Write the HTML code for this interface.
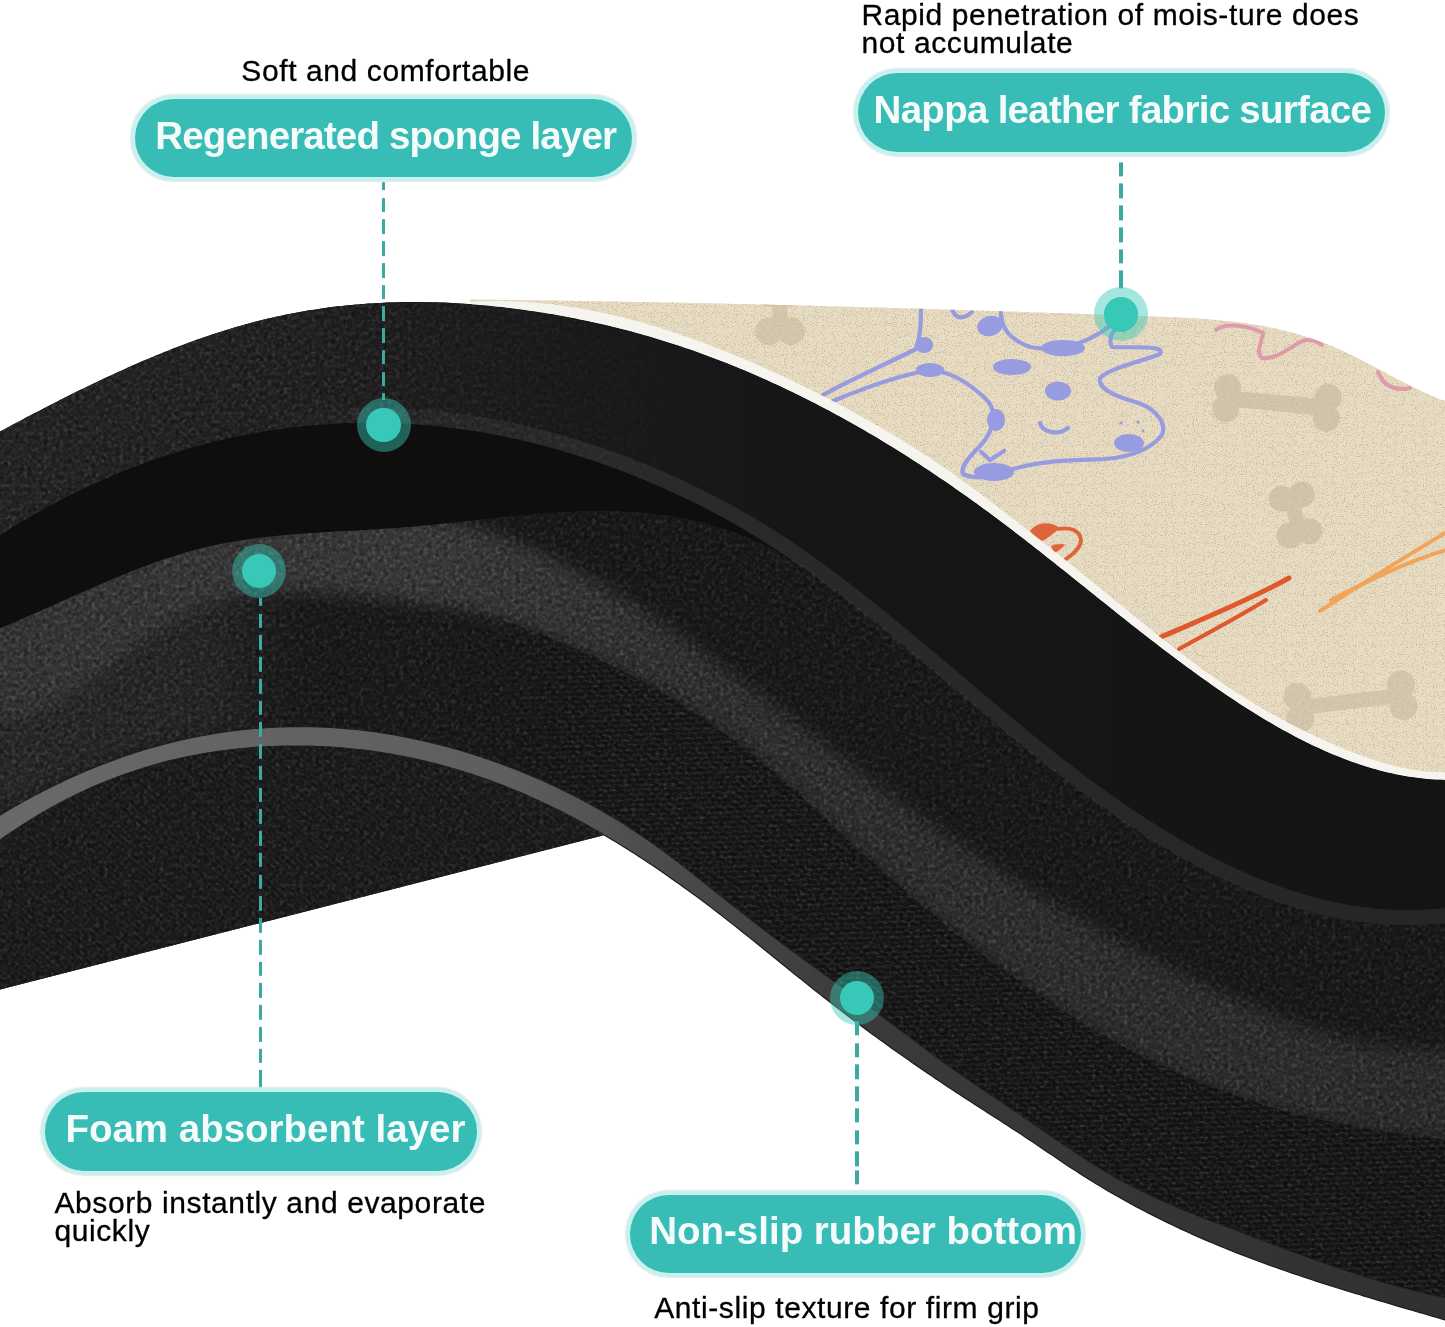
<!DOCTYPE html>
<html><head><meta charset="utf-8"><style>
html,body{margin:0;padding:0;}
body{width:1445px;height:1327px;position:relative;overflow:hidden;background:#fff;font-family:"Liberation Sans",sans-serif;}
.t{position:absolute;color:#000;-webkit-text-stroke:0.3px #000;font-size:30px;line-height:28px;white-space:nowrap;transform-origin:0 0;letter-spacing:0.6px}
.pt{position:absolute;color:#f4fbfa;font-weight:bold;line-height:1;white-space:nowrap;transform-origin:0 0}
</style></head><body>
<svg width="1445" height="1327" viewBox="0 0 1445 1327" style="position:absolute;left:0;top:0">

<path d="M-12.0,431.5 0.0,431.5 4.0,429.4 8.0,427.2 12.0,425.1 16.0,423.0 20.0,420.9 24.0,418.7 28.0,416.6 32.0,414.5 36.0,412.5 40.0,410.4 44.0,408.3 48.0,406.3 52.0,404.2 56.0,402.2 60.0,400.1 64.0,398.1 68.0,396.1 72.0,394.1 76.0,392.1 80.0,390.1 84.0,388.2 88.0,386.2 92.0,384.3 96.0,382.4 100.0,380.5 104.0,378.6 108.0,376.7 112.0,374.9 116.0,373.0 120.0,371.2 124.0,369.4 128.0,367.6 132.0,365.8 136.0,364.0 140.0,362.3 144.0,360.6 148.0,358.9 152.0,357.2 156.0,355.5 160.0,353.9 164.0,352.3 168.0,350.7 172.0,349.1 176.0,347.5 180.0,346.0 184.0,344.5 188.0,343.0 192.0,341.5 196.0,340.1 200.0,338.7 204.0,337.3 208.0,335.9 212.0,334.6 216.0,333.2 220.0,331.9 224.0,330.7 228.0,329.4 232.0,328.2 236.0,327.0 240.0,325.9 244.0,324.8 248.0,323.7 252.0,322.6 256.0,321.6 260.0,320.5 264.0,319.6 268.0,318.6 272.0,317.7 276.0,316.8 280.0,315.9 284.0,315.1 288.0,314.3 292.0,313.5 296.0,312.7 300.0,312.0 304.0,311.3 308.0,310.6 312.0,310.0 316.0,309.4 320.0,308.8 324.0,308.2 328.0,307.6 332.0,307.1 336.0,306.6 340.0,306.2 344.0,305.7 348.0,305.3 352.0,304.9 356.0,304.6 360.0,304.2 364.0,303.9 368.0,303.6 372.0,303.4 376.0,303.1 380.0,302.9 384.0,302.7 388.0,302.6 392.0,302.4 396.0,302.3 400.0,302.2 404.0,302.1 408.0,302.1 412.0,302.0 416.0,302.0 420.0,302.1 424.0,302.1 428.0,302.2 432.0,302.2 436.0,302.3 440.0,302.5 444.0,302.6 448.0,302.8 452.0,303.0 456.0,303.2 460.0,303.4 464.0,303.7 468.0,303.9 472.0,304.2 476.0,304.6 480.0,304.9 484.0,305.2 488.0,305.6 492.0,306.0 496.0,306.4 500.0,306.8 504.0,307.3 508.0,307.8 512.0,308.3 516.0,308.8 520.0,309.3 524.0,309.8 528.0,310.4 532.0,311.0 536.0,311.6 540.0,312.2 544.0,312.8 548.0,313.5 552.0,314.1 556.0,314.8 560.0,315.5 564.0,316.3 568.0,317.0 572.0,317.8 576.0,318.6 580.0,319.4 584.0,320.2 588.0,321.0 592.0,321.9 596.0,322.8 600.0,323.7 604.0,324.6 608.0,325.6 612.0,326.5 616.0,327.5 620.0,328.5 624.0,329.5 628.0,330.6 632.0,331.6 636.0,332.7 640.0,333.8 644.0,335.0 648.0,336.1 652.0,337.3 656.0,338.5 660.0,339.7 664.0,340.9 668.0,342.2 672.0,343.4 676.0,344.7 680.0,346.1 684.0,347.4 688.0,348.8 692.0,350.1 696.0,351.5 700.0,353.0 704.0,354.4 708.0,355.9 712.0,357.4 716.0,358.9 720.0,360.4 724.0,362.0 728.0,363.6 732.0,365.2 736.0,366.8 740.0,368.4 744.0,370.1 748.0,371.8 752.0,373.5 756.0,375.2 760.0,377.0 764.0,378.8 768.0,380.6 772.0,382.4 776.0,384.2 780.0,386.1 784.0,388.0 788.0,389.9 792.0,391.8 796.0,393.7 800.0,395.7 804.0,397.7 808.0,399.7 812.0,401.7 816.0,403.8 820.0,405.9 824.0,408.0 828.0,410.1 832.0,412.2 836.0,414.4 840.0,416.6 844.0,418.8 848.0,421.0 852.0,423.2 856.0,425.5 860.0,427.8 864.0,430.1 868.0,432.4 872.0,434.8 876.0,437.1 880.0,439.5 884.0,441.9 888.0,444.4 892.0,446.8 896.0,449.3 900.0,451.8 904.0,454.3 908.0,456.8 912.0,459.4 916.0,462.0 920.0,464.6 924.0,467.2 928.0,469.8 932.0,472.5 936.0,475.2 940.0,477.9 944.0,480.6 948.0,483.3 952.0,486.1 956.0,488.9 960.0,491.7 964.0,494.5 968.0,497.3 972.0,500.2 976.0,503.0 980.0,505.9 984.0,508.9 988.0,511.8 992.0,514.8 996.0,517.7 1000.0,520.7 1004.0,523.7 1008.0,526.8 1012.0,529.8 1016.0,532.9 1020.0,536.0 1024.0,539.1 1028.0,542.2 1032.0,545.3 1036.0,548.4 1040.0,551.6 1044.0,554.7 1048.0,557.9 1052.0,561.1 1056.0,564.2 1060.0,567.4 1064.0,570.6 1068.0,573.8 1072.0,577.0 1076.0,580.2 1080.0,583.4 1084.0,586.6 1088.0,589.8 1092.0,593.0 1096.0,596.2 1100.0,599.4 1104.0,602.6 1108.0,605.8 1112.0,609.0 1116.0,612.2 1120.0,615.4 1124.0,618.6 1128.0,621.7 1132.0,624.9 1136.0,628.0 1140.0,631.2 1144.0,634.3 1148.0,637.4 1152.0,640.5 1156.0,643.6 1160.0,646.7 1164.0,649.7 1168.0,652.8 1172.0,655.8 1176.0,658.8 1180.0,661.8 1184.0,664.8 1188.0,667.7 1192.0,670.6 1196.0,673.5 1200.0,676.4 1204.0,679.3 1208.0,682.1 1212.0,684.9 1216.0,687.7 1220.0,690.5 1224.0,693.2 1228.0,695.9 1232.0,698.6 1236.0,701.2 1240.0,703.9 1244.0,706.4 1248.0,709.0 1252.0,711.5 1256.0,714.0 1260.0,716.5 1264.0,718.9 1268.0,721.3 1272.0,723.6 1276.0,725.9 1280.0,728.2 1284.0,730.4 1288.0,732.6 1292.0,734.8 1296.0,736.9 1300.0,738.9 1304.0,741.0 1308.0,742.9 1312.0,744.9 1316.0,746.8 1320.0,748.6 1324.0,750.4 1328.0,752.2 1332.0,753.9 1336.0,755.5 1340.0,757.1 1344.0,758.7 1348.0,760.2 1352.0,761.7 1356.0,763.1 1360.0,764.4 1364.0,765.7 1368.0,767.0 1372.0,768.2 1376.0,769.3 1380.0,770.4 1384.0,771.4 1388.0,772.4 1392.0,773.3 1396.0,774.2 1400.0,775.0 1404.0,775.7 1408.0,776.4 1412.0,777.0 1416.0,777.6 1420.0,778.1 1424.0,778.5 1428.0,778.9 1432.0,779.2 1436.0,779.5 1440.0,779.6 1444.0,779.8 1445.0,779.8 1457.0,779.8 L1457,1340 L1445,1340 L1445.0,1320.0 1444.0,1319.7 1440.0,1318.5 1436.0,1317.3 1432.0,1316.1 1428.0,1315.0 1424.0,1313.8 1420.0,1312.6 1416.0,1311.5 1412.0,1310.3 1408.0,1309.1 1404.0,1307.9 1400.0,1306.8 1396.0,1305.6 1392.0,1304.4 1388.0,1303.2 1384.0,1302.0 1380.0,1300.9 1376.0,1299.7 1372.0,1298.5 1368.0,1297.3 1364.0,1296.1 1360.0,1294.8 1356.0,1293.6 1352.0,1292.4 1348.0,1291.2 1344.0,1289.9 1340.0,1288.7 1336.0,1287.5 1332.0,1286.2 1328.0,1284.9 1324.0,1283.7 1320.0,1282.4 1316.0,1281.1 1312.0,1279.8 1308.0,1278.5 1304.0,1277.1 1300.0,1275.8 1296.0,1274.4 1292.0,1273.1 1288.0,1271.7 1284.0,1270.3 1280.0,1268.9 1276.0,1267.5 1272.0,1266.1 1268.0,1264.7 1264.0,1263.2 1260.0,1261.7 1256.0,1260.2 1252.0,1258.7 1248.0,1257.2 1244.0,1255.7 1240.0,1254.1 1236.0,1252.6 1232.0,1251.0 1228.0,1249.4 1224.0,1247.8 1220.0,1246.1 1216.0,1244.5 1212.0,1242.8 1208.0,1241.1 1204.0,1239.4 1200.0,1237.6 1196.0,1235.9 1192.0,1234.1 1188.0,1232.3 1184.0,1230.4 1180.0,1228.6 1176.0,1226.7 1172.0,1224.8 1168.0,1222.9 1164.0,1220.9 1160.0,1219.0 1156.0,1217.0 1152.0,1214.9 1148.0,1212.9 1144.0,1210.8 1140.0,1208.7 1136.0,1206.6 1132.0,1204.4 1128.0,1202.2 1124.0,1200.0 1120.0,1197.8 1116.0,1195.5 1112.0,1193.2 1108.0,1190.9 1104.0,1188.5 1100.0,1186.1 1096.0,1183.7 1092.0,1181.3 1088.0,1178.8 1084.0,1176.2 1080.0,1173.7 1076.0,1171.1 1072.0,1168.5 1068.0,1165.9 1064.0,1163.2 1060.0,1160.5 1056.0,1157.8 1052.0,1155.1 1048.0,1152.4 1044.0,1149.7 1040.0,1147.0 1036.0,1144.3 1032.0,1141.6 1028.0,1139.0 1024.0,1136.3 1020.0,1133.6 1016.0,1131.0 1012.0,1128.4 1008.0,1125.8 1004.0,1123.2 1000.0,1120.6 996.0,1118.1 992.0,1115.5 988.0,1112.9 984.0,1110.3 980.0,1107.8 976.0,1105.2 972.0,1102.6 968.0,1100.0 964.0,1097.4 960.0,1094.8 956.0,1092.2 952.0,1089.5 948.0,1086.9 944.0,1084.2 940.0,1081.5 936.0,1078.9 932.0,1076.1 928.0,1073.4 924.0,1070.7 920.0,1068.0 916.0,1065.2 912.0,1062.4 908.0,1059.6 904.0,1056.8 900.0,1054.0 896.0,1051.2 892.0,1048.4 888.0,1045.5 884.0,1042.6 880.0,1039.7 876.0,1036.8 872.0,1033.9 868.0,1031.0 864.0,1028.0 860.0,1025.0 856.0,1022.0 852.0,1019.0 848.0,1016.0 844.0,1013.0 840.0,1009.9 836.0,1006.8 832.0,1003.7 828.0,1000.6 824.0,997.5 820.0,994.4 816.0,991.2 812.0,988.0 808.0,984.8 804.0,981.6 800.0,978.4 796.0,975.2 792.0,972.0 788.0,968.7 784.0,965.5 780.0,962.2 776.0,959.0 772.0,955.7 768.0,952.5 764.0,949.3 760.0,946.0 756.0,942.8 752.0,939.6 748.0,936.4 744.0,933.2 740.0,930.0 736.0,926.8 732.0,923.6 728.0,920.5 724.0,917.4 720.0,914.3 716.0,911.2 712.0,908.1 708.0,905.1 704.0,902.1 700.0,899.1 696.0,896.1 692.0,893.2 688.0,890.3 684.0,887.4 680.0,884.5 676.0,881.7 672.0,878.9 668.0,876.1 664.0,873.3 660.0,870.6 656.0,867.8 652.0,865.1 648.0,862.5 644.0,859.8 640.0,857.2 636.0,854.6 632.0,852.1 628.0,849.5 624.0,847.0 620.0,844.6 616.0,842.1 612.0,839.7 608.0,837.3 604.0,834.9 L0,989.5 L-12,992 Z" fill="#1a1a1a"/>
</svg>
<svg width="1545" height="1427" viewBox="-50 -50 1545 1427" style="position:absolute;left:-50px;top:-50px;filter:blur(8px)">
<defs><clipPath id="silclip"><path d="M-12.0,431.5 0.0,431.5 4.0,429.4 8.0,427.2 12.0,425.1 16.0,423.0 20.0,420.9 24.0,418.7 28.0,416.6 32.0,414.5 36.0,412.5 40.0,410.4 44.0,408.3 48.0,406.3 52.0,404.2 56.0,402.2 60.0,400.1 64.0,398.1 68.0,396.1 72.0,394.1 76.0,392.1 80.0,390.1 84.0,388.2 88.0,386.2 92.0,384.3 96.0,382.4 100.0,380.5 104.0,378.6 108.0,376.7 112.0,374.9 116.0,373.0 120.0,371.2 124.0,369.4 128.0,367.6 132.0,365.8 136.0,364.0 140.0,362.3 144.0,360.6 148.0,358.9 152.0,357.2 156.0,355.5 160.0,353.9 164.0,352.3 168.0,350.7 172.0,349.1 176.0,347.5 180.0,346.0 184.0,344.5 188.0,343.0 192.0,341.5 196.0,340.1 200.0,338.7 204.0,337.3 208.0,335.9 212.0,334.6 216.0,333.2 220.0,331.9 224.0,330.7 228.0,329.4 232.0,328.2 236.0,327.0 240.0,325.9 244.0,324.8 248.0,323.7 252.0,322.6 256.0,321.6 260.0,320.5 264.0,319.6 268.0,318.6 272.0,317.7 276.0,316.8 280.0,315.9 284.0,315.1 288.0,314.3 292.0,313.5 296.0,312.7 300.0,312.0 304.0,311.3 308.0,310.6 312.0,310.0 316.0,309.4 320.0,308.8 324.0,308.2 328.0,307.6 332.0,307.1 336.0,306.6 340.0,306.2 344.0,305.7 348.0,305.3 352.0,304.9 356.0,304.6 360.0,304.2 364.0,303.9 368.0,303.6 372.0,303.4 376.0,303.1 380.0,302.9 384.0,302.7 388.0,302.6 392.0,302.4 396.0,302.3 400.0,302.2 404.0,302.1 408.0,302.1 412.0,302.0 416.0,302.0 420.0,302.1 424.0,302.1 428.0,302.2 432.0,302.2 436.0,302.3 440.0,302.5 444.0,302.6 448.0,302.8 452.0,303.0 456.0,303.2 460.0,303.4 464.0,303.7 468.0,303.9 472.0,304.2 476.0,304.6 480.0,304.9 484.0,305.2 488.0,305.6 492.0,306.0 496.0,306.4 500.0,306.8 504.0,307.3 508.0,307.8 512.0,308.3 516.0,308.8 520.0,309.3 524.0,309.8 528.0,310.4 532.0,311.0 536.0,311.6 540.0,312.2 544.0,312.8 548.0,313.5 552.0,314.1 556.0,314.8 560.0,315.5 564.0,316.3 568.0,317.0 572.0,317.8 576.0,318.6 580.0,319.4 584.0,320.2 588.0,321.0 592.0,321.9 596.0,322.8 600.0,323.7 604.0,324.6 608.0,325.6 612.0,326.5 616.0,327.5 620.0,328.5 624.0,329.5 628.0,330.6 632.0,331.6 636.0,332.7 640.0,333.8 644.0,335.0 648.0,336.1 652.0,337.3 656.0,338.5 660.0,339.7 664.0,340.9 668.0,342.2 672.0,343.4 676.0,344.7 680.0,346.1 684.0,347.4 688.0,348.8 692.0,350.1 696.0,351.5 700.0,353.0 704.0,354.4 708.0,355.9 712.0,357.4 716.0,358.9 720.0,360.4 724.0,362.0 728.0,363.6 732.0,365.2 736.0,366.8 740.0,368.4 744.0,370.1 748.0,371.8 752.0,373.5 756.0,375.2 760.0,377.0 764.0,378.8 768.0,380.6 772.0,382.4 776.0,384.2 780.0,386.1 784.0,388.0 788.0,389.9 792.0,391.8 796.0,393.7 800.0,395.7 804.0,397.7 808.0,399.7 812.0,401.7 816.0,403.8 820.0,405.9 824.0,408.0 828.0,410.1 832.0,412.2 836.0,414.4 840.0,416.6 844.0,418.8 848.0,421.0 852.0,423.2 856.0,425.5 860.0,427.8 864.0,430.1 868.0,432.4 872.0,434.8 876.0,437.1 880.0,439.5 884.0,441.9 888.0,444.4 892.0,446.8 896.0,449.3 900.0,451.8 904.0,454.3 908.0,456.8 912.0,459.4 916.0,462.0 920.0,464.6 924.0,467.2 928.0,469.8 932.0,472.5 936.0,475.2 940.0,477.9 944.0,480.6 948.0,483.3 952.0,486.1 956.0,488.9 960.0,491.7 964.0,494.5 968.0,497.3 972.0,500.2 976.0,503.0 980.0,505.9 984.0,508.9 988.0,511.8 992.0,514.8 996.0,517.7 1000.0,520.7 1004.0,523.7 1008.0,526.8 1012.0,529.8 1016.0,532.9 1020.0,536.0 1024.0,539.1 1028.0,542.2 1032.0,545.3 1036.0,548.4 1040.0,551.6 1044.0,554.7 1048.0,557.9 1052.0,561.1 1056.0,564.2 1060.0,567.4 1064.0,570.6 1068.0,573.8 1072.0,577.0 1076.0,580.2 1080.0,583.4 1084.0,586.6 1088.0,589.8 1092.0,593.0 1096.0,596.2 1100.0,599.4 1104.0,602.6 1108.0,605.8 1112.0,609.0 1116.0,612.2 1120.0,615.4 1124.0,618.6 1128.0,621.7 1132.0,624.9 1136.0,628.0 1140.0,631.2 1144.0,634.3 1148.0,637.4 1152.0,640.5 1156.0,643.6 1160.0,646.7 1164.0,649.7 1168.0,652.8 1172.0,655.8 1176.0,658.8 1180.0,661.8 1184.0,664.8 1188.0,667.7 1192.0,670.6 1196.0,673.5 1200.0,676.4 1204.0,679.3 1208.0,682.1 1212.0,684.9 1216.0,687.7 1220.0,690.5 1224.0,693.2 1228.0,695.9 1232.0,698.6 1236.0,701.2 1240.0,703.9 1244.0,706.4 1248.0,709.0 1252.0,711.5 1256.0,714.0 1260.0,716.5 1264.0,718.9 1268.0,721.3 1272.0,723.6 1276.0,725.9 1280.0,728.2 1284.0,730.4 1288.0,732.6 1292.0,734.8 1296.0,736.9 1300.0,738.9 1304.0,741.0 1308.0,742.9 1312.0,744.9 1316.0,746.8 1320.0,748.6 1324.0,750.4 1328.0,752.2 1332.0,753.9 1336.0,755.5 1340.0,757.1 1344.0,758.7 1348.0,760.2 1352.0,761.7 1356.0,763.1 1360.0,764.4 1364.0,765.7 1368.0,767.0 1372.0,768.2 1376.0,769.3 1380.0,770.4 1384.0,771.4 1388.0,772.4 1392.0,773.3 1396.0,774.2 1400.0,775.0 1404.0,775.7 1408.0,776.4 1412.0,777.0 1416.0,777.6 1420.0,778.1 1424.0,778.5 1428.0,778.9 1432.0,779.2 1436.0,779.5 1440.0,779.6 1444.0,779.8 1445.0,779.8 1457.0,779.8 L1457,1340 L1445,1340 L1445.0,1320.0 1444.0,1319.7 1440.0,1318.5 1436.0,1317.3 1432.0,1316.1 1428.0,1315.0 1424.0,1313.8 1420.0,1312.6 1416.0,1311.5 1412.0,1310.3 1408.0,1309.1 1404.0,1307.9 1400.0,1306.8 1396.0,1305.6 1392.0,1304.4 1388.0,1303.2 1384.0,1302.0 1380.0,1300.9 1376.0,1299.7 1372.0,1298.5 1368.0,1297.3 1364.0,1296.1 1360.0,1294.8 1356.0,1293.6 1352.0,1292.4 1348.0,1291.2 1344.0,1289.9 1340.0,1288.7 1336.0,1287.5 1332.0,1286.2 1328.0,1284.9 1324.0,1283.7 1320.0,1282.4 1316.0,1281.1 1312.0,1279.8 1308.0,1278.5 1304.0,1277.1 1300.0,1275.8 1296.0,1274.4 1292.0,1273.1 1288.0,1271.7 1284.0,1270.3 1280.0,1268.9 1276.0,1267.5 1272.0,1266.1 1268.0,1264.7 1264.0,1263.2 1260.0,1261.7 1256.0,1260.2 1252.0,1258.7 1248.0,1257.2 1244.0,1255.7 1240.0,1254.1 1236.0,1252.6 1232.0,1251.0 1228.0,1249.4 1224.0,1247.8 1220.0,1246.1 1216.0,1244.5 1212.0,1242.8 1208.0,1241.1 1204.0,1239.4 1200.0,1237.6 1196.0,1235.9 1192.0,1234.1 1188.0,1232.3 1184.0,1230.4 1180.0,1228.6 1176.0,1226.7 1172.0,1224.8 1168.0,1222.9 1164.0,1220.9 1160.0,1219.0 1156.0,1217.0 1152.0,1214.9 1148.0,1212.9 1144.0,1210.8 1140.0,1208.7 1136.0,1206.6 1132.0,1204.4 1128.0,1202.2 1124.0,1200.0 1120.0,1197.8 1116.0,1195.5 1112.0,1193.2 1108.0,1190.9 1104.0,1188.5 1100.0,1186.1 1096.0,1183.7 1092.0,1181.3 1088.0,1178.8 1084.0,1176.2 1080.0,1173.7 1076.0,1171.1 1072.0,1168.5 1068.0,1165.9 1064.0,1163.2 1060.0,1160.5 1056.0,1157.8 1052.0,1155.1 1048.0,1152.4 1044.0,1149.7 1040.0,1147.0 1036.0,1144.3 1032.0,1141.6 1028.0,1139.0 1024.0,1136.3 1020.0,1133.6 1016.0,1131.0 1012.0,1128.4 1008.0,1125.8 1004.0,1123.2 1000.0,1120.6 996.0,1118.1 992.0,1115.5 988.0,1112.9 984.0,1110.3 980.0,1107.8 976.0,1105.2 972.0,1102.6 968.0,1100.0 964.0,1097.4 960.0,1094.8 956.0,1092.2 952.0,1089.5 948.0,1086.9 944.0,1084.2 940.0,1081.5 936.0,1078.9 932.0,1076.1 928.0,1073.4 924.0,1070.7 920.0,1068.0 916.0,1065.2 912.0,1062.4 908.0,1059.6 904.0,1056.8 900.0,1054.0 896.0,1051.2 892.0,1048.4 888.0,1045.5 884.0,1042.6 880.0,1039.7 876.0,1036.8 872.0,1033.9 868.0,1031.0 864.0,1028.0 860.0,1025.0 856.0,1022.0 852.0,1019.0 848.0,1016.0 844.0,1013.0 840.0,1009.9 836.0,1006.8 832.0,1003.7 828.0,1000.6 824.0,997.5 820.0,994.4 816.0,991.2 812.0,988.0 808.0,984.8 804.0,981.6 800.0,978.4 796.0,975.2 792.0,972.0 788.0,968.7 784.0,965.5 780.0,962.2 776.0,959.0 772.0,955.7 768.0,952.5 764.0,949.3 760.0,946.0 756.0,942.8 752.0,939.6 748.0,936.4 744.0,933.2 740.0,930.0 736.0,926.8 732.0,923.6 728.0,920.5 724.0,917.4 720.0,914.3 716.0,911.2 712.0,908.1 708.0,905.1 704.0,902.1 700.0,899.1 696.0,896.1 692.0,893.2 688.0,890.3 684.0,887.4 680.0,884.5 676.0,881.7 672.0,878.9 668.0,876.1 664.0,873.3 660.0,870.6 656.0,867.8 652.0,865.1 648.0,862.5 644.0,859.8 640.0,857.2 636.0,854.6 632.0,852.1 628.0,849.5 624.0,847.0 620.0,844.6 616.0,842.1 612.0,839.7 608.0,837.3 604.0,834.9 L0,989.5 L-12,992 Z"/></clipPath></defs>
<linearGradient id="midl" x1="0" y1="0" x2="1445" y2="0" gradientUnits="userSpaceOnUse"><stop offset="0" stop-color="#282828"/><stop offset="0.15" stop-color="#252525"/><stop offset="0.23" stop-color="#1a1a1a" stop-opacity="0"/></linearGradient>
<path d="M-60.0,718.2 0.0,718.2 4.0,718.3 8.0,718.2 12.0,717.9 16.0,717.4 20.0,716.8 24.0,715.9 28.0,714.8 32.0,713.6 36.0,712.2 40.0,710.7 44.0,709.0 48.0,707.1 52.0,705.1 56.0,703.1 60.0,700.8 64.0,698.5 68.0,696.1 72.0,693.6 76.0,690.9 80.0,688.3 84.0,685.5 88.0,682.7 92.0,679.8 96.0,676.8 100.0,673.9 104.0,670.8 108.0,667.8 112.0,664.7 116.0,661.6 120.0,658.6 124.0,655.5 128.0,652.4 132.0,649.4 136.0,646.3 140.0,643.4 144.0,640.4 148.0,637.5 152.0,634.6 156.0,631.9 160.0,629.1 164.0,626.5 168.0,624.0 172.0,621.5 176.0,619.1 180.0,616.9 184.0,614.8 188.0,612.7 192.0,610.8 196.0,609.0 200.0,607.3 204.0,605.7 208.0,604.2 212.0,602.8 216.0,601.5 220.0,600.3 224.0,599.2 228.0,598.2 232.0,597.2 236.0,596.4 240.0,595.6 244.0,594.9 248.0,594.3 252.0,593.7 256.0,593.2 260.0,592.8 264.0,592.4 268.0,592.1 272.0,591.9 276.0,591.7 280.0,591.6 284.0,591.5 288.0,591.5 292.0,591.5 296.0,591.5 300.0,591.6 304.0,591.8 308.0,592.0 312.0,592.2 316.0,592.4 320.0,592.7 324.0,593.0 328.0,593.3 332.0,593.6 336.0,594.0 340.0,594.3 344.0,594.7 348.0,595.1 352.0,595.5 356.0,595.9 360.0,596.3 364.0,596.7 368.0,597.1 372.0,597.5 376.0,597.9 380.0,598.3 384.0,598.7 388.0,599.1 392.0,599.6 396.0,600.0 400.0,600.5 L400.0,735.9 396.0,735.2 392.0,734.5 388.0,733.8 384.0,733.2 380.0,732.6 376.0,732.0 372.0,731.4 368.0,730.9 364.0,730.4 360.0,730.0 356.0,729.5 352.0,729.1 348.0,728.8 344.0,728.4 340.0,728.1 336.0,727.8 332.0,727.5 328.0,727.3 324.0,727.1 320.0,727.0 316.0,726.8 312.0,726.7 308.0,726.6 304.0,726.6 300.0,726.6 296.0,726.6 292.0,726.6 288.0,726.7 284.0,726.8 280.0,726.9 276.0,727.1 272.0,727.3 268.0,727.5 264.0,727.8 260.0,728.1 256.0,728.4 252.0,728.7 248.0,729.1 244.0,729.5 240.0,729.9 236.0,730.4 232.0,730.9 228.0,731.4 224.0,732.0 220.0,732.6 216.0,733.2 212.0,733.9 208.0,734.6 204.0,735.3 200.0,736.0 196.0,736.8 192.0,737.6 188.0,738.5 184.0,739.3 180.0,740.2 176.0,741.2 172.0,742.1 168.0,743.2 164.0,744.2 160.0,745.3 156.0,746.4 152.0,747.5 148.0,748.6 144.0,749.8 140.0,751.1 136.0,752.3 132.0,753.6 128.0,755.0 124.0,756.3 120.0,757.7 116.0,759.1 112.0,760.6 108.0,762.1 104.0,763.6 100.0,765.2 96.0,766.8 92.0,768.4 88.0,770.0 84.0,771.7 80.0,773.5 76.0,775.2 72.0,777.0 68.0,778.8 64.0,780.7 60.0,782.6 56.0,784.5 52.0,786.5 48.0,788.5 44.0,790.5 40.0,792.6 36.0,794.6 32.0,796.8 28.0,798.9 24.0,801.1 20.0,803.4 16.0,805.6 12.0,808.0 8.0,810.3 4.0,812.7 0.0,815.1 -60.0,815.1 Z" fill="url(#midl)"/>
<linearGradient id="lfg" x1="0" y1="0" x2="1445" y2="0" gradientUnits="userSpaceOnUse"><stop offset="0" stop-color="#343434"/><stop offset="0.3" stop-color="#383838"/><stop offset="0.5" stop-color="#2f2f2f"/><stop offset="1" stop-color="#2c2c2c"/></linearGradient>
<path d="M-60.0,603.2 0.0,603.2 4.0,601.6 8.0,599.9 12.0,598.2 16.0,596.5 20.0,594.8 24.0,593.0 28.0,591.3 32.0,589.5 36.0,587.8 40.0,586.0 44.0,584.2 48.0,582.4 52.0,580.7 56.0,578.9 60.0,577.1 64.0,575.3 68.0,573.5 72.0,571.7 76.0,569.9 80.0,568.1 84.0,566.4 88.0,564.6 92.0,562.9 96.0,561.1 100.0,559.4 104.0,557.7 108.0,556.0 112.0,554.3 116.0,552.6 120.0,550.9 124.0,549.3 128.0,547.7 132.0,546.1 136.0,544.5 140.0,543.0 144.0,541.5 148.0,540.0 152.0,538.5 156.0,537.1 160.0,535.7 164.0,534.3 168.0,533.0 172.0,531.7 176.0,530.4 180.0,529.2 184.0,528.0 188.0,526.8 192.0,525.7 196.0,524.7 200.0,523.6 204.0,522.7 208.0,521.7 212.0,520.8 216.0,520.0 220.0,519.1 224.0,518.3 228.0,517.6 232.0,516.9 236.0,516.2 240.0,515.5 244.0,514.9 248.0,514.3 252.0,513.8 256.0,513.2 260.0,512.7 264.0,512.2 268.0,511.8 272.0,511.3 276.0,510.9 280.0,510.5 284.0,510.1 288.0,509.8 292.0,509.5 296.0,509.1 300.0,508.8 304.0,508.5 308.0,508.2 312.0,508.0 316.0,507.7 320.0,507.5 324.0,507.2 328.0,507.0 332.0,506.7 336.0,506.5 340.0,506.3 344.0,506.1 348.0,505.9 352.0,505.7 356.0,505.4 360.0,505.2 364.0,505.0 368.0,504.8 372.0,504.5 376.0,504.3 380.0,504.0 384.0,503.8 388.0,503.5 392.0,503.3 396.0,503.0 400.0,502.7 404.0,502.3 408.0,502.0 412.0,501.7 416.0,501.3 420.0,500.9 424.0,500.6 428.0,500.2 432.0,499.8 436.0,499.4 440.0,498.9 444.0,498.5 448.0,498.1 452.0,497.7 456.0,497.2 460.0,496.8 464.0,496.3 468.0,495.9 472.0,495.4 476.0,495.0 480.0,494.5 484.0,494.1 488.0,493.6 492.0,493.2 496.0,492.8 500.0,492.3 504.0,491.9 508.0,491.5 512.0,491.1 516.0,490.7 520.0,490.3 524.0,489.9 528.0,489.5 532.0,489.2 536.0,488.8 540.0,488.5 544.0,488.2 548.0,487.9 552.0,487.6 556.0,487.3 560.0,487.1 564.0,486.9 568.0,486.7 572.0,486.5 576.0,486.3 580.0,486.2 584.0,486.1 588.0,486.0 592.0,485.9 596.0,485.9 600.0,485.9 604.0,485.9 608.0,485.9 612.0,486.0 616.0,486.1 620.0,486.2 624.0,486.4 628.0,486.6 632.0,486.9 636.0,487.1 640.0,487.4 644.0,487.8 648.0,488.2 652.0,488.6 656.0,489.1 660.0,489.6 664.0,490.1 668.0,490.7 672.0,491.3 676.0,492.0 680.0,492.7 684.0,493.5 688.0,494.3 692.0,495.2 696.0,496.1 700.0,497.0 704.0,498.0 708.0,499.1 712.0,500.2 716.0,501.4 720.0,502.6 724.0,503.9 728.0,505.2 732.0,506.6 736.0,508.0 740.0,509.5 744.0,511.1 748.0,512.7 752.0,514.4 756.0,516.1 760.0,517.9 764.0,519.8 768.0,521.7 772.0,523.7 776.0,525.8 780.0,527.9 784.0,530.1 788.0,532.4 792.0,534.7 796.0,537.2 800.0,539.6 804.0,542.2 808.0,544.8 812.0,547.5 816.0,550.3 820.0,553.1 824.0,556.1 828.0,559.1 832.0,562.1 836.0,565.3 840.0,568.5 844.0,571.9 848.0,575.3 850.0,577.0 852.0,577.5 856.0,580.6 860.0,583.7 864.0,586.9 868.0,590.1 872.0,593.3 876.0,596.5 880.0,599.7 884.0,603.0 888.0,606.2 892.0,609.5 896.0,612.8 900.0,616.1 904.0,619.4 908.0,622.7 912.0,626.1 916.0,629.4 920.0,632.7 924.0,636.1 928.0,639.5 932.0,642.8 936.0,646.2 940.0,649.6 944.0,652.9 948.0,656.3 952.0,659.7 956.0,663.1 960.0,666.5 964.0,669.9 968.0,673.2 972.0,676.6 976.0,680.0 980.0,683.4 984.0,686.7 988.0,690.1 992.0,693.4 996.0,696.8 1000.0,700.1 1004.0,703.4 1008.0,706.8 1012.0,710.1 1016.0,713.4 1020.0,716.7 1024.0,719.9 1028.0,723.2 1032.0,726.4 1036.0,729.7 1040.0,732.9 1044.0,736.1 1048.0,739.3 1052.0,742.4 1056.0,745.6 1060.0,748.7 1064.0,751.8 1068.0,754.9 1072.0,758.0 1076.0,761.0 1080.0,764.0 1084.0,767.0 1088.0,770.0 1092.0,772.9 1096.0,775.8 1100.0,778.7 1104.0,781.6 1108.0,784.4 1112.0,787.2 1116.0,790.0 1120.0,792.7 1124.0,795.5 1128.0,798.2 1132.0,800.8 1136.0,803.5 1140.0,806.1 1144.0,808.7 1148.0,811.2 1152.0,813.7 1156.0,816.2 1160.0,818.7 1164.0,821.1 1168.0,823.5 1172.0,825.9 1176.0,828.2 1180.0,830.5 1184.0,832.8 1188.0,835.1 1192.0,837.3 1196.0,839.4 1200.0,841.6 1204.0,843.7 1208.0,845.8 1212.0,847.8 1216.0,849.8 1220.0,851.8 1224.0,853.7 1228.0,855.6 1232.0,857.5 1236.0,859.3 1240.0,861.1 1244.0,862.9 1248.0,864.6 1252.0,866.3 1256.0,867.9 1260.0,869.6 1264.0,871.1 1268.0,872.7 1272.0,874.2 1276.0,875.6 1280.0,877.0 1284.0,878.4 1288.0,879.8 1292.0,881.1 1296.0,882.3 1300.0,883.5 1304.0,884.7 1308.0,885.9 1312.0,886.9 1316.0,888.0 1320.0,889.0 1324.0,890.0 1328.0,890.9 1332.0,891.8 1336.0,892.6 1340.0,893.4 1344.0,894.2 1348.0,894.9 1352.0,895.6 1356.0,896.2 1360.0,896.8 1364.0,897.3 1368.0,897.8 1372.0,898.3 1376.0,898.7 1380.0,899.0 1384.0,899.3 1388.0,899.6 1392.0,899.8 1396.0,900.0 1400.0,900.1 1404.0,900.1 1408.0,900.2 1412.0,900.1 1416.0,900.1 1420.0,899.9 1424.0,899.8 1428.0,899.5 1432.0,899.3 1436.0,899.0 1440.0,898.6 1444.0,898.2 1445.0,898.0 1505.0,898.0 L1505.0,1139.5 1445.0,1139.5 1444.0,1139.4 1440.0,1139.0 1436.0,1138.5 1432.0,1138.1 1428.0,1137.7 1424.0,1137.2 1420.0,1136.7 1416.0,1136.2 1412.0,1135.7 1408.0,1135.2 1404.0,1134.7 1400.0,1134.2 1396.0,1133.6 1392.0,1133.0 1388.0,1132.4 1384.0,1131.8 1380.0,1131.2 1376.0,1130.5 1372.0,1129.9 1368.0,1129.2 1364.0,1128.5 1360.0,1127.8 1356.0,1127.1 1352.0,1126.3 1348.0,1125.6 1344.0,1124.8 1340.0,1124.0 1336.0,1123.2 1332.0,1122.3 1328.0,1121.5 1324.0,1120.6 1320.0,1119.7 1316.0,1118.8 1312.0,1117.9 1308.0,1116.9 1304.0,1115.9 1300.0,1114.9 1296.0,1113.9 1292.0,1112.9 1288.0,1111.8 1284.0,1110.7 1280.0,1109.6 1276.0,1108.5 1272.0,1107.4 1268.0,1106.2 1264.0,1105.0 1260.0,1103.8 1256.0,1102.5 1252.0,1101.3 1248.0,1100.0 1244.0,1098.7 1240.0,1097.3 1236.0,1096.0 1232.0,1094.6 1228.0,1093.2 1224.0,1091.8 1220.0,1090.3 1216.0,1088.8 1212.0,1087.3 1208.0,1085.8 1204.0,1084.2 1200.0,1082.6 1196.0,1081.0 1192.0,1079.4 1188.0,1077.7 1184.0,1076.0 1180.0,1074.3 1176.0,1072.5 1172.0,1070.7 1168.0,1068.9 1164.0,1067.1 1160.0,1065.2 1156.0,1063.3 1152.0,1061.4 1148.0,1059.5 1144.0,1057.5 1140.0,1055.5 1136.0,1053.4 1132.0,1051.4 1128.0,1049.3 1124.0,1047.1 1120.0,1045.0 1116.0,1042.8 1112.0,1040.6 1108.0,1038.3 1104.0,1036.1 1100.0,1033.8 1096.0,1031.4 1092.0,1029.1 1088.0,1026.7 1084.0,1024.3 1080.0,1021.8 1076.0,1019.3 1072.0,1016.8 1068.0,1014.3 1064.0,1011.8 1060.0,1009.2 1056.0,1006.6 1052.0,1004.0 1048.0,1001.3 1044.0,998.6 1040.0,995.9 1036.0,993.2 1032.0,990.4 1028.0,987.6 1024.0,984.8 1020.0,982.0 1016.0,979.1 1012.0,976.3 1008.0,973.4 1004.0,970.4 1000.0,967.5 996.0,964.5 992.0,961.5 988.0,958.5 984.0,955.4 980.0,952.4 976.0,949.3 972.0,946.2 968.0,943.1 964.0,939.9 960.0,936.7 956.0,933.5 952.0,930.3 948.0,927.1 944.0,923.8 940.0,920.6 936.0,917.3 932.0,913.9 928.0,910.6 924.0,907.3 920.0,903.9 916.0,900.5 912.0,897.1 908.0,893.7 904.0,890.2 900.0,886.7 896.0,883.3 892.0,879.8 888.0,876.2 884.0,872.7 880.0,869.1 876.0,865.6 872.0,862.0 868.0,858.4 864.0,854.8 860.0,851.1 856.0,847.5 852.0,843.8 848.0,840.1 844.0,836.4 840.0,832.7 836.0,828.9 832.0,825.2 828.0,821.5 824.0,817.8 820.0,814.0 816.0,810.3 812.0,806.6 808.0,802.9 804.0,799.2 800.0,795.6 796.0,792.0 792.0,788.4 788.0,784.8 784.0,781.3 780.0,777.8 776.0,774.4 772.0,771.0 768.0,767.6 764.0,764.3 760.0,761.0 756.0,757.7 752.0,754.5 748.0,751.3 744.0,748.2 740.0,745.1 736.0,742.0 732.0,739.0 728.0,736.0 724.0,733.1 720.0,730.1 716.0,727.3 712.0,724.4 708.0,721.6 704.0,718.9 700.0,716.2 696.0,713.5 692.0,710.9 688.0,708.3 684.0,705.7 680.0,703.2 676.0,700.7 672.0,698.3 668.0,695.9 664.0,693.6 660.0,691.2 656.0,688.9 652.0,686.7 648.0,684.4 644.0,682.3 640.0,680.1 636.0,677.9 632.0,675.8 628.0,673.8 624.0,671.7 620.0,669.7 616.0,667.7 612.0,665.7 608.0,663.7 604.0,661.8 600.0,659.9 596.0,658.0 592.0,656.1 588.0,654.2 584.0,652.4 580.0,650.6 576.0,648.8 572.0,647.0 568.0,645.2 564.0,643.4 560.0,641.7 556.0,640.0 552.0,638.3 548.0,636.7 544.0,635.0 540.0,633.4 536.0,631.9 532.0,630.3 528.0,628.8 524.0,627.4 520.0,625.9 516.0,624.5 512.0,623.2 508.0,621.9 504.0,620.6 500.0,619.4 496.0,618.2 492.0,617.1 488.0,616.0 484.0,615.0 480.0,614.0 476.0,613.0 472.0,612.1 468.0,611.2 464.0,610.4 460.0,609.5 456.0,608.8 452.0,608.0 448.0,607.3 444.0,606.6 440.0,605.9 436.0,605.3 432.0,604.7 428.0,604.1 424.0,603.5 420.0,603.0 416.0,602.4 412.0,601.9 408.0,601.4 404.0,600.9 400.0,600.5 396.0,600.0 392.0,599.6 388.0,599.1 384.0,598.7 380.0,598.3 376.0,597.9 372.0,597.5 368.0,597.1 364.0,596.7 360.0,596.3 356.0,595.9 352.0,595.5 348.0,595.1 344.0,594.7 340.0,594.3 336.0,594.0 332.0,593.6 328.0,593.3 324.0,593.0 320.0,592.7 316.0,592.4 312.0,592.2 308.0,592.0 304.0,591.8 300.0,591.6 296.0,591.5 292.0,591.5 288.0,591.5 284.0,591.5 280.0,591.6 276.0,591.7 272.0,591.9 268.0,592.1 264.0,592.4 260.0,592.8 256.0,593.2 252.0,593.7 248.0,594.3 244.0,594.9 240.0,595.6 236.0,596.4 232.0,597.2 228.0,598.2 224.0,599.2 220.0,600.3 216.0,601.5 212.0,602.8 208.0,604.2 204.0,605.7 200.0,607.3 196.0,609.0 192.0,610.8 188.0,612.7 184.0,614.8 180.0,616.9 176.0,619.1 172.0,621.5 168.0,624.0 164.0,626.5 160.0,629.1 156.0,631.9 152.0,634.6 148.0,637.5 144.0,640.4 140.0,643.4 136.0,646.3 132.0,649.4 128.0,652.4 124.0,655.5 120.0,658.6 116.0,661.6 112.0,664.7 108.0,667.8 104.0,670.8 100.0,673.9 96.0,676.8 92.0,679.8 88.0,682.7 84.0,685.5 80.0,688.3 76.0,690.9 72.0,693.6 68.0,696.1 64.0,698.5 60.0,700.8 56.0,703.1 52.0,705.1 48.0,707.1 44.0,709.0 40.0,710.7 36.0,712.2 32.0,713.6 28.0,714.8 24.0,715.9 20.0,716.8 16.0,717.4 12.0,717.9 8.0,718.2 4.0,718.3 0.0,718.2 -60.0,718.2 Z" fill="url(#lfg)"/>
<path d="M420.0,399.5 424.0,399.8 428.0,400.1 432.0,400.5 436.0,400.9 440.0,401.3 444.0,401.7 448.0,402.2 452.0,402.7 456.0,403.2 460.0,403.7 464.0,404.3 468.0,404.9 472.0,405.5 476.0,406.1 480.0,406.8 484.0,407.4 488.0,408.1 492.0,408.9 496.0,409.6 500.0,410.4 504.0,411.2 508.0,412.0 512.0,412.9 516.0,413.8 520.0,414.6 524.0,415.6 528.0,416.5 532.0,417.5 536.0,418.5 540.0,419.5 544.0,420.5 548.0,421.6 552.0,422.7 556.0,423.8 560.0,424.9 564.0,426.1 568.0,427.3 572.0,428.5 576.0,429.7 580.0,431.0 584.0,432.2 588.0,433.5 592.0,434.9 596.0,436.2 600.0,437.6 604.0,439.0 608.0,440.4 612.0,441.8 616.0,443.3 620.0,444.8 624.0,446.3 628.0,447.9 632.0,449.4 636.0,451.0 640.0,452.6 644.0,454.2 648.0,455.9 652.0,457.6 656.0,459.3 660.0,461.0 664.0,462.7 668.0,464.5 672.0,466.3 676.0,468.1 680.0,470.0 684.0,471.8 688.0,473.7 692.0,475.7 696.0,477.6 700.0,479.6 704.0,481.6 708.0,483.6 712.0,485.7 716.0,487.8 720.0,489.9 724.0,492.1 728.0,494.3 732.0,496.5 736.0,498.7 740.0,501.0 744.0,503.3 748.0,505.6 752.0,508.0 756.0,510.4 760.0,512.8 764.0,515.3 768.0,517.8 772.0,520.3 776.0,522.9 780.0,525.5 784.0,528.1 788.0,530.8 792.0,533.5 796.0,536.2 800.0,539.0 804.0,541.8 808.0,544.6 812.0,547.5 816.0,550.3 820.0,553.3 824.0,556.2 828.0,559.2 832.0,562.2 836.0,565.2 840.0,568.2 844.0,571.3 848.0,574.4 852.0,577.5 856.0,580.6 860.0,583.7 864.0,586.9 868.0,590.1 872.0,593.3 876.0,596.5 880.0,599.7 884.0,603.0 888.0,606.2 892.0,609.5 896.0,612.8 900.0,616.1 904.0,619.4 908.0,622.7 912.0,626.1 916.0,629.4 920.0,632.7 924.0,636.1 928.0,639.5 932.0,642.8 936.0,646.2 940.0,649.6 944.0,652.9 948.0,656.3 952.0,659.7 956.0,663.1 960.0,666.5 964.0,669.9 968.0,673.2 972.0,676.6 976.0,680.0 980.0,683.4 984.0,686.7 988.0,690.1 992.0,693.4 996.0,696.8 1000.0,700.1 1004.0,703.4 1008.0,706.8 1012.0,710.1 1016.0,713.4 1020.0,716.7 1024.0,719.9 1028.0,723.2 1032.0,726.4 1036.0,729.7 1040.0,732.9 1044.0,736.1 1048.0,739.3 1052.0,742.4 1056.0,745.6 1060.0,748.7 1064.0,751.8 1068.0,754.9 1072.0,758.0 1076.0,761.0 1080.0,764.0 1084.0,767.0 1088.0,770.0 1092.0,772.9 1096.0,775.8 1100.0,778.7 1104.0,781.6 1108.0,784.4 1112.0,787.2 1116.0,790.0 1120.0,792.7 1124.0,795.5 1128.0,798.2 1132.0,800.8 1136.0,803.5 1140.0,806.1 1144.0,808.7 1148.0,811.2 1152.0,813.7 1156.0,816.2 1160.0,818.7 1164.0,821.1 1168.0,823.5 1172.0,825.9 1176.0,828.2 1180.0,830.5 1184.0,832.8 1188.0,835.1 1192.0,837.3 1196.0,839.4 1200.0,841.6 1204.0,843.7 1208.0,845.8 1212.0,847.8 1216.0,849.8 1220.0,851.8 1224.0,853.7 1228.0,855.6 1232.0,857.5 1236.0,859.3 1240.0,861.1 1244.0,862.9 1248.0,864.6 1252.0,866.3 1256.0,867.9 1260.0,869.6 1264.0,871.1 1268.0,872.7 1272.0,874.2 1276.0,875.6 1280.0,877.0 1284.0,878.4 1288.0,879.8 1292.0,881.1 1296.0,882.3 1300.0,883.5 1304.0,884.7 1308.0,885.9 1312.0,886.9 1316.0,888.0 1320.0,889.0 1324.0,890.0 1328.0,890.9 1332.0,891.8 1336.0,892.6 1340.0,893.4 1344.0,894.2 1348.0,894.9 1352.0,895.6 1356.0,896.2 1360.0,896.8 1364.0,897.3 1368.0,897.8 1372.0,898.3 1376.0,898.7 1380.0,899.0 1384.0,899.3 1388.0,899.6 1392.0,899.8 1396.0,900.0 1400.0,900.1 1404.0,900.1 1408.0,900.2 1412.0,900.1 1416.0,900.1 1420.0,899.9 1424.0,899.8 1428.0,899.5 1432.0,899.3 1436.0,899.0 1440.0,898.6 1444.0,898.2 1445.0,898.0 1505.0,898.0 L1505.0,1050.4 1445.0,1050.4 1444.0,1050.4 1440.0,1050.6 1436.0,1050.6 1432.0,1050.7 1428.0,1050.7 1424.0,1050.6 1420.0,1050.5 1416.0,1050.3 1412.0,1050.0 1408.0,1049.8 1404.0,1049.4 1400.0,1049.0 1396.0,1048.6 1392.0,1048.1 1388.0,1047.6 1384.0,1047.0 1380.0,1046.4 1376.0,1045.7 1372.0,1045.0 1368.0,1044.3 1364.0,1043.5 1360.0,1042.6 1356.0,1041.7 1352.0,1040.8 1348.0,1039.9 1344.0,1038.8 1340.0,1037.8 1336.0,1036.7 1332.0,1035.6 1328.0,1034.5 1324.0,1033.3 1320.0,1032.0 1316.0,1030.8 1312.0,1029.5 1308.0,1028.2 1304.0,1026.8 1300.0,1025.4 1296.0,1024.0 1292.0,1022.5 1288.0,1021.1 1284.0,1019.6 1280.0,1018.0 1276.0,1016.5 1272.0,1014.9 1268.0,1013.3 1264.0,1011.6 1260.0,1010.0 1256.0,1008.3 1252.0,1006.6 1248.0,1004.8 1244.0,1003.1 1240.0,1001.3 1236.0,999.5 1232.0,997.7 1228.0,995.9 1224.0,994.0 1220.0,992.2 1216.0,990.3 1212.0,988.4 1208.0,986.5 1204.0,984.6 1200.0,982.6 1196.0,980.7 1192.0,978.7 1188.0,976.8 1184.0,974.8 1180.0,972.8 1176.0,970.8 1172.0,968.8 1168.0,966.8 1164.0,964.8 1160.0,962.7 1156.0,960.7 1152.0,958.6 1148.0,956.6 1144.0,954.5 1140.0,952.4 1136.0,950.3 1132.0,948.2 1128.0,946.1 1124.0,944.0 1120.0,941.8 1116.0,939.7 1112.0,937.5 1108.0,935.3 1104.0,933.1 1100.0,930.9 1096.0,928.7 1092.0,926.5 1088.0,924.3 1084.0,922.0 1080.0,919.7 1076.0,917.4 1072.0,915.1 1068.0,912.8 1064.0,910.5 1060.0,908.2 1056.0,905.8 1052.0,903.5 1048.0,901.1 1044.0,898.7 1040.0,896.3 1036.0,893.8 1032.0,891.4 1028.0,888.9 1024.0,886.5 1020.0,884.0 1016.0,881.5 1012.0,879.0 1008.0,876.4 1004.0,873.9 1000.0,871.3 996.0,868.7 992.0,866.2 988.0,863.5 984.0,860.9 980.0,858.3 976.0,855.6 972.0,852.9 968.0,850.3 964.0,847.5 960.0,844.8 956.0,842.1 952.0,839.3 948.0,836.5 944.0,833.8 940.0,830.9 936.0,828.1 932.0,825.3 928.0,822.4 924.0,819.5 920.0,816.6 916.0,813.7 912.0,810.8 908.0,807.9 904.0,804.9 900.0,802.0 896.0,799.0 892.0,796.0 888.0,793.0 884.0,790.0 880.0,787.0 876.0,784.0 872.0,781.0 868.0,777.9 864.0,774.9 860.0,771.8 856.0,768.8 852.0,765.7 848.0,762.6 844.0,759.5 840.0,756.5 836.0,753.4 832.0,750.3 828.0,747.2 824.0,744.1 820.0,741.0 816.0,737.9 812.0,734.8 808.0,731.7 804.0,728.6 800.0,725.5 796.0,722.4 792.0,719.3 788.0,716.2 784.0,713.2 780.0,710.1 776.0,707.0 772.0,703.9 768.0,700.9 764.0,697.8 760.0,694.7 756.0,691.7 752.0,688.7 748.0,685.6 744.0,682.6 740.0,679.6 736.0,676.6 732.0,673.6 728.0,670.6 724.0,667.6 720.0,664.7 716.0,661.7 712.0,658.8 708.0,655.8 704.0,652.9 700.0,650.0 696.0,647.2 692.0,644.3 688.0,641.5 684.0,638.6 680.0,635.8 676.0,633.0 672.0,630.2 668.0,627.5 664.0,624.7 660.0,622.0 656.0,619.3 652.0,616.6 648.0,614.0 644.0,611.4 640.0,608.7 636.0,606.2 632.0,603.6 628.0,601.1 624.0,598.5 620.0,596.0 616.0,593.6 612.0,591.1 608.0,588.7 604.0,586.3 600.0,584.0 596.0,581.7 592.0,579.4 588.0,577.1 584.0,574.9 580.0,572.7 576.0,570.5 572.0,568.3 568.0,566.2 564.0,564.1 560.0,562.1 556.0,560.1 552.0,558.1 548.0,556.2 544.0,554.3 540.0,552.4 536.0,550.6 532.0,548.8 528.0,547.0 524.0,545.3 520.0,543.6 516.0,542.0 512.0,540.4 508.0,538.8 504.0,537.3 500.0,535.8 496.0,534.4 492.0,533.0 488.0,531.6 484.0,530.3 480.0,529.1 476.0,527.8 472.0,526.7 468.0,525.5 464.0,524.5 460.0,523.4 456.0,522.4 452.0,521.5 448.0,520.6 444.0,519.8 440.0,519.0 436.0,518.2 432.0,517.6 428.0,516.9 424.0,516.3 420.0,515.8 416.0,515.3 412.0,514.9 408.0,514.5 404.0,514.2 400.0,513.9 396.0,513.7 392.0,513.6 388.0,513.5 384.0,513.4 380.0,513.5 Z" fill="#191919"/>
</svg>
<svg width="1445" height="1327" viewBox="0 0 1445 1327" style="position:absolute;left:0;top:0">
<defs>
<linearGradient id="gband" x1="0" y1="0" x2="1445" y2="0" gradientUnits="userSpaceOnUse">
<stop offset="0" stop-color="#696969"/><stop offset="0.35" stop-color="#5e5e5e"/><stop offset="0.45" stop-color="#4c4c4c"/><stop offset="0.6" stop-color="#3a3a3a"/><stop offset="1" stop-color="#303030"/></linearGradient>
<linearGradient id="face" x1="0" y1="0" x2="1445" y2="0" gradientUnits="userSpaceOnUse">
<stop offset="0" stop-color="#242424"/><stop offset="0.2" stop-color="#212121"/><stop offset="0.4" stop-color="#1a1a1a"/><stop offset="0.55" stop-color="#161616"/><stop offset="1" stop-color="#141414"/></linearGradient>
<linearGradient id="edgeg" x1="0" y1="0" x2="1445" y2="0" gradientUnits="userSpaceOnUse">
<stop offset="0.18" stop-color="#2a2a2a" stop-opacity="0"/><stop offset="0.28" stop-color="#2a2a2a" stop-opacity="0.8"/><stop offset="0.4" stop-color="#2a2a2a"/><stop offset="1" stop-color="#262626"/></linearGradient>
<linearGradient id="knitg" x1="0" y1="0" x2="1445" y2="0" gradientUnits="userSpaceOnUse">
<stop offset="0.3" stop-color="#151515" stop-opacity="0"/><stop offset="0.4" stop-color="#151515"/><stop offset="1" stop-color="#141414"/></linearGradient>
<clipPath id="bclip"><path d="M470.0,299.6 474.0,299.6 478.0,299.7 482.0,299.7 486.0,299.8 490.0,299.8 494.0,299.8 498.0,299.9 502.0,299.9 506.0,300.0 510.0,300.0 514.0,300.1 518.0,300.1 522.0,300.2 526.0,300.2 530.0,300.3 534.0,300.3 538.0,300.4 542.0,300.4 546.0,300.5 550.0,300.5 554.0,300.6 558.0,300.6 562.0,300.7 566.0,300.7 570.0,300.8 574.0,300.9 578.0,300.9 582.0,301.0 586.0,301.0 590.0,301.1 594.0,301.2 598.0,301.2 602.0,301.3 606.0,301.4 610.0,301.4 614.0,301.5 618.0,301.6 622.0,301.6 626.0,301.7 630.0,301.8 634.0,301.9 638.0,301.9 642.0,302.0 646.0,302.1 650.0,302.1 654.0,302.2 658.0,302.3 662.0,302.4 666.0,302.4 670.0,302.5 674.0,302.6 678.0,302.7 682.0,302.8 686.0,302.8 690.0,302.9 694.0,303.0 698.0,303.1 702.0,303.2 706.0,303.3 710.0,303.3 714.0,303.4 718.0,303.5 722.0,303.6 726.0,303.7 730.0,303.8 734.0,303.9 738.0,304.0 742.0,304.1 746.0,304.1 750.0,304.2 754.0,304.3 758.0,304.4 762.0,304.5 766.0,304.6 770.0,304.7 774.0,304.8 778.0,304.9 782.0,305.0 786.0,305.1 790.0,305.2 794.0,305.3 798.0,305.4 802.0,305.5 806.0,305.6 810.0,305.7 814.0,305.8 818.0,305.9 822.0,306.0 826.0,306.1 830.0,306.2 834.0,306.3 838.0,306.4 842.0,306.5 846.0,306.7 850.0,306.8 854.0,306.9 858.0,307.0 862.0,307.1 866.0,307.2 870.0,307.3 874.0,307.4 878.0,307.5 882.0,307.6 886.0,307.8 890.0,307.9 894.0,308.0 898.0,308.1 902.0,308.2 906.0,308.3 910.0,308.5 914.0,308.6 918.0,308.7 922.0,308.8 926.0,308.9 930.0,309.0 934.0,309.2 938.0,309.3 942.0,309.4 946.0,309.5 950.0,309.7 954.0,309.8 958.0,309.9 962.0,310.0 966.0,310.2 970.0,310.3 974.0,310.4 978.0,310.5 982.0,310.7 986.0,310.8 990.0,310.9 994.0,311.0 998.0,311.2 1002.0,311.3 1006.0,311.4 1010.0,311.6 1014.0,311.7 1018.0,311.8 1022.0,311.9 1026.0,312.1 1030.0,312.2 1034.0,312.3 1038.0,312.5 1042.0,312.6 1046.0,312.7 1050.0,312.9 1054.0,313.0 1058.0,313.1 1062.0,313.3 1066.0,313.4 1070.0,313.6 1074.0,313.7 1078.0,313.8 1082.0,314.0 1086.0,314.1 1090.0,314.2 1094.0,314.4 1098.0,314.5 1102.0,314.7 1106.0,314.8 1110.0,314.9 1114.0,315.1 1118.0,315.2 1122.0,315.4 1126.0,315.5 1130.0,315.7 1134.0,315.8 1138.0,315.9 1142.0,316.1 1146.0,316.2 1150.0,316.4 1154.0,316.5 1158.0,316.7 1162.0,316.8 1166.0,317.0 1170.0,317.1 1174.0,317.3 1178.0,317.5 1182.0,317.7 1186.0,317.9 1190.0,318.1 1194.0,318.3 1198.0,318.6 1202.0,318.8 1206.0,319.1 1210.0,319.4 1214.0,319.7 1218.0,320.1 1222.0,320.5 1226.0,320.9 1230.0,321.3 1234.0,321.7 1238.0,322.2 1242.0,322.8 1246.0,323.3 1250.0,323.9 1254.0,324.5 1258.0,325.2 1262.0,325.9 1266.0,326.6 1270.0,327.4 1274.0,328.3 1278.0,329.1 1282.0,330.1 1286.0,331.0 1290.0,332.1 1294.0,333.1 1298.0,334.3 1302.0,335.5 1306.0,336.7 1310.0,338.0 1314.0,339.3 1318.0,340.8 1322.0,342.2 1326.0,343.8 1330.0,345.4 1334.0,347.0 1338.0,348.8 1342.0,350.6 1346.0,352.4 1350.0,354.4 1354.0,356.3 1358.0,358.3 1362.0,360.4 1366.0,362.5 1370.0,364.6 1374.0,366.7 1378.0,368.8 1382.0,370.9 1386.0,373.1 1390.0,375.2 1394.0,377.3 1398.0,379.5 1402.0,381.5 1406.0,383.6 1410.0,385.6 1414.0,387.6 1418.0,389.6 1422.0,391.4 1426.0,393.3 1430.0,395.0 1434.0,396.7 1438.0,398.4 1442.0,399.9 1445.0,401.0 L1445.0,772.3 1442.0,772.3 1438.0,772.2 1434.0,772.1 1430.0,771.8 1426.0,771.5 1422.0,771.0 1418.0,770.5 1414.0,769.9 1410.0,769.3 1406.0,768.5 1402.0,767.7 1398.0,766.8 1394.0,765.8 1390.0,764.8 1386.0,763.7 1382.0,762.5 1378.0,761.3 1374.0,760.0 1370.0,758.7 1366.0,757.3 1362.0,755.8 1358.0,754.4 1354.0,752.8 1350.0,751.3 1346.0,749.7 1342.0,748.0 1338.0,746.3 1334.0,744.6 1330.0,742.9 1326.0,741.1 1322.0,739.3 1318.0,737.5 1314.0,735.6 1310.0,733.7 1306.0,731.8 1302.0,729.8 1298.0,727.8 1294.0,725.8 1290.0,723.7 1286.0,721.6 1282.0,719.5 1278.0,717.3 1274.0,715.1 1270.0,712.9 1266.0,710.6 1262.0,708.3 1258.0,705.9 1254.0,703.5 1250.0,701.1 1246.0,698.6 1242.0,696.1 1238.0,693.5 1234.0,691.0 1230.0,688.3 1226.0,685.7 1222.0,683.0 1218.0,680.2 1214.0,677.4 1210.0,674.6 1206.0,671.7 1202.0,668.9 1198.0,665.9 1194.0,663.0 1190.0,660.0 1186.0,657.0 1182.0,653.9 1178.0,650.9 1174.0,647.8 1170.0,644.6 1166.0,641.5 1162.0,638.4 1158.0,635.2 1154.0,632.0 1150.0,628.8 1146.0,625.6 1142.0,622.3 1138.0,619.1 1134.0,615.9 1130.0,612.6 1126.0,609.3 1122.0,606.1 1118.0,602.8 1114.0,599.5 1110.0,596.3 1106.0,593.0 1102.0,589.7 1098.0,586.5 1094.0,583.2 1090.0,580.0 1086.0,576.7 1082.0,573.5 1078.0,570.2 1074.0,567.0 1070.0,563.8 1066.0,560.6 1062.0,557.4 1058.0,554.1 1054.0,551.0 1050.0,547.8 1046.0,544.6 1042.0,541.4 1038.0,538.3 1034.0,535.1 1030.0,532.0 1026.0,528.8 1022.0,525.7 1018.0,522.6 1014.0,519.5 1010.0,516.4 1006.0,513.3 1002.0,510.3 998.0,507.2 994.0,504.2 990.0,501.1 986.0,498.1 982.0,495.1 978.0,492.1 974.0,489.1 970.0,486.2 966.0,483.3 962.0,480.4 958.0,477.5 954.0,474.6 950.0,471.8 946.0,469.0 942.0,466.2 938.0,463.5 934.0,460.8 930.0,458.1 926.0,455.5 922.0,452.9 918.0,450.3 914.0,447.8 910.0,445.3 906.0,442.8 902.0,440.3 898.0,437.9 894.0,435.5 890.0,433.1 886.0,430.7 882.0,428.3 878.0,426.0 874.0,423.7 870.0,421.4 866.0,419.2 862.0,416.9 858.0,414.7 854.0,412.5 850.0,410.3 846.0,408.1 842.0,406.0 838.0,403.8 834.0,401.7 830.0,399.6 826.0,397.6 822.0,395.5 818.0,393.5 814.0,391.4 810.0,389.4 806.0,387.5 802.0,385.5 798.0,383.6 794.0,381.6 790.0,379.7 786.0,377.8 782.0,376.0 778.0,374.1 774.0,372.3 770.0,370.4 766.0,368.6 762.0,366.9 758.0,365.1 754.0,363.3 750.0,361.6 746.0,359.9 742.0,358.2 738.0,356.5 734.0,354.9 730.0,353.2 726.0,351.6 722.0,350.0 718.0,348.4 714.0,346.9 710.0,345.3 706.0,343.8 702.0,342.3 698.0,340.8 694.0,339.4 690.0,338.0 686.0,336.6 682.0,335.2 678.0,333.8 674.0,332.5 670.0,331.1 666.0,329.9 662.0,328.6 658.0,327.3 654.0,326.1 650.0,324.9 646.0,323.8 642.0,322.6 638.0,321.5 634.0,320.4 630.0,319.4 626.0,318.3 622.0,317.3 618.0,316.3 614.0,315.4 610.0,314.4 606.0,313.5 602.0,312.7 598.0,311.8 594.0,311.0 590.0,310.2 586.0,309.5 582.0,308.8 578.0,308.1 574.0,307.4 570.0,306.8 566.0,306.2 562.0,305.6 558.0,305.1 554.0,304.6 550.0,304.1 546.0,303.7 542.0,303.3 538.0,302.9 534.0,302.6 530.0,302.3 526.0,302.0 522.0,301.8 518.0,301.6 514.0,301.4 510.0,301.3 506.0,301.2 502.0,301.1 498.0,301.1 494.0,301.1 490.0,301.1 486.0,301.2 482.0,301.4 478.0,301.5 474.0,301.7 470.0,302.0 Z"/></clipPath>
<linearGradient id="kmg" x1="0" y1="0" x2="1445" y2="0" gradientUnits="userSpaceOnUse"><stop offset="0.3" stop-color="#000"/><stop offset="0.42" stop-color="#fff"/></linearGradient>
<mask id="knitmask" maskUnits="userSpaceOnUse" x="0" y="0" width="1445" height="1327"><rect width="1445" height="1327" fill="url(#kmg)"/></mask>
<pattern id="knitp" width="9" height="6" patternUnits="userSpaceOnUse" patternTransform="rotate(32)">
<path d="M0,4.5 C2,3.5 5,1.5 8,1" stroke="#2c2c2c" stroke-width="1.4" fill="none" stroke-linecap="round"/>
</pattern>
<pattern id="diagp" width="5" height="5" patternUnits="userSpaceOnUse" patternTransform="rotate(40)">
<line x1="0" y1="2.5" x2="5" y2="2.5" stroke="#242424" stroke-width="1.2"/>
</pattern>
</defs>
<path d="M0.0,718.2 4.0,718.3 8.0,718.2 12.0,717.9 16.0,717.4 20.0,716.8 24.0,715.9 28.0,714.8 32.0,713.6 36.0,712.2 40.0,710.7 44.0,709.0 48.0,707.1 52.0,705.1 56.0,703.1 60.0,700.8 64.0,698.5 68.0,696.1 72.0,693.6 76.0,690.9 80.0,688.3 84.0,685.5 88.0,682.7 92.0,679.8 96.0,676.8 100.0,673.9 104.0,670.8 108.0,667.8 112.0,664.7 116.0,661.6 120.0,658.6 124.0,655.5 128.0,652.4 132.0,649.4 136.0,646.3 140.0,643.4 144.0,640.4 148.0,637.5 152.0,634.6 156.0,631.9 160.0,629.1 164.0,626.5 168.0,624.0 172.0,621.5 176.0,619.1 180.0,616.9 184.0,614.8 188.0,612.7 192.0,610.8 196.0,609.0 200.0,607.3 204.0,605.7 208.0,604.2 212.0,602.8 216.0,601.5 220.0,600.3 224.0,599.2 228.0,598.2 232.0,597.2 236.0,596.4 240.0,595.6 244.0,594.9 248.0,594.3 252.0,593.7 256.0,593.2 260.0,592.8 264.0,592.4 268.0,592.1 272.0,591.9 276.0,591.7 280.0,591.6 284.0,591.5 288.0,591.5 292.0,591.5 296.0,591.5 300.0,591.6 304.0,591.8 308.0,592.0 312.0,592.2 316.0,592.4 320.0,592.7 324.0,593.0 328.0,593.3 332.0,593.6 336.0,594.0 340.0,594.3 344.0,594.7 348.0,595.1 352.0,595.5 356.0,595.9 360.0,596.3 364.0,596.7 368.0,597.1 372.0,597.5 376.0,597.9 380.0,598.3 384.0,598.7 388.0,599.1 392.0,599.6 396.0,600.0 400.0,600.5 404.0,600.9 408.0,601.4 412.0,601.9 416.0,602.4 420.0,603.0 424.0,603.5 428.0,604.1 432.0,604.7 436.0,605.3 440.0,605.9 444.0,606.6 448.0,607.3 452.0,608.0 456.0,608.8 460.0,609.5 464.0,610.4 468.0,611.2 472.0,612.1 476.0,613.0 480.0,614.0 484.0,615.0 488.0,616.0 492.0,617.1 496.0,618.2 500.0,619.4 504.0,620.6 508.0,621.9 512.0,623.2 516.0,624.5 520.0,625.9 524.0,627.4 528.0,628.8 532.0,630.3 536.0,631.9 540.0,633.4 544.0,635.0 548.0,636.7 552.0,638.3 556.0,640.0 560.0,641.7 564.0,643.4 568.0,645.2 572.0,647.0 576.0,648.8 580.0,650.6 584.0,652.4 588.0,654.2 592.0,656.1 596.0,658.0 600.0,659.9 604.0,661.8 608.0,663.7 612.0,665.7 616.0,667.7 620.0,669.7 624.0,671.7 628.0,673.8 632.0,675.8 636.0,677.9 640.0,680.1 644.0,682.3 648.0,684.4 652.0,686.7 656.0,688.9 660.0,691.2 664.0,693.6 668.0,695.9 672.0,698.3 676.0,700.7 680.0,703.2 684.0,705.7 688.0,708.3 692.0,710.9 696.0,713.5 700.0,716.2 704.0,718.9 708.0,721.6 712.0,724.4 716.0,727.3 720.0,730.1 724.0,733.1 728.0,736.0 732.0,739.0 736.0,742.0 740.0,745.1 744.0,748.2 748.0,751.3 752.0,754.5 756.0,757.7 760.0,761.0 764.0,764.3 768.0,767.6 772.0,771.0 776.0,774.4 780.0,777.8 784.0,781.3 788.0,784.8 792.0,788.4 796.0,792.0 800.0,795.6 804.0,799.2 808.0,802.9 812.0,806.6 816.0,810.3 820.0,814.0 824.0,817.8 828.0,821.5 832.0,825.2 836.0,828.9 840.0,832.7 844.0,836.4 848.0,840.1 852.0,843.8 856.0,847.5 860.0,851.1 864.0,854.8 868.0,858.4 872.0,862.0 876.0,865.6 880.0,869.1 884.0,872.7 888.0,876.2 892.0,879.8 896.0,883.3 900.0,886.7 904.0,890.2 908.0,893.7 912.0,897.1 916.0,900.5 920.0,903.9 924.0,907.3 928.0,910.6 932.0,913.9 936.0,917.3 940.0,920.6 944.0,923.8 948.0,927.1 952.0,930.3 956.0,933.5 960.0,936.7 964.0,939.9 968.0,943.1 972.0,946.2 976.0,949.3 980.0,952.4 984.0,955.4 988.0,958.5 992.0,961.5 996.0,964.5 1000.0,967.5 1004.0,970.4 1008.0,973.4 1012.0,976.3 1016.0,979.1 1020.0,982.0 1024.0,984.8 1028.0,987.6 1032.0,990.4 1036.0,993.2 1040.0,995.9 1044.0,998.6 1048.0,1001.3 1052.0,1004.0 1056.0,1006.6 1060.0,1009.2 1064.0,1011.8 1068.0,1014.3 1072.0,1016.8 1076.0,1019.3 1080.0,1021.8 1084.0,1024.3 1088.0,1026.7 1092.0,1029.1 1096.0,1031.4 1100.0,1033.8 1104.0,1036.1 1108.0,1038.3 1112.0,1040.6 1116.0,1042.8 1120.0,1045.0 1124.0,1047.1 1128.0,1049.3 1132.0,1051.4 1136.0,1053.4 1140.0,1055.5 1144.0,1057.5 1148.0,1059.5 1152.0,1061.4 1156.0,1063.3 1160.0,1065.2 1164.0,1067.1 1168.0,1068.9 1172.0,1070.7 1176.0,1072.5 1180.0,1074.3 1184.0,1076.0 1188.0,1077.7 1192.0,1079.4 1196.0,1081.0 1200.0,1082.6 1204.0,1084.2 1208.0,1085.8 1212.0,1087.3 1216.0,1088.8 1220.0,1090.3 1224.0,1091.8 1228.0,1093.2 1232.0,1094.6 1236.0,1096.0 1240.0,1097.3 1244.0,1098.7 1248.0,1100.0 1252.0,1101.3 1256.0,1102.5 1260.0,1103.8 1264.0,1105.0 1268.0,1106.2 1272.0,1107.4 1276.0,1108.5 1280.0,1109.6 1284.0,1110.7 1288.0,1111.8 1292.0,1112.9 1296.0,1113.9 1300.0,1114.9 1304.0,1115.9 1308.0,1116.9 1312.0,1117.9 1316.0,1118.8 1320.0,1119.7 1324.0,1120.6 1328.0,1121.5 1332.0,1122.3 1336.0,1123.2 1340.0,1124.0 1344.0,1124.8 1348.0,1125.6 1352.0,1126.3 1356.0,1127.1 1360.0,1127.8 1364.0,1128.5 1368.0,1129.2 1372.0,1129.9 1376.0,1130.5 1380.0,1131.2 1384.0,1131.8 1388.0,1132.4 1392.0,1133.0 1396.0,1133.6 1400.0,1134.2 1404.0,1134.7 1408.0,1135.2 1412.0,1135.7 1416.0,1136.2 1420.0,1136.7 1424.0,1137.2 1428.0,1137.7 1432.0,1138.1 1436.0,1138.5 1440.0,1139.0 1444.0,1139.4 1445.0,1139.5 1457.0,1139.5 L1457.0,1297.5 1445.0,1297.5 1444.0,1297.3 1440.0,1296.5 1436.0,1295.6 1432.0,1294.8 1428.0,1293.9 1424.0,1292.9 1420.0,1292.0 1416.0,1291.0 1412.0,1290.0 1408.0,1289.0 1404.0,1288.0 1400.0,1286.9 1396.0,1285.8 1392.0,1284.7 1388.0,1283.5 1384.0,1282.4 1380.0,1281.2 1376.0,1280.0 1372.0,1278.8 1368.0,1277.6 1364.0,1276.3 1360.0,1275.0 1356.0,1273.8 1352.0,1272.5 1348.0,1271.1 1344.0,1269.8 1340.0,1268.5 1336.0,1267.1 1332.0,1265.7 1328.0,1264.4 1324.0,1263.0 1320.0,1261.5 1316.0,1260.1 1312.0,1258.7 1308.0,1257.3 1304.0,1255.8 1300.0,1254.3 1296.0,1252.9 1292.0,1251.4 1288.0,1249.9 1284.0,1248.4 1280.0,1246.9 1276.0,1245.4 1272.0,1243.9 1268.0,1242.4 1264.0,1240.9 1260.0,1239.4 1256.0,1237.9 1252.0,1236.4 1248.0,1234.9 1244.0,1233.3 1240.0,1231.8 1236.0,1230.3 1232.0,1228.8 1228.0,1227.3 1224.0,1225.7 1220.0,1224.2 1216.0,1222.7 1212.0,1221.2 1208.0,1219.6 1204.0,1218.1 1200.0,1216.5 1196.0,1214.9 1192.0,1213.3 1188.0,1211.7 1184.0,1210.1 1180.0,1208.4 1176.0,1206.7 1172.0,1205.0 1168.0,1203.3 1164.0,1201.5 1160.0,1199.8 1156.0,1197.9 1152.0,1196.1 1148.0,1194.2 1144.0,1192.3 1140.0,1190.3 1136.0,1188.3 1132.0,1186.3 1128.0,1184.2 1124.0,1182.1 1120.0,1179.9 1116.0,1177.7 1112.0,1175.4 1108.0,1173.1 1104.0,1170.7 1100.0,1168.3 1096.0,1165.8 1092.0,1163.3 1088.0,1160.8 1084.0,1158.2 1080.0,1155.6 1076.0,1152.9 1072.0,1150.3 1068.0,1147.6 1064.0,1144.9 1060.0,1142.1 1056.0,1139.4 1052.0,1136.7 1048.0,1133.9 1044.0,1131.1 1040.0,1128.4 1036.0,1125.6 1032.0,1122.9 1028.0,1120.1 1024.0,1117.4 1020.0,1114.6 1016.0,1111.9 1012.0,1109.2 1008.0,1106.5 1004.0,1103.8 1000.0,1101.1 996.0,1098.4 992.0,1095.6 988.0,1092.9 984.0,1090.2 980.0,1087.5 976.0,1084.8 972.0,1082.0 968.0,1079.3 964.0,1076.5 960.0,1073.7 956.0,1070.9 952.0,1068.1 948.0,1065.3 944.0,1062.5 940.0,1059.6 936.0,1056.7 932.0,1053.8 928.0,1050.8 924.0,1047.8 920.0,1044.9 916.0,1041.8 912.0,1038.8 908.0,1035.8 904.0,1032.8 900.0,1029.7 896.0,1026.7 892.0,1023.7 888.0,1020.7 884.0,1017.7 880.0,1014.7 876.0,1011.7 872.0,1008.8 868.0,1005.8 864.0,1002.9 860.0,1000.0 856.0,997.1 852.0,994.2 848.0,991.3 844.0,988.4 840.0,985.5 836.0,982.6 832.0,979.7 828.0,976.8 824.0,974.0 820.0,971.1 816.0,968.2 812.0,965.3 808.0,962.4 804.0,959.5 800.0,956.6 796.0,953.6 792.0,950.7 788.0,947.7 784.0,944.8 780.0,941.8 776.0,938.8 772.0,935.8 768.0,932.7 764.0,929.7 760.0,926.6 756.0,923.6 752.0,920.5 748.0,917.4 744.0,914.3 740.0,911.2 736.0,908.0 732.0,904.9 728.0,901.7 724.0,898.5 720.0,895.4 716.0,892.2 712.0,889.0 708.0,885.8 704.0,882.6 700.0,879.4 696.0,876.2 692.0,873.0 688.0,869.9 684.0,866.7 680.0,863.6 676.0,860.5 672.0,857.5 668.0,854.5 664.0,851.5 660.0,848.6 656.0,845.7 652.0,842.8 648.0,840.0 644.0,837.3 640.0,834.6 636.0,831.9 632.0,829.3 628.0,826.7 624.0,824.1 620.0,821.6 616.0,819.2 612.0,816.8 608.0,814.4 604.0,812.0 600.0,809.7 596.0,807.5 592.0,805.2 588.0,803.0 584.0,800.9 580.0,798.8 576.0,796.7 572.0,794.6 568.0,792.6 564.0,790.7 560.0,788.7 556.0,786.8 552.0,784.9 548.0,783.1 544.0,781.3 540.0,779.5 536.0,777.8 532.0,776.1 528.0,774.4 524.0,772.7 520.0,771.1 516.0,769.5 512.0,768.0 508.0,766.5 504.0,764.9 500.0,763.5 496.0,762.0 492.0,760.6 488.0,759.2 484.0,757.9 480.0,756.5 476.0,755.2 472.0,754.0 468.0,752.7 464.0,751.5 460.0,750.3 456.0,749.1 452.0,748.0 448.0,746.9 444.0,745.8 440.0,744.8 436.0,743.8 432.0,742.8 428.0,741.8 424.0,740.9 420.0,740.0 416.0,739.1 412.0,738.3 408.0,737.5 404.0,736.7 400.0,735.9 396.0,735.2 392.0,734.5 388.0,733.8 384.0,733.2 380.0,732.6 376.0,732.0 372.0,731.4 368.0,730.9 364.0,730.4 360.0,730.0 356.0,729.5 352.0,729.1 348.0,728.8 344.0,728.4 340.0,728.1 336.0,727.8 332.0,727.5 328.0,727.3 324.0,727.1 320.0,727.0 316.0,726.8 312.0,726.7 308.0,726.6 304.0,726.6 300.0,726.6 296.0,726.6 292.0,726.6 288.0,726.7 284.0,726.8 280.0,726.9 276.0,727.1 272.0,727.3 268.0,727.5 264.0,727.8 260.0,728.1 256.0,728.4 252.0,728.7 248.0,729.1 244.0,729.5 240.0,729.9 236.0,730.4 232.0,730.9 228.0,731.4 224.0,732.0 220.0,732.6 216.0,733.2 212.0,733.9 208.0,734.6 204.0,735.3 200.0,736.0 196.0,736.8 192.0,737.6 188.0,738.5 184.0,739.3 180.0,740.2 176.0,741.2 172.0,742.1 168.0,743.2 164.0,744.2 160.0,745.3 156.0,746.4 152.0,747.5 148.0,748.6 144.0,749.8 140.0,751.1 136.0,752.3 132.0,753.6 128.0,755.0 124.0,756.3 120.0,757.7 116.0,759.1 112.0,760.6 108.0,762.1 104.0,763.6 100.0,765.2 96.0,766.8 92.0,768.4 88.0,770.0 84.0,771.7 80.0,773.5 76.0,775.2 72.0,777.0 68.0,778.8 64.0,780.7 60.0,782.6 56.0,784.5 52.0,786.5 48.0,788.5 44.0,790.5 40.0,792.6 36.0,794.6 32.0,796.8 28.0,798.9 24.0,801.1 20.0,803.4 16.0,805.6 12.0,808.0 8.0,810.3 4.0,812.7 0.0,815.1 Z" fill="url(#knitg)"/>
<path d="M-12,840.2 L0.0,840.2 4.0,837.3 8.0,834.6 12.0,831.8 16.0,829.2 20.0,826.5 24.0,823.9 28.0,821.4 32.0,818.9 36.0,816.5 40.0,814.1 44.0,811.8 48.0,809.5 52.0,807.3 56.0,805.1 60.0,802.9 64.0,800.8 68.0,798.8 72.0,796.7 76.0,794.8 80.0,792.9 84.0,791.0 88.0,789.1 92.0,787.4 96.0,785.6 100.0,783.9 104.0,782.2 108.0,780.6 112.0,779.1 116.0,777.5 120.0,776.0 124.0,774.6 128.0,773.2 132.0,771.8 136.0,770.5 140.0,769.2 144.0,767.9 148.0,766.7 152.0,765.5 156.0,764.4 160.0,763.3 164.0,762.2 168.0,761.2 172.0,760.2 176.0,759.3 180.0,758.4 184.0,757.5 188.0,756.6 192.0,755.8 196.0,755.1 200.0,754.3 204.0,753.6 208.0,752.9 212.0,752.3 216.0,751.7 220.0,751.1 224.0,750.6 228.0,750.1 232.0,749.6 236.0,749.2 240.0,748.7 244.0,748.4 248.0,748.0 252.0,747.7 256.0,747.4 260.0,747.1 264.0,746.9 268.0,746.7 272.0,746.5 276.0,746.3 280.0,746.2 284.0,746.1 288.0,746.1 292.0,746.0 296.0,746.0 300.0,746.0 304.0,746.1 308.0,746.1 312.0,746.2 316.0,746.4 320.0,746.5 324.0,746.7 328.0,746.9 332.0,747.2 336.0,747.5 340.0,747.8 344.0,748.1 348.0,748.5 352.0,748.8 356.0,749.3 360.0,749.7 364.0,750.2 368.0,750.7 372.0,751.2 376.0,751.8 380.0,752.4 384.0,753.0 388.0,753.7 392.0,754.4 396.0,755.1 400.0,755.8 404.0,756.6 408.0,757.4 412.0,758.2 416.0,759.1 420.0,760.0 424.0,760.9 428.0,761.9 432.0,762.9 436.0,763.9 440.0,764.9 444.0,766.0 448.0,767.1 452.0,768.3 456.0,769.4 460.0,770.6 464.0,771.9 468.0,773.1 472.0,774.4 476.0,775.8 480.0,777.1 484.0,778.5 488.0,779.9 492.0,781.4 496.0,782.9 500.0,784.4 504.0,785.9 508.0,787.5 512.0,789.1 516.0,790.8 520.0,792.4 524.0,794.1 528.0,795.9 532.0,797.7 536.0,799.5 540.0,801.3 544.0,803.2 548.0,805.1 552.0,807.0 556.0,809.0 560.0,810.9 564.0,813.0 568.0,815.0 572.0,817.1 576.0,819.2 580.0,821.4 584.0,823.6 588.0,825.8 592.0,828.0 596.0,830.3 600.0,832.6 L603,835.5 L0,989.5 L-12,992 Z" fill="#1a1a1a"/>
<path d="M-12,840.2 L0.0,840.2 4.0,837.3 8.0,834.6 12.0,831.8 16.0,829.2 20.0,826.5 24.0,823.9 28.0,821.4 32.0,818.9 36.0,816.5 40.0,814.1 44.0,811.8 48.0,809.5 52.0,807.3 56.0,805.1 60.0,802.9 64.0,800.8 68.0,798.8 72.0,796.7 76.0,794.8 80.0,792.9 84.0,791.0 88.0,789.1 92.0,787.4 96.0,785.6 100.0,783.9 104.0,782.2 108.0,780.6 112.0,779.1 116.0,777.5 120.0,776.0 124.0,774.6 128.0,773.2 132.0,771.8 136.0,770.5 140.0,769.2 144.0,767.9 148.0,766.7 152.0,765.5 156.0,764.4 160.0,763.3 164.0,762.2 168.0,761.2 172.0,760.2 176.0,759.3 180.0,758.4 184.0,757.5 188.0,756.6 192.0,755.8 196.0,755.1 200.0,754.3 204.0,753.6 208.0,752.9 212.0,752.3 216.0,751.7 220.0,751.1 224.0,750.6 228.0,750.1 232.0,749.6 236.0,749.2 240.0,748.7 244.0,748.4 248.0,748.0 252.0,747.7 256.0,747.4 260.0,747.1 264.0,746.9 268.0,746.7 272.0,746.5 276.0,746.3 280.0,746.2 284.0,746.1 288.0,746.1 292.0,746.0 296.0,746.0 300.0,746.0 304.0,746.1 308.0,746.1 312.0,746.2 316.0,746.4 320.0,746.5 324.0,746.7 328.0,746.9 332.0,747.2 336.0,747.5 340.0,747.8 344.0,748.1 348.0,748.5 352.0,748.8 356.0,749.3 360.0,749.7 364.0,750.2 368.0,750.7 372.0,751.2 376.0,751.8 380.0,752.4 384.0,753.0 388.0,753.7 392.0,754.4 396.0,755.1 400.0,755.8 404.0,756.6 408.0,757.4 412.0,758.2 416.0,759.1 420.0,760.0 424.0,760.9 428.0,761.9 432.0,762.9 436.0,763.9 440.0,764.9 444.0,766.0 448.0,767.1 452.0,768.3 456.0,769.4 460.0,770.6 464.0,771.9 468.0,773.1 472.0,774.4 476.0,775.8 480.0,777.1 484.0,778.5 488.0,779.9 492.0,781.4 496.0,782.9 500.0,784.4 504.0,785.9 508.0,787.5 512.0,789.1 516.0,790.8 520.0,792.4 524.0,794.1 528.0,795.9 532.0,797.7 536.0,799.5 540.0,801.3 544.0,803.2 548.0,805.1 552.0,807.0 556.0,809.0 560.0,810.9 564.0,813.0 568.0,815.0 572.0,817.1 576.0,819.2 580.0,821.4 584.0,823.6 588.0,825.8 592.0,828.0 596.0,830.3 600.0,832.6 L603,835.5 L0,989.5 L-12,992 Z" fill="url(#diagp)" opacity="0.7"/>
<path d="M0.0,718.2 4.0,718.3 8.0,718.2 12.0,717.9 16.0,717.4 20.0,716.8 24.0,715.9 28.0,714.8 32.0,713.6 36.0,712.2 40.0,710.7 44.0,709.0 48.0,707.1 52.0,705.1 56.0,703.1 60.0,700.8 64.0,698.5 68.0,696.1 72.0,693.6 76.0,690.9 80.0,688.3 84.0,685.5 88.0,682.7 92.0,679.8 96.0,676.8 100.0,673.9 104.0,670.8 108.0,667.8 112.0,664.7 116.0,661.6 120.0,658.6 124.0,655.5 128.0,652.4 132.0,649.4 136.0,646.3 140.0,643.4 144.0,640.4 148.0,637.5 152.0,634.6 156.0,631.9 160.0,629.1 164.0,626.5 168.0,624.0 172.0,621.5 176.0,619.1 180.0,616.9 184.0,614.8 188.0,612.7 192.0,610.8 196.0,609.0 200.0,607.3 204.0,605.7 208.0,604.2 212.0,602.8 216.0,601.5 220.0,600.3 224.0,599.2 228.0,598.2 232.0,597.2 236.0,596.4 240.0,595.6 244.0,594.9 248.0,594.3 252.0,593.7 256.0,593.2 260.0,592.8 264.0,592.4 268.0,592.1 272.0,591.9 276.0,591.7 280.0,591.6 284.0,591.5 288.0,591.5 292.0,591.5 296.0,591.5 300.0,591.6 304.0,591.8 308.0,592.0 312.0,592.2 316.0,592.4 320.0,592.7 324.0,593.0 328.0,593.3 332.0,593.6 336.0,594.0 340.0,594.3 344.0,594.7 348.0,595.1 352.0,595.5 356.0,595.9 360.0,596.3 364.0,596.7 368.0,597.1 372.0,597.5 376.0,597.9 380.0,598.3 384.0,598.7 388.0,599.1 392.0,599.6 396.0,600.0 400.0,600.5 404.0,600.9 408.0,601.4 412.0,601.9 416.0,602.4 420.0,603.0 424.0,603.5 428.0,604.1 432.0,604.7 436.0,605.3 440.0,605.9 444.0,606.6 448.0,607.3 452.0,608.0 456.0,608.8 460.0,609.5 464.0,610.4 468.0,611.2 472.0,612.1 476.0,613.0 480.0,614.0 484.0,615.0 488.0,616.0 492.0,617.1 496.0,618.2 500.0,619.4 504.0,620.6 508.0,621.9 512.0,623.2 516.0,624.5 520.0,625.9 524.0,627.4 528.0,628.8 532.0,630.3 536.0,631.9 540.0,633.4 544.0,635.0 548.0,636.7 552.0,638.3 556.0,640.0 560.0,641.7 564.0,643.4 568.0,645.2 572.0,647.0 576.0,648.8 580.0,650.6 584.0,652.4 588.0,654.2 592.0,656.1 596.0,658.0 600.0,659.9 604.0,661.8 608.0,663.7 612.0,665.7 616.0,667.7 620.0,669.7 624.0,671.7 628.0,673.8 632.0,675.8 636.0,677.9 640.0,680.1 644.0,682.3 648.0,684.4 652.0,686.7 656.0,688.9 660.0,691.2 664.0,693.6 668.0,695.9 672.0,698.3 676.0,700.7 680.0,703.2 684.0,705.7 688.0,708.3 692.0,710.9 696.0,713.5 700.0,716.2 704.0,718.9 708.0,721.6 712.0,724.4 716.0,727.3 720.0,730.1 724.0,733.1 728.0,736.0 732.0,739.0 736.0,742.0 740.0,745.1 744.0,748.2 748.0,751.3 752.0,754.5 756.0,757.7 760.0,761.0 764.0,764.3 768.0,767.6 772.0,771.0 776.0,774.4 780.0,777.8 784.0,781.3 788.0,784.8 792.0,788.4 796.0,792.0 800.0,795.6 804.0,799.2 808.0,802.9 812.0,806.6 816.0,810.3 820.0,814.0 824.0,817.8 828.0,821.5 832.0,825.2 836.0,828.9 840.0,832.7 844.0,836.4 848.0,840.1 852.0,843.8 856.0,847.5 860.0,851.1 864.0,854.8 868.0,858.4 872.0,862.0 876.0,865.6 880.0,869.1 884.0,872.7 888.0,876.2 892.0,879.8 896.0,883.3 900.0,886.7 904.0,890.2 908.0,893.7 912.0,897.1 916.0,900.5 920.0,903.9 924.0,907.3 928.0,910.6 932.0,913.9 936.0,917.3 940.0,920.6 944.0,923.8 948.0,927.1 952.0,930.3 956.0,933.5 960.0,936.7 964.0,939.9 968.0,943.1 972.0,946.2 976.0,949.3 980.0,952.4 984.0,955.4 988.0,958.5 992.0,961.5 996.0,964.5 1000.0,967.5 1004.0,970.4 1008.0,973.4 1012.0,976.3 1016.0,979.1 1020.0,982.0 1024.0,984.8 1028.0,987.6 1032.0,990.4 1036.0,993.2 1040.0,995.9 1044.0,998.6 1048.0,1001.3 1052.0,1004.0 1056.0,1006.6 1060.0,1009.2 1064.0,1011.8 1068.0,1014.3 1072.0,1016.8 1076.0,1019.3 1080.0,1021.8 1084.0,1024.3 1088.0,1026.7 1092.0,1029.1 1096.0,1031.4 1100.0,1033.8 1104.0,1036.1 1108.0,1038.3 1112.0,1040.6 1116.0,1042.8 1120.0,1045.0 1124.0,1047.1 1128.0,1049.3 1132.0,1051.4 1136.0,1053.4 1140.0,1055.5 1144.0,1057.5 1148.0,1059.5 1152.0,1061.4 1156.0,1063.3 1160.0,1065.2 1164.0,1067.1 1168.0,1068.9 1172.0,1070.7 1176.0,1072.5 1180.0,1074.3 1184.0,1076.0 1188.0,1077.7 1192.0,1079.4 1196.0,1081.0 1200.0,1082.6 1204.0,1084.2 1208.0,1085.8 1212.0,1087.3 1216.0,1088.8 1220.0,1090.3 1224.0,1091.8 1228.0,1093.2 1232.0,1094.6 1236.0,1096.0 1240.0,1097.3 1244.0,1098.7 1248.0,1100.0 1252.0,1101.3 1256.0,1102.5 1260.0,1103.8 1264.0,1105.0 1268.0,1106.2 1272.0,1107.4 1276.0,1108.5 1280.0,1109.6 1284.0,1110.7 1288.0,1111.8 1292.0,1112.9 1296.0,1113.9 1300.0,1114.9 1304.0,1115.9 1308.0,1116.9 1312.0,1117.9 1316.0,1118.8 1320.0,1119.7 1324.0,1120.6 1328.0,1121.5 1332.0,1122.3 1336.0,1123.2 1340.0,1124.0 1344.0,1124.8 1348.0,1125.6 1352.0,1126.3 1356.0,1127.1 1360.0,1127.8 1364.0,1128.5 1368.0,1129.2 1372.0,1129.9 1376.0,1130.5 1380.0,1131.2 1384.0,1131.8 1388.0,1132.4 1392.0,1133.0 1396.0,1133.6 1400.0,1134.2 1404.0,1134.7 1408.0,1135.2 1412.0,1135.7 1416.0,1136.2 1420.0,1136.7 1424.0,1137.2 1428.0,1137.7 1432.0,1138.1 1436.0,1138.5 1440.0,1139.0 1444.0,1139.4 1445.0,1139.5 1457.0,1139.5 L1457.0,1297.5 1445.0,1297.5 1444.0,1297.3 1440.0,1296.5 1436.0,1295.6 1432.0,1294.8 1428.0,1293.9 1424.0,1292.9 1420.0,1292.0 1416.0,1291.0 1412.0,1290.0 1408.0,1289.0 1404.0,1288.0 1400.0,1286.9 1396.0,1285.8 1392.0,1284.7 1388.0,1283.5 1384.0,1282.4 1380.0,1281.2 1376.0,1280.0 1372.0,1278.8 1368.0,1277.6 1364.0,1276.3 1360.0,1275.0 1356.0,1273.8 1352.0,1272.5 1348.0,1271.1 1344.0,1269.8 1340.0,1268.5 1336.0,1267.1 1332.0,1265.7 1328.0,1264.4 1324.0,1263.0 1320.0,1261.5 1316.0,1260.1 1312.0,1258.7 1308.0,1257.3 1304.0,1255.8 1300.0,1254.3 1296.0,1252.9 1292.0,1251.4 1288.0,1249.9 1284.0,1248.4 1280.0,1246.9 1276.0,1245.4 1272.0,1243.9 1268.0,1242.4 1264.0,1240.9 1260.0,1239.4 1256.0,1237.9 1252.0,1236.4 1248.0,1234.9 1244.0,1233.3 1240.0,1231.8 1236.0,1230.3 1232.0,1228.8 1228.0,1227.3 1224.0,1225.7 1220.0,1224.2 1216.0,1222.7 1212.0,1221.2 1208.0,1219.6 1204.0,1218.1 1200.0,1216.5 1196.0,1214.9 1192.0,1213.3 1188.0,1211.7 1184.0,1210.1 1180.0,1208.4 1176.0,1206.7 1172.0,1205.0 1168.0,1203.3 1164.0,1201.5 1160.0,1199.8 1156.0,1197.9 1152.0,1196.1 1148.0,1194.2 1144.0,1192.3 1140.0,1190.3 1136.0,1188.3 1132.0,1186.3 1128.0,1184.2 1124.0,1182.1 1120.0,1179.9 1116.0,1177.7 1112.0,1175.4 1108.0,1173.1 1104.0,1170.7 1100.0,1168.3 1096.0,1165.8 1092.0,1163.3 1088.0,1160.8 1084.0,1158.2 1080.0,1155.6 1076.0,1152.9 1072.0,1150.3 1068.0,1147.6 1064.0,1144.9 1060.0,1142.1 1056.0,1139.4 1052.0,1136.7 1048.0,1133.9 1044.0,1131.1 1040.0,1128.4 1036.0,1125.6 1032.0,1122.9 1028.0,1120.1 1024.0,1117.4 1020.0,1114.6 1016.0,1111.9 1012.0,1109.2 1008.0,1106.5 1004.0,1103.8 1000.0,1101.1 996.0,1098.4 992.0,1095.6 988.0,1092.9 984.0,1090.2 980.0,1087.5 976.0,1084.8 972.0,1082.0 968.0,1079.3 964.0,1076.5 960.0,1073.7 956.0,1070.9 952.0,1068.1 948.0,1065.3 944.0,1062.5 940.0,1059.6 936.0,1056.7 932.0,1053.8 928.0,1050.8 924.0,1047.8 920.0,1044.9 916.0,1041.8 912.0,1038.8 908.0,1035.8 904.0,1032.8 900.0,1029.7 896.0,1026.7 892.0,1023.7 888.0,1020.7 884.0,1017.7 880.0,1014.7 876.0,1011.7 872.0,1008.8 868.0,1005.8 864.0,1002.9 860.0,1000.0 856.0,997.1 852.0,994.2 848.0,991.3 844.0,988.4 840.0,985.5 836.0,982.6 832.0,979.7 828.0,976.8 824.0,974.0 820.0,971.1 816.0,968.2 812.0,965.3 808.0,962.4 804.0,959.5 800.0,956.6 796.0,953.6 792.0,950.7 788.0,947.7 784.0,944.8 780.0,941.8 776.0,938.8 772.0,935.8 768.0,932.7 764.0,929.7 760.0,926.6 756.0,923.6 752.0,920.5 748.0,917.4 744.0,914.3 740.0,911.2 736.0,908.0 732.0,904.9 728.0,901.7 724.0,898.5 720.0,895.4 716.0,892.2 712.0,889.0 708.0,885.8 704.0,882.6 700.0,879.4 696.0,876.2 692.0,873.0 688.0,869.9 684.0,866.7 680.0,863.6 676.0,860.5 672.0,857.5 668.0,854.5 664.0,851.5 660.0,848.6 656.0,845.7 652.0,842.8 648.0,840.0 644.0,837.3 640.0,834.6 636.0,831.9 632.0,829.3 628.0,826.7 624.0,824.1 620.0,821.6 616.0,819.2 612.0,816.8 608.0,814.4 604.0,812.0 600.0,809.7 596.0,807.5 592.0,805.2 588.0,803.0 584.0,800.9 580.0,798.8 576.0,796.7 572.0,794.6 568.0,792.6 564.0,790.7 560.0,788.7 556.0,786.8 552.0,784.9 548.0,783.1 544.0,781.3 540.0,779.5 536.0,777.8 532.0,776.1 528.0,774.4 524.0,772.7 520.0,771.1 516.0,769.5 512.0,768.0 508.0,766.5 504.0,764.9 500.0,763.5 496.0,762.0 492.0,760.6 488.0,759.2 484.0,757.9 480.0,756.5 476.0,755.2 472.0,754.0 468.0,752.7 464.0,751.5 460.0,750.3 456.0,749.1 452.0,748.0 448.0,746.9 444.0,745.8 440.0,744.8 436.0,743.8 432.0,742.8 428.0,741.8 424.0,740.9 420.0,740.0 416.0,739.1 412.0,738.3 408.0,737.5 404.0,736.7 400.0,735.9 396.0,735.2 392.0,734.5 388.0,733.8 384.0,733.2 380.0,732.6 376.0,732.0 372.0,731.4 368.0,730.9 364.0,730.4 360.0,730.0 356.0,729.5 352.0,729.1 348.0,728.8 344.0,728.4 340.0,728.1 336.0,727.8 332.0,727.5 328.0,727.3 324.0,727.1 320.0,727.0 316.0,726.8 312.0,726.7 308.0,726.6 304.0,726.6 300.0,726.6 296.0,726.6 292.0,726.6 288.0,726.7 284.0,726.8 280.0,726.9 276.0,727.1 272.0,727.3 268.0,727.5 264.0,727.8 260.0,728.1 256.0,728.4 252.0,728.7 248.0,729.1 244.0,729.5 240.0,729.9 236.0,730.4 232.0,730.9 228.0,731.4 224.0,732.0 220.0,732.6 216.0,733.2 212.0,733.9 208.0,734.6 204.0,735.3 200.0,736.0 196.0,736.8 192.0,737.6 188.0,738.5 184.0,739.3 180.0,740.2 176.0,741.2 172.0,742.1 168.0,743.2 164.0,744.2 160.0,745.3 156.0,746.4 152.0,747.5 148.0,748.6 144.0,749.8 140.0,751.1 136.0,752.3 132.0,753.6 128.0,755.0 124.0,756.3 120.0,757.7 116.0,759.1 112.0,760.6 108.0,762.1 104.0,763.6 100.0,765.2 96.0,766.8 92.0,768.4 88.0,770.0 84.0,771.7 80.0,773.5 76.0,775.2 72.0,777.0 68.0,778.8 64.0,780.7 60.0,782.6 56.0,784.5 52.0,786.5 48.0,788.5 44.0,790.5 40.0,792.6 36.0,794.6 32.0,796.8 28.0,798.9 24.0,801.1 20.0,803.4 16.0,805.6 12.0,808.0 8.0,810.3 4.0,812.7 0.0,815.1 Z" fill="url(#knitp)" opacity="0.8" mask="url(#knitmask)"/>
<path d="M-12.0,815.1 0.0,815.1 4.0,812.7 8.0,810.3 12.0,808.0 16.0,805.6 20.0,803.4 24.0,801.1 28.0,798.9 32.0,796.8 36.0,794.6 40.0,792.6 44.0,790.5 48.0,788.5 52.0,786.5 56.0,784.5 60.0,782.6 64.0,780.7 68.0,778.8 72.0,777.0 76.0,775.2 80.0,773.5 84.0,771.7 88.0,770.0 92.0,768.4 96.0,766.8 100.0,765.2 104.0,763.6 108.0,762.1 112.0,760.6 116.0,759.1 120.0,757.7 124.0,756.3 128.0,755.0 132.0,753.6 136.0,752.3 140.0,751.1 144.0,749.8 148.0,748.6 152.0,747.5 156.0,746.4 160.0,745.3 164.0,744.2 168.0,743.2 172.0,742.1 176.0,741.2 180.0,740.2 184.0,739.3 188.0,738.5 192.0,737.6 196.0,736.8 200.0,736.0 204.0,735.3 208.0,734.6 212.0,733.9 216.0,733.2 220.0,732.6 224.0,732.0 228.0,731.4 232.0,730.9 236.0,730.4 240.0,729.9 244.0,729.5 248.0,729.1 252.0,728.7 256.0,728.4 260.0,728.1 264.0,727.8 268.0,727.5 272.0,727.3 276.0,727.1 280.0,726.9 284.0,726.8 288.0,726.7 292.0,726.6 296.0,726.6 300.0,726.6 304.0,726.6 308.0,726.6 312.0,726.7 316.0,726.8 320.0,727.0 324.0,727.1 328.0,727.3 332.0,727.5 336.0,727.8 340.0,728.1 344.0,728.4 348.0,728.8 352.0,729.1 356.0,729.5 360.0,730.0 364.0,730.4 368.0,730.9 372.0,731.4 376.0,732.0 380.0,732.6 384.0,733.2 388.0,733.8 392.0,734.5 396.0,735.2 400.0,735.9 404.0,736.7 408.0,737.5 412.0,738.3 416.0,739.1 420.0,740.0 424.0,740.9 428.0,741.8 432.0,742.8 436.0,743.8 440.0,744.8 444.0,745.8 448.0,746.9 452.0,748.0 456.0,749.1 460.0,750.3 464.0,751.5 468.0,752.7 472.0,754.0 476.0,755.2 480.0,756.5 484.0,757.9 488.0,759.2 492.0,760.6 496.0,762.0 500.0,763.5 504.0,764.9 508.0,766.5 512.0,768.0 516.0,769.5 520.0,771.1 524.0,772.7 528.0,774.4 532.0,776.1 536.0,777.8 540.0,779.5 544.0,781.3 548.0,783.1 552.0,784.9 556.0,786.8 560.0,788.7 564.0,790.7 568.0,792.6 572.0,794.6 576.0,796.7 580.0,798.8 584.0,800.9 588.0,803.0 592.0,805.2 596.0,807.5 600.0,809.7 604.0,812.0 608.0,814.4 612.0,816.8 616.0,819.2 620.0,821.6 624.0,824.1 628.0,826.7 632.0,829.3 636.0,831.9 640.0,834.6 644.0,837.3 648.0,840.0 652.0,842.8 656.0,845.7 660.0,848.6 664.0,851.5 668.0,854.5 672.0,857.5 676.0,860.5 680.0,863.6 684.0,866.7 688.0,869.9 692.0,873.0 696.0,876.2 700.0,879.4 704.0,882.6 708.0,885.8 712.0,889.0 716.0,892.2 720.0,895.4 724.0,898.5 728.0,901.7 732.0,904.9 736.0,908.0 740.0,911.2 744.0,914.3 748.0,917.4 752.0,920.5 756.0,923.6 760.0,926.6 764.0,929.7 768.0,932.7 772.0,935.8 776.0,938.8 780.0,941.8 784.0,944.8 788.0,947.7 792.0,950.7 796.0,953.6 800.0,956.6 804.0,959.5 808.0,962.4 812.0,965.3 816.0,968.2 820.0,971.1 824.0,974.0 828.0,976.8 832.0,979.7 836.0,982.6 840.0,985.5 844.0,988.4 848.0,991.3 852.0,994.2 856.0,997.1 860.0,1000.0 864.0,1002.9 868.0,1005.8 872.0,1008.8 876.0,1011.7 880.0,1014.7 884.0,1017.7 888.0,1020.7 892.0,1023.7 896.0,1026.7 900.0,1029.7 904.0,1032.8 908.0,1035.8 912.0,1038.8 916.0,1041.8 920.0,1044.9 924.0,1047.8 928.0,1050.8 932.0,1053.8 936.0,1056.7 940.0,1059.6 944.0,1062.5 948.0,1065.3 952.0,1068.1 956.0,1070.9 960.0,1073.7 964.0,1076.5 968.0,1079.3 972.0,1082.0 976.0,1084.8 980.0,1087.5 984.0,1090.2 988.0,1092.9 992.0,1095.6 996.0,1098.4 1000.0,1101.1 1004.0,1103.8 1008.0,1106.5 1012.0,1109.2 1016.0,1111.9 1020.0,1114.6 1024.0,1117.4 1028.0,1120.1 1032.0,1122.9 1036.0,1125.6 1040.0,1128.4 1044.0,1131.1 1048.0,1133.9 1052.0,1136.7 1056.0,1139.4 1060.0,1142.1 1064.0,1144.9 1068.0,1147.6 1072.0,1150.3 1076.0,1152.9 1080.0,1155.6 1084.0,1158.2 1088.0,1160.8 1092.0,1163.3 1096.0,1165.8 1100.0,1168.3 1104.0,1170.7 1108.0,1173.1 1112.0,1175.4 1116.0,1177.7 1120.0,1179.9 1124.0,1182.1 1128.0,1184.2 1132.0,1186.3 1136.0,1188.3 1140.0,1190.3 1144.0,1192.3 1148.0,1194.2 1152.0,1196.1 1156.0,1197.9 1160.0,1199.8 1164.0,1201.5 1168.0,1203.3 1172.0,1205.0 1176.0,1206.7 1180.0,1208.4 1184.0,1210.1 1188.0,1211.7 1192.0,1213.3 1196.0,1214.9 1200.0,1216.5 1204.0,1218.1 1208.0,1219.6 1212.0,1221.2 1216.0,1222.7 1220.0,1224.2 1224.0,1225.7 1228.0,1227.3 1232.0,1228.8 1236.0,1230.3 1240.0,1231.8 1244.0,1233.3 1248.0,1234.9 1252.0,1236.4 1256.0,1237.9 1260.0,1239.4 1264.0,1240.9 1268.0,1242.4 1272.0,1243.9 1276.0,1245.4 1280.0,1246.9 1284.0,1248.4 1288.0,1249.9 1292.0,1251.4 1296.0,1252.9 1300.0,1254.3 1304.0,1255.8 1308.0,1257.3 1312.0,1258.7 1316.0,1260.1 1320.0,1261.5 1324.0,1263.0 1328.0,1264.4 1332.0,1265.7 1336.0,1267.1 1340.0,1268.5 1344.0,1269.8 1348.0,1271.1 1352.0,1272.5 1356.0,1273.8 1360.0,1275.0 1364.0,1276.3 1368.0,1277.6 1372.0,1278.8 1376.0,1280.0 1380.0,1281.2 1384.0,1282.4 1388.0,1283.5 1392.0,1284.7 1396.0,1285.8 1400.0,1286.9 1404.0,1288.0 1408.0,1289.0 1412.0,1290.0 1416.0,1291.0 1420.0,1292.0 1424.0,1292.9 1428.0,1293.9 1432.0,1294.8 1436.0,1295.6 1440.0,1296.5 1444.0,1297.3 1445.0,1297.5 1457.0,1297.5 L1457.0,1320.0 1445.0,1320.0 1444.0,1319.7 1440.0,1318.5 1436.0,1317.3 1432.0,1316.1 1428.0,1315.0 1424.0,1313.8 1420.0,1312.6 1416.0,1311.5 1412.0,1310.3 1408.0,1309.1 1404.0,1307.9 1400.0,1306.8 1396.0,1305.6 1392.0,1304.4 1388.0,1303.2 1384.0,1302.0 1380.0,1300.9 1376.0,1299.7 1372.0,1298.5 1368.0,1297.3 1364.0,1296.1 1360.0,1294.8 1356.0,1293.6 1352.0,1292.4 1348.0,1291.2 1344.0,1289.9 1340.0,1288.7 1336.0,1287.5 1332.0,1286.2 1328.0,1284.9 1324.0,1283.7 1320.0,1282.4 1316.0,1281.1 1312.0,1279.8 1308.0,1278.5 1304.0,1277.1 1300.0,1275.8 1296.0,1274.4 1292.0,1273.1 1288.0,1271.7 1284.0,1270.3 1280.0,1268.9 1276.0,1267.5 1272.0,1266.1 1268.0,1264.7 1264.0,1263.2 1260.0,1261.7 1256.0,1260.2 1252.0,1258.7 1248.0,1257.2 1244.0,1255.7 1240.0,1254.1 1236.0,1252.6 1232.0,1251.0 1228.0,1249.4 1224.0,1247.8 1220.0,1246.1 1216.0,1244.5 1212.0,1242.8 1208.0,1241.1 1204.0,1239.4 1200.0,1237.6 1196.0,1235.9 1192.0,1234.1 1188.0,1232.3 1184.0,1230.4 1180.0,1228.6 1176.0,1226.7 1172.0,1224.8 1168.0,1222.9 1164.0,1220.9 1160.0,1219.0 1156.0,1217.0 1152.0,1214.9 1148.0,1212.9 1144.0,1210.8 1140.0,1208.7 1136.0,1206.6 1132.0,1204.4 1128.0,1202.2 1124.0,1200.0 1120.0,1197.8 1116.0,1195.5 1112.0,1193.2 1108.0,1190.9 1104.0,1188.5 1100.0,1186.1 1096.0,1183.7 1092.0,1181.3 1088.0,1178.8 1084.0,1176.2 1080.0,1173.7 1076.0,1171.1 1072.0,1168.5 1068.0,1165.9 1064.0,1163.2 1060.0,1160.5 1056.0,1157.8 1052.0,1155.1 1048.0,1152.4 1044.0,1149.7 1040.0,1147.0 1036.0,1144.3 1032.0,1141.6 1028.0,1139.0 1024.0,1136.3 1020.0,1133.6 1016.0,1131.0 1012.0,1128.4 1008.0,1125.8 1004.0,1123.2 1000.0,1120.6 996.0,1118.1 992.0,1115.5 988.0,1112.9 984.0,1110.3 980.0,1107.8 976.0,1105.2 972.0,1102.6 968.0,1100.0 964.0,1097.4 960.0,1094.8 956.0,1092.2 952.0,1089.5 948.0,1086.9 944.0,1084.2 940.0,1081.5 936.0,1078.9 932.0,1076.1 928.0,1073.4 924.0,1070.7 920.0,1068.0 916.0,1065.2 912.0,1062.4 908.0,1059.6 904.0,1056.8 900.0,1054.0 896.0,1051.2 892.0,1048.4 888.0,1045.5 884.0,1042.6 880.0,1039.7 876.0,1036.8 872.0,1033.9 868.0,1031.0 864.0,1028.0 860.0,1025.0 856.0,1022.0 852.0,1019.0 848.0,1016.0 844.0,1013.0 840.0,1009.9 836.0,1006.8 832.0,1003.7 828.0,1000.6 824.0,997.5 820.0,994.4 816.0,991.2 812.0,988.0 808.0,984.8 804.0,981.6 800.0,978.4 796.0,975.2 792.0,972.0 788.0,968.7 784.0,965.5 780.0,962.2 776.0,959.0 772.0,955.7 768.0,952.5 764.0,949.3 760.0,946.0 756.0,942.8 752.0,939.6 748.0,936.4 744.0,933.2 740.0,930.0 736.0,926.8 732.0,923.6 728.0,920.5 724.0,917.4 720.0,914.3 716.0,911.2 712.0,908.1 708.0,905.1 704.0,902.1 700.0,899.1 696.0,896.1 692.0,893.2 688.0,890.3 684.0,887.4 680.0,884.5 676.0,881.7 672.0,878.9 668.0,876.1 664.0,873.3 660.0,870.6 656.0,867.8 652.0,865.1 648.0,862.5 644.0,859.8 640.0,857.2 636.0,854.6 632.0,852.1 628.0,849.5 624.0,847.0 620.0,844.6 616.0,842.1 612.0,839.7 608.0,837.3 604.0,834.9 600.0,832.6 596.0,830.3 592.0,828.0 588.0,825.8 584.0,823.6 580.0,821.4 576.0,819.2 572.0,817.1 568.0,815.0 564.0,813.0 560.0,810.9 556.0,809.0 552.0,807.0 548.0,805.1 544.0,803.2 540.0,801.3 536.0,799.5 532.0,797.7 528.0,795.9 524.0,794.1 520.0,792.4 516.0,790.8 512.0,789.1 508.0,787.5 504.0,785.9 500.0,784.4 496.0,782.9 492.0,781.4 488.0,779.9 484.0,778.5 480.0,777.1 476.0,775.8 472.0,774.4 468.0,773.1 464.0,771.9 460.0,770.6 456.0,769.4 452.0,768.3 448.0,767.1 444.0,766.0 440.0,764.9 436.0,763.9 432.0,762.9 428.0,761.9 424.0,760.9 420.0,760.0 416.0,759.1 412.0,758.2 408.0,757.4 404.0,756.6 400.0,755.8 396.0,755.1 392.0,754.4 388.0,753.7 384.0,753.0 380.0,752.4 376.0,751.8 372.0,751.2 368.0,750.7 364.0,750.2 360.0,749.7 356.0,749.3 352.0,748.8 348.0,748.5 344.0,748.1 340.0,747.8 336.0,747.5 332.0,747.2 328.0,746.9 324.0,746.7 320.0,746.5 316.0,746.4 312.0,746.2 308.0,746.1 304.0,746.1 300.0,746.0 296.0,746.0 292.0,746.0 288.0,746.1 284.0,746.1 280.0,746.2 276.0,746.3 272.0,746.5 268.0,746.7 264.0,746.9 260.0,747.1 256.0,747.4 252.0,747.7 248.0,748.0 244.0,748.4 240.0,748.7 236.0,749.2 232.0,749.6 228.0,750.1 224.0,750.6 220.0,751.1 216.0,751.7 212.0,752.3 208.0,752.9 204.0,753.6 200.0,754.3 196.0,755.1 192.0,755.8 188.0,756.6 184.0,757.5 180.0,758.4 176.0,759.3 172.0,760.2 168.0,761.2 164.0,762.2 160.0,763.3 156.0,764.4 152.0,765.5 148.0,766.7 144.0,767.9 140.0,769.2 136.0,770.5 132.0,771.8 128.0,773.2 124.0,774.6 120.0,776.0 116.0,777.5 112.0,779.1 108.0,780.6 104.0,782.2 100.0,783.9 96.0,785.6 92.0,787.4 88.0,789.1 84.0,791.0 80.0,792.9 76.0,794.8 72.0,796.7 68.0,798.8 64.0,800.8 60.0,802.9 56.0,805.1 52.0,807.3 48.0,809.5 44.0,811.8 40.0,814.1 36.0,816.5 32.0,818.9 28.0,821.4 24.0,823.9 20.0,826.5 16.0,829.2 12.0,831.8 8.0,834.6 4.0,837.3 0.0,840.2 -12.0,840.2 Z" fill="url(#gband)" stroke="#1e1e1e" stroke-width="1.2"/>
<path d="M-12.0,535.0 0.0,535.0 4.0,532.5 8.0,529.9 12.0,527.5 16.0,525.0 20.0,522.6 24.0,520.2 28.0,517.9 32.0,515.6 36.0,513.3 40.0,511.0 44.0,508.8 48.0,506.6 52.0,504.5 56.0,502.3 60.0,500.2 64.0,498.2 68.0,496.1 72.0,494.1 76.0,492.1 80.0,490.2 84.0,488.3 88.0,486.4 92.0,484.5 96.0,482.7 100.0,480.9 104.0,479.1 108.0,477.4 112.0,475.7 116.0,474.0 120.0,472.4 124.0,470.7 128.0,469.1 132.0,467.6 136.0,466.0 140.0,464.5 144.0,463.0 148.0,461.6 152.0,460.2 156.0,458.8 160.0,457.4 164.0,456.1 168.0,454.8 172.0,453.5 176.0,452.2 180.0,451.0 184.0,449.8 188.0,448.6 192.0,447.5 196.0,446.3 200.0,445.2 204.0,444.2 208.0,443.1 212.0,442.1 216.0,441.1 220.0,440.2 224.0,439.2 228.0,438.3 232.0,437.5 236.0,436.6 240.0,435.8 244.0,435.0 248.0,434.2 252.0,433.4 256.0,432.7 260.0,432.0 264.0,431.3 268.0,430.7 272.0,430.1 276.0,429.5 280.0,428.9 284.0,428.3 288.0,427.8 292.0,427.3 296.0,426.8 300.0,426.4 304.0,426.0 308.0,425.6 312.0,425.2 316.0,424.8 320.0,424.5 324.0,424.2 328.0,423.9 332.0,423.7 336.0,423.5 340.0,423.3 344.0,423.1 348.0,422.9 352.0,422.8 356.0,422.7 360.0,422.6 364.0,422.6 368.0,422.6 372.0,422.6 376.0,422.6 380.0,422.6 384.0,422.7 388.0,422.8 392.0,422.9 396.0,423.1 400.0,423.2 404.0,423.4 408.0,423.6 412.0,423.9 416.0,424.2 420.0,424.5 424.0,424.8 428.0,425.1 432.0,425.5 436.0,425.9 440.0,426.3 444.0,426.7 448.0,427.2 452.0,427.7 456.0,428.2 460.0,428.7 464.0,429.3 468.0,429.9 472.0,430.5 476.0,431.1 480.0,431.8 484.0,432.4 488.0,433.1 492.0,433.9 496.0,434.6 500.0,435.4 504.0,436.2 508.0,437.0 512.0,437.9 516.0,438.8 520.0,439.6 524.0,440.6 528.0,441.5 532.0,442.5 536.0,443.5 540.0,444.5 544.0,445.5 548.0,446.6 552.0,447.7 556.0,448.8 560.0,449.9 564.0,451.1 568.0,452.3 572.0,453.5 576.0,454.7 580.0,456.0 584.0,457.2 588.0,458.5 592.0,459.9 596.0,461.2 600.0,462.6 604.0,464.0 608.0,465.4 612.0,466.8 616.0,468.3 620.0,469.8 624.0,471.3 628.0,472.9 632.0,474.4 636.0,476.0 640.0,477.6 644.0,479.2 648.0,480.9 652.0,482.6 656.0,484.3 660.0,486.0 664.0,487.7 668.0,489.5 672.0,491.3 676.0,493.1 680.0,495.0 684.0,496.8 688.0,498.7 692.0,500.7 696.0,502.6 700.0,504.6 704.0,506.6 708.0,508.6 712.0,510.7 716.0,512.8 720.0,514.9 724.0,517.1 728.0,519.3 732.0,521.5 736.0,523.7 740.0,526.0 744.0,528.3 748.0,530.6 752.0,533.0 756.0,535.4 760.0,537.8 764.0,540.3 768.0,542.8 772.0,545.3 776.0,547.9 780.0,550.5 784.0,553.1 788.0,555.8 792.0,558.5 796.0,561.2 800.0,564.0 804.0,566.8 808.0,569.6 812.0,572.5 816.0,575.3 820.0,578.3 824.0,581.2 828.0,584.2 832.0,587.2 836.0,590.2 840.0,593.2 844.0,596.3 848.0,599.4 852.0,602.5 856.0,605.6 860.0,608.7 864.0,611.9 868.0,615.1 872.0,618.3 876.0,621.5 880.0,624.7 884.0,628.0 888.0,631.2 892.0,634.5 896.0,637.8 900.0,641.1 904.0,644.4 908.0,647.7 912.0,651.1 916.0,654.4 920.0,657.7 924.0,661.1 928.0,664.5 932.0,667.8 936.0,671.2 940.0,674.6 944.0,677.9 948.0,681.3 952.0,684.7 956.0,688.1 960.0,691.5 964.0,694.9 968.0,698.2 972.0,701.6 976.0,705.0 980.0,708.4 984.0,711.7 988.0,715.1 992.0,718.4 996.0,721.8 1000.0,725.1 1004.0,728.4 1008.0,731.8 1012.0,735.1 1016.0,738.4 1020.0,741.7 1024.0,744.9 1028.0,748.2 1032.0,751.4 1036.0,754.7 1040.0,757.9 1044.0,761.1 1048.0,764.3 1052.0,767.4 1056.0,770.6 1060.0,773.7 1064.0,776.8 1068.0,779.9 1072.0,783.0 1076.0,786.0 1080.0,789.0 1084.0,792.0 1088.0,795.0 1092.0,797.9 1096.0,800.8 1100.0,803.7 1104.0,806.6 1108.0,809.4 1112.0,812.2 1116.0,815.0 1120.0,817.7 1124.0,820.5 1128.0,823.2 1132.0,825.8 1136.0,828.5 1140.0,831.1 1144.0,833.7 1148.0,836.2 1152.0,838.7 1156.0,841.2 1160.0,843.7 1164.0,846.1 1168.0,848.5 1172.0,850.9 1176.0,853.2 1180.0,855.5 1184.0,857.8 1188.0,860.1 1192.0,862.3 1196.0,864.4 1200.0,866.6 1204.0,868.7 1208.0,870.8 1212.0,872.8 1216.0,874.8 1220.0,876.8 1224.0,878.7 1228.0,880.6 1232.0,882.5 1236.0,884.3 1240.0,886.1 1244.0,887.9 1248.0,889.6 1252.0,891.3 1256.0,892.9 1260.0,894.6 1264.0,896.1 1268.0,897.7 1272.0,899.2 1276.0,900.6 1280.0,902.0 1284.0,903.4 1288.0,904.8 1292.0,906.1 1296.0,907.3 1300.0,908.5 1304.0,909.7 1308.0,910.9 1312.0,911.9 1316.0,913.0 1320.0,914.0 1324.0,915.0 1328.0,915.9 1332.0,916.8 1336.0,917.6 1340.0,918.4 1344.0,919.2 1348.0,919.9 1352.0,920.6 1356.0,921.2 1360.0,921.8 1364.0,922.3 1368.0,922.8 1372.0,923.3 1376.0,923.7 1380.0,924.0 1384.0,924.3 1388.0,924.6 1392.0,924.8 1396.0,925.0 1400.0,925.1 1404.0,925.1 1408.0,925.2 1412.0,925.1 1416.0,925.1 1420.0,924.9 1424.0,924.8 1428.0,924.5 1432.0,924.3 1436.0,924.0 1440.0,923.6 1444.0,923.2 1445.0,923.0 1457.0,923.0 L1457.0,923.0 1445.0,923.0 1444.0,923.2 1440.0,923.6 1436.0,924.0 1432.0,924.3 1428.0,924.5 1424.0,924.8 1420.0,924.9 1416.0,925.1 1412.0,925.1 1408.0,925.2 1404.0,925.1 1400.0,925.1 1396.0,925.0 1392.0,924.8 1388.0,924.6 1384.0,924.3 1380.0,924.0 1376.0,923.7 1372.0,923.3 1368.0,922.8 1364.0,922.3 1360.0,921.8 1356.0,921.2 1352.0,920.6 1348.0,919.9 1344.0,919.2 1340.0,918.4 1336.0,917.6 1332.0,916.8 1328.0,915.9 1324.0,915.0 1320.0,914.0 1316.0,913.0 1312.0,911.9 1308.0,910.9 1304.0,909.7 1300.0,908.5 1296.0,907.3 1292.0,906.1 1288.0,904.8 1284.0,903.4 1280.0,902.0 1276.0,900.6 1272.0,899.2 1268.0,897.7 1264.0,896.1 1260.0,894.6 1256.0,892.9 1252.0,891.3 1248.0,889.6 1244.0,887.9 1240.0,886.1 1236.0,884.3 1232.0,882.5 1228.0,880.6 1224.0,878.7 1220.0,876.8 1216.0,874.8 1212.0,872.8 1208.0,870.8 1204.0,868.7 1200.0,866.6 1196.0,864.4 1192.0,862.3 1188.0,860.1 1184.0,857.8 1180.0,855.5 1176.0,853.2 1172.0,850.9 1168.0,848.5 1164.0,846.1 1160.0,843.7 1156.0,841.2 1152.0,838.7 1148.0,836.2 1144.0,833.7 1140.0,831.1 1136.0,828.5 1132.0,825.8 1128.0,823.2 1124.0,820.5 1120.0,817.7 1116.0,815.0 1112.0,812.2 1108.0,809.4 1104.0,806.6 1100.0,803.7 1096.0,800.8 1092.0,797.9 1088.0,795.0 1084.0,792.0 1080.0,789.0 1076.0,786.0 1072.0,783.0 1068.0,779.9 1064.0,776.8 1060.0,773.7 1056.0,770.6 1052.0,767.4 1048.0,764.3 1044.0,761.1 1040.0,757.9 1036.0,754.7 1032.0,751.4 1028.0,748.2 1024.0,744.9 1020.0,741.7 1016.0,738.4 1012.0,735.1 1008.0,731.8 1004.0,728.4 1000.0,725.1 996.0,721.8 992.0,718.4 988.0,715.1 984.0,711.7 980.0,708.4 976.0,705.0 972.0,701.6 968.0,698.2 964.0,694.9 960.0,691.5 956.0,688.1 952.0,684.7 948.0,681.3 944.0,677.9 940.0,674.6 936.0,671.2 932.0,667.8 928.0,664.5 924.0,661.1 920.0,657.7 916.0,654.4 912.0,651.1 908.0,647.7 904.0,644.4 900.0,641.1 896.0,637.8 892.0,634.5 888.0,631.2 884.0,628.0 880.0,624.7 876.0,621.5 872.0,618.3 868.0,615.1 864.0,611.9 860.0,608.7 856.0,605.6 852.0,602.5 850.0,602.0 848.0,600.3 844.0,596.9 840.0,593.5 836.0,590.3 832.0,587.1 828.0,584.1 824.0,581.1 820.0,578.1 816.0,575.3 812.0,572.5 808.0,569.8 804.0,567.2 800.0,564.6 796.0,562.2 792.0,559.7 788.0,557.4 784.0,555.1 780.0,552.9 776.0,550.8 772.0,548.7 768.0,546.7 764.0,544.8 760.0,542.9 756.0,541.1 752.0,539.4 748.0,537.7 744.0,536.1 740.0,534.5 736.0,533.0 732.0,531.6 728.0,530.2 724.0,528.9 720.0,527.6 716.0,526.4 712.0,525.2 708.0,524.1 704.0,523.0 700.0,522.0 696.0,521.1 692.0,520.2 688.0,519.3 684.0,518.5 680.0,517.7 676.0,517.0 672.0,516.3 668.0,515.7 664.0,515.1 660.0,514.6 656.0,514.1 652.0,513.6 648.0,513.2 644.0,512.8 640.0,512.4 636.0,512.1 632.0,511.9 628.0,511.6 624.0,511.4 620.0,511.2 616.0,511.1 612.0,511.0 608.0,510.9 604.0,510.9 600.0,510.9 596.0,510.9 592.0,510.9 588.0,511.0 584.0,511.1 580.0,511.2 576.0,511.3 572.0,511.5 568.0,511.7 564.0,511.9 560.0,512.1 556.0,512.3 552.0,512.6 548.0,512.9 544.0,513.2 540.0,513.5 536.0,513.8 532.0,514.2 528.0,514.5 524.0,514.9 520.0,515.3 516.0,515.7 512.0,516.1 508.0,516.5 504.0,516.9 500.0,517.3 496.0,517.8 492.0,518.2 488.0,518.6 484.0,519.1 480.0,519.5 476.0,520.0 472.0,520.4 468.0,520.9 464.0,521.3 460.0,521.8 456.0,522.2 452.0,522.7 448.0,523.1 444.0,523.5 440.0,523.9 436.0,524.4 432.0,524.8 428.0,525.2 424.0,525.6 420.0,525.9 416.0,526.3 412.0,526.7 408.0,527.0 404.0,527.3 400.0,527.7 396.0,528.0 392.0,528.3 388.0,528.5 384.0,528.8 380.0,529.0 376.0,529.3 372.0,529.5 368.0,529.8 364.0,530.0 360.0,530.2 356.0,530.4 352.0,530.7 348.0,530.9 344.0,531.1 340.0,531.3 336.0,531.5 332.0,531.7 328.0,532.0 324.0,532.2 320.0,532.5 316.0,532.7 312.0,533.0 308.0,533.2 304.0,533.5 300.0,533.8 296.0,534.1 292.0,534.5 288.0,534.8 284.0,535.1 280.0,535.5 276.0,535.9 272.0,536.3 268.0,536.8 264.0,537.2 260.0,537.7 256.0,538.2 252.0,538.8 248.0,539.3 244.0,539.9 240.0,540.5 236.0,541.2 232.0,541.9 228.0,542.6 224.0,543.3 220.0,544.1 216.0,545.0 212.0,545.8 208.0,546.7 204.0,547.7 200.0,548.6 196.0,549.7 192.0,550.7 188.0,551.8 184.0,553.0 180.0,554.2 176.0,555.4 172.0,556.7 168.0,558.0 164.0,559.3 160.0,560.7 156.0,562.1 152.0,563.5 148.0,565.0 144.0,566.5 140.0,568.0 136.0,569.5 132.0,571.1 128.0,572.7 124.0,574.3 120.0,575.9 116.0,577.6 112.0,579.3 108.0,581.0 104.0,582.7 100.0,584.4 96.0,586.1 92.0,587.9 88.0,589.6 84.0,591.4 80.0,593.1 76.0,594.9 72.0,596.7 68.0,598.5 64.0,600.3 60.0,602.1 56.0,603.9 52.0,605.7 48.0,607.4 44.0,609.2 40.0,611.0 36.0,612.8 32.0,614.5 28.0,616.3 24.0,618.0 20.0,619.8 16.0,621.5 12.0,623.2 8.0,624.9 4.0,626.6 0.0,628.2 -12.0,628.2 Z" fill="#0e0e0e"/>
<path d="M-12.0,431.5 0.0,431.5 4.0,429.4 8.0,427.2 12.0,425.1 16.0,423.0 20.0,420.9 24.0,418.7 28.0,416.6 32.0,414.5 36.0,412.5 40.0,410.4 44.0,408.3 48.0,406.3 52.0,404.2 56.0,402.2 60.0,400.1 64.0,398.1 68.0,396.1 72.0,394.1 76.0,392.1 80.0,390.1 84.0,388.2 88.0,386.2 92.0,384.3 96.0,382.4 100.0,380.5 104.0,378.6 108.0,376.7 112.0,374.9 116.0,373.0 120.0,371.2 124.0,369.4 128.0,367.6 132.0,365.8 136.0,364.0 140.0,362.3 144.0,360.6 148.0,358.9 152.0,357.2 156.0,355.5 160.0,353.9 164.0,352.3 168.0,350.7 172.0,349.1 176.0,347.5 180.0,346.0 184.0,344.5 188.0,343.0 192.0,341.5 196.0,340.1 200.0,338.7 204.0,337.3 208.0,335.9 212.0,334.6 216.0,333.2 220.0,331.9 224.0,330.7 228.0,329.4 232.0,328.2 236.0,327.0 240.0,325.9 244.0,324.8 248.0,323.7 252.0,322.6 256.0,321.6 260.0,320.5 264.0,319.6 268.0,318.6 272.0,317.7 276.0,316.8 280.0,315.9 284.0,315.1 288.0,314.3 292.0,313.5 296.0,312.7 300.0,312.0 304.0,311.3 308.0,310.6 312.0,310.0 316.0,309.4 320.0,308.8 324.0,308.2 328.0,307.6 332.0,307.1 336.0,306.6 340.0,306.2 344.0,305.7 348.0,305.3 352.0,304.9 356.0,304.6 360.0,304.2 364.0,303.9 368.0,303.6 372.0,303.4 376.0,303.1 380.0,302.9 384.0,302.7 388.0,302.6 392.0,302.4 396.0,302.3 400.0,302.2 404.0,302.1 408.0,302.1 412.0,302.0 416.0,302.0 420.0,302.1 424.0,302.1 428.0,302.2 432.0,302.2 436.0,302.3 440.0,302.5 444.0,302.6 448.0,302.8 452.0,303.0 456.0,303.2 460.0,303.4 464.0,303.7 468.0,303.9 472.0,304.2 476.0,304.6 480.0,304.9 484.0,305.2 488.0,305.6 492.0,306.0 496.0,306.4 500.0,306.8 504.0,307.3 508.0,307.8 512.0,308.3 516.0,308.8 520.0,309.3 524.0,309.8 528.0,310.4 532.0,311.0 536.0,311.6 540.0,312.2 544.0,312.8 548.0,313.5 552.0,314.1 556.0,314.8 560.0,315.5 564.0,316.3 568.0,317.0 572.0,317.8 576.0,318.6 580.0,319.4 584.0,320.2 588.0,321.0 592.0,321.9 596.0,322.8 600.0,323.7 604.0,324.6 608.0,325.6 612.0,326.5 616.0,327.5 620.0,328.5 624.0,329.5 628.0,330.6 632.0,331.6 636.0,332.7 640.0,333.8 644.0,335.0 648.0,336.1 652.0,337.3 656.0,338.5 660.0,339.7 664.0,340.9 668.0,342.2 672.0,343.4 676.0,344.7 680.0,346.1 684.0,347.4 688.0,348.8 692.0,350.1 696.0,351.5 700.0,353.0 704.0,354.4 708.0,355.9 712.0,357.4 716.0,358.9 720.0,360.4 724.0,362.0 728.0,363.6 732.0,365.2 736.0,366.8 740.0,368.4 744.0,370.1 748.0,371.8 752.0,373.5 756.0,375.2 760.0,377.0 764.0,378.8 768.0,380.6 772.0,382.4 776.0,384.2 780.0,386.1 784.0,388.0 788.0,389.9 792.0,391.8 796.0,393.7 800.0,395.7 804.0,397.7 808.0,399.7 812.0,401.7 816.0,403.8 820.0,405.9 824.0,408.0 828.0,410.1 832.0,412.2 836.0,414.4 840.0,416.6 844.0,418.8 848.0,421.0 852.0,423.2 856.0,425.5 860.0,427.8 864.0,430.1 868.0,432.4 872.0,434.8 876.0,437.1 880.0,439.5 884.0,441.9 888.0,444.4 892.0,446.8 896.0,449.3 900.0,451.8 904.0,454.3 908.0,456.8 912.0,459.4 916.0,462.0 920.0,464.6 924.0,467.2 928.0,469.8 932.0,472.5 936.0,475.2 940.0,477.9 944.0,480.6 948.0,483.3 952.0,486.1 956.0,488.9 960.0,491.7 964.0,494.5 968.0,497.3 972.0,500.2 976.0,503.0 980.0,505.9 984.0,508.9 988.0,511.8 992.0,514.8 996.0,517.7 1000.0,520.7 1004.0,523.7 1008.0,526.8 1012.0,529.8 1016.0,532.9 1020.0,536.0 1024.0,539.1 1028.0,542.2 1032.0,545.3 1036.0,548.4 1040.0,551.6 1044.0,554.7 1048.0,557.9 1052.0,561.1 1056.0,564.2 1060.0,567.4 1064.0,570.6 1068.0,573.8 1072.0,577.0 1076.0,580.2 1080.0,583.4 1084.0,586.6 1088.0,589.8 1092.0,593.0 1096.0,596.2 1100.0,599.4 1104.0,602.6 1108.0,605.8 1112.0,609.0 1116.0,612.2 1120.0,615.4 1124.0,618.6 1128.0,621.7 1132.0,624.9 1136.0,628.0 1140.0,631.2 1144.0,634.3 1148.0,637.4 1152.0,640.5 1156.0,643.6 1160.0,646.7 1164.0,649.7 1168.0,652.8 1172.0,655.8 1176.0,658.8 1180.0,661.8 1184.0,664.8 1188.0,667.7 1192.0,670.6 1196.0,673.5 1200.0,676.4 1204.0,679.3 1208.0,682.1 1212.0,684.9 1216.0,687.7 1220.0,690.5 1224.0,693.2 1228.0,695.9 1232.0,698.6 1236.0,701.2 1240.0,703.9 1244.0,706.4 1248.0,709.0 1252.0,711.5 1256.0,714.0 1260.0,716.5 1264.0,718.9 1268.0,721.3 1272.0,723.6 1276.0,725.9 1280.0,728.2 1284.0,730.4 1288.0,732.6 1292.0,734.8 1296.0,736.9 1300.0,738.9 1304.0,741.0 1308.0,742.9 1312.0,744.9 1316.0,746.8 1320.0,748.6 1324.0,750.4 1328.0,752.2 1332.0,753.9 1336.0,755.5 1340.0,757.1 1344.0,758.7 1348.0,760.2 1352.0,761.7 1356.0,763.1 1360.0,764.4 1364.0,765.7 1368.0,767.0 1372.0,768.2 1376.0,769.3 1380.0,770.4 1384.0,771.4 1388.0,772.4 1392.0,773.3 1396.0,774.2 1400.0,775.0 1404.0,775.7 1408.0,776.4 1412.0,777.0 1416.0,777.6 1420.0,778.1 1424.0,778.5 1428.0,778.9 1432.0,779.2 1436.0,779.5 1440.0,779.6 1444.0,779.8 1445.0,779.8 1457.0,779.8 L1457.0,923.0 1445.0,923.0 1444.0,923.2 1440.0,923.6 1436.0,924.0 1432.0,924.3 1428.0,924.5 1424.0,924.8 1420.0,924.9 1416.0,925.1 1412.0,925.1 1408.0,925.2 1404.0,925.1 1400.0,925.1 1396.0,925.0 1392.0,924.8 1388.0,924.6 1384.0,924.3 1380.0,924.0 1376.0,923.7 1372.0,923.3 1368.0,922.8 1364.0,922.3 1360.0,921.8 1356.0,921.2 1352.0,920.6 1348.0,919.9 1344.0,919.2 1340.0,918.4 1336.0,917.6 1332.0,916.8 1328.0,915.9 1324.0,915.0 1320.0,914.0 1316.0,913.0 1312.0,911.9 1308.0,910.9 1304.0,909.7 1300.0,908.5 1296.0,907.3 1292.0,906.1 1288.0,904.8 1284.0,903.4 1280.0,902.0 1276.0,900.6 1272.0,899.2 1268.0,897.7 1264.0,896.1 1260.0,894.6 1256.0,892.9 1252.0,891.3 1248.0,889.6 1244.0,887.9 1240.0,886.1 1236.0,884.3 1232.0,882.5 1228.0,880.6 1224.0,878.7 1220.0,876.8 1216.0,874.8 1212.0,872.8 1208.0,870.8 1204.0,868.7 1200.0,866.6 1196.0,864.4 1192.0,862.3 1188.0,860.1 1184.0,857.8 1180.0,855.5 1176.0,853.2 1172.0,850.9 1168.0,848.5 1164.0,846.1 1160.0,843.7 1156.0,841.2 1152.0,838.7 1148.0,836.2 1144.0,833.7 1140.0,831.1 1136.0,828.5 1132.0,825.8 1128.0,823.2 1124.0,820.5 1120.0,817.7 1116.0,815.0 1112.0,812.2 1108.0,809.4 1104.0,806.6 1100.0,803.7 1096.0,800.8 1092.0,797.9 1088.0,795.0 1084.0,792.0 1080.0,789.0 1076.0,786.0 1072.0,783.0 1068.0,779.9 1064.0,776.8 1060.0,773.7 1056.0,770.6 1052.0,767.4 1048.0,764.3 1044.0,761.1 1040.0,757.9 1036.0,754.7 1032.0,751.4 1028.0,748.2 1024.0,744.9 1020.0,741.7 1016.0,738.4 1012.0,735.1 1008.0,731.8 1004.0,728.4 1000.0,725.1 996.0,721.8 992.0,718.4 988.0,715.1 984.0,711.7 980.0,708.4 976.0,705.0 972.0,701.6 968.0,698.2 964.0,694.9 960.0,691.5 956.0,688.1 952.0,684.7 948.0,681.3 944.0,677.9 940.0,674.6 936.0,671.2 932.0,667.8 928.0,664.5 924.0,661.1 920.0,657.7 916.0,654.4 912.0,651.1 908.0,647.7 904.0,644.4 900.0,641.1 896.0,637.8 892.0,634.5 888.0,631.2 884.0,628.0 880.0,624.7 876.0,621.5 872.0,618.3 868.0,615.1 864.0,611.9 860.0,608.7 856.0,605.6 852.0,602.5 848.0,599.4 844.0,596.3 840.0,593.2 836.0,590.2 832.0,587.2 828.0,584.2 824.0,581.2 820.0,578.3 816.0,575.3 812.0,572.5 808.0,569.6 804.0,566.8 800.0,564.0 796.0,561.2 792.0,558.5 788.0,555.8 784.0,553.1 780.0,550.5 776.0,547.9 772.0,545.3 768.0,542.8 764.0,540.3 760.0,537.8 756.0,535.4 752.0,533.0 748.0,530.6 744.0,528.3 740.0,526.0 736.0,523.7 732.0,521.5 728.0,519.3 724.0,517.1 720.0,514.9 716.0,512.8 712.0,510.7 708.0,508.6 704.0,506.6 700.0,504.6 696.0,502.6 692.0,500.7 688.0,498.7 684.0,496.8 680.0,495.0 676.0,493.1 672.0,491.3 668.0,489.5 664.0,487.7 660.0,486.0 656.0,484.3 652.0,482.6 648.0,480.9 644.0,479.2 640.0,477.6 636.0,476.0 632.0,474.4 628.0,472.9 624.0,471.3 620.0,469.8 616.0,468.3 612.0,466.8 608.0,465.4 604.0,464.0 600.0,462.6 596.0,461.2 592.0,459.9 588.0,458.5 584.0,457.2 580.0,456.0 576.0,454.7 572.0,453.5 568.0,452.3 564.0,451.1 560.0,449.9 556.0,448.8 552.0,447.7 548.0,446.6 544.0,445.5 540.0,444.5 536.0,443.5 532.0,442.5 528.0,441.5 524.0,440.6 520.0,439.6 516.0,438.8 512.0,437.9 508.0,437.0 504.0,436.2 500.0,435.4 496.0,434.6 492.0,433.9 488.0,433.1 484.0,432.4 480.0,431.8 476.0,431.1 472.0,430.5 468.0,429.9 464.0,429.3 460.0,428.7 456.0,428.2 452.0,427.7 448.0,427.2 444.0,426.7 440.0,426.3 436.0,425.9 432.0,425.5 428.0,425.1 424.0,424.8 420.0,424.5 416.0,424.2 412.0,423.9 408.0,423.6 404.0,423.4 400.0,423.2 396.0,423.1 392.0,422.9 388.0,422.8 384.0,422.7 380.0,422.6 376.0,422.6 372.0,422.6 368.0,422.6 364.0,422.6 360.0,422.6 356.0,422.7 352.0,422.8 348.0,422.9 344.0,423.1 340.0,423.3 336.0,423.5 332.0,423.7 328.0,423.9 324.0,424.2 320.0,424.5 316.0,424.8 312.0,425.2 308.0,425.6 304.0,426.0 300.0,426.4 296.0,426.8 292.0,427.3 288.0,427.8 284.0,428.3 280.0,428.9 276.0,429.5 272.0,430.1 268.0,430.7 264.0,431.3 260.0,432.0 256.0,432.7 252.0,433.4 248.0,434.2 244.0,435.0 240.0,435.8 236.0,436.6 232.0,437.5 228.0,438.3 224.0,439.2 220.0,440.2 216.0,441.1 212.0,442.1 208.0,443.1 204.0,444.2 200.0,445.2 196.0,446.3 192.0,447.5 188.0,448.6 184.0,449.8 180.0,451.0 176.0,452.2 172.0,453.5 168.0,454.8 164.0,456.1 160.0,457.4 156.0,458.8 152.0,460.2 148.0,461.6 144.0,463.0 140.0,464.5 136.0,466.0 132.0,467.6 128.0,469.1 124.0,470.7 120.0,472.4 116.0,474.0 112.0,475.7 108.0,477.4 104.0,479.1 100.0,480.9 96.0,482.7 92.0,484.5 88.0,486.4 84.0,488.3 80.0,490.2 76.0,492.1 72.0,494.1 68.0,496.1 64.0,498.2 60.0,500.2 56.0,502.3 52.0,504.5 48.0,506.6 44.0,508.8 40.0,511.0 36.0,513.3 32.0,515.6 28.0,517.9 24.0,520.2 20.0,522.6 16.0,525.0 12.0,527.5 8.0,529.9 4.0,532.5 0.0,535.0 -12.0,535.0 Z" fill="url(#face)"/>
<path d="M252.0,425.9 256.0,425.2 260.0,424.5 264.0,423.8 268.0,423.2 272.0,422.6 276.0,422.0 280.0,421.4 284.0,420.8 288.0,420.3 292.0,419.8 296.0,419.3 300.0,418.9 304.0,418.5 308.0,418.1 312.0,417.7 316.0,417.3 320.0,417.0 324.0,416.7 328.0,416.4 332.0,416.2 336.0,416.0 340.0,415.8 344.0,415.6 348.0,415.4 352.0,415.3 356.0,415.2 360.0,415.1 364.0,415.1 368.0,415.1 372.0,415.1 376.0,415.1 380.0,415.1 384.0,415.2 388.0,415.3 392.0,415.4 396.0,415.6 400.0,415.7 404.0,415.9 408.0,416.1 412.0,416.4 416.0,416.7 420.0,417.0 424.0,417.3 428.0,417.6 432.0,418.0 436.0,418.4 440.0,418.8 444.0,419.2 448.0,419.7 452.0,420.2 456.0,420.7 460.0,421.2 464.0,421.8 468.0,422.4 472.0,423.0 476.0,423.6 480.0,424.3 484.0,424.9 488.0,425.6 492.0,426.4 496.0,427.1 500.0,427.9 504.0,428.7 508.0,429.5 512.0,430.4 516.0,431.3 520.0,432.1 524.0,433.1 528.0,434.0 532.0,435.0 536.0,436.0 540.0,437.0 544.0,438.0 548.0,439.1 552.0,440.2 556.0,441.3 560.0,442.4 564.0,443.6 568.0,444.8 572.0,446.0 576.0,447.2 580.0,448.5 584.0,449.7 588.0,451.0 592.0,452.4 596.0,453.7 600.0,455.1 604.0,456.5 608.0,457.9 612.0,459.3 616.0,460.8 620.0,462.3 624.0,463.8 628.0,465.4 632.0,466.9 636.0,468.5 640.0,470.1 644.0,471.7 648.0,473.4 652.0,475.1 656.0,476.8 660.0,478.5 664.0,480.2 668.0,482.0 672.0,483.8 676.0,485.6 680.0,487.5 684.0,489.3 688.0,491.2 692.0,493.2 696.0,495.1 700.0,497.1 704.0,499.1 708.0,501.1 712.0,503.2 716.0,505.3 720.0,507.4 724.0,509.6 728.0,511.8 732.0,514.0 736.0,516.2 740.0,518.5 744.0,520.8 748.0,523.1 752.0,525.5 756.0,527.9 760.0,530.3 764.0,532.8 768.0,535.3 772.0,537.8 776.0,540.4 780.0,543.0 784.0,545.6 788.0,548.3 792.0,551.0 796.0,553.7 800.0,556.5 804.0,559.3 808.0,562.1 812.0,565.0 816.0,567.8 820.0,570.8 824.0,573.7 828.0,576.7 832.0,579.7 836.0,582.7 840.0,585.7 844.0,588.8 848.0,591.9 852.0,595.0 856.0,598.1 860.0,601.2 864.0,604.4 868.0,607.6 872.0,610.8 876.0,614.0 880.0,617.2 884.0,620.5 888.0,623.7 892.0,627.0 896.0,630.3 900.0,633.6 904.0,636.9 908.0,640.2 912.0,643.6 916.0,646.9 920.0,650.2 924.0,653.6 928.0,657.0 932.0,660.3 936.0,663.7 940.0,667.1 944.0,670.4 948.0,673.8 952.0,677.2 956.0,680.6 960.0,684.0 964.0,687.4 968.0,690.7 972.0,694.1 976.0,697.5 980.0,700.9 984.0,704.2 988.0,707.6 992.0,710.9 996.0,714.3 1000.0,717.6 1004.0,720.9 1008.0,724.3 1012.0,727.6 1016.0,730.9 1020.0,734.2 1024.0,737.4 1028.0,740.7 1032.0,743.9 1036.0,747.2 1040.0,750.4 1044.0,753.6 1048.0,756.8 1052.0,759.9 1056.0,763.1 1060.0,766.2 1064.0,769.3 1068.0,772.4 1072.0,775.5 1076.0,778.5 1080.0,781.5 1084.0,784.5 1088.0,787.5 1092.0,790.4 1096.0,793.3 1100.0,796.2 1104.0,799.1 1108.0,801.9 1112.0,804.7 1116.0,807.5 1120.0,810.2 1124.0,813.0 1128.0,815.7 1132.0,818.3 1136.0,821.0 1140.0,823.6 1144.0,826.2 1148.0,828.7 1152.0,831.2 1156.0,833.7 1160.0,836.2 1164.0,838.6 1168.0,841.0 1172.0,843.4 1176.0,845.7 1180.0,848.0 1184.0,850.3 1188.0,852.6 1192.0,854.8 1196.0,856.9 1200.0,859.1 1204.0,861.2 1208.0,863.3 1212.0,865.3 1216.0,867.3 1220.0,869.3 1224.0,871.2 1228.0,873.1 1232.0,875.0 1236.0,876.8 1240.0,878.6 1244.0,880.4 1248.0,882.1 1252.0,883.8 1256.0,885.4 1260.0,887.1 1264.0,888.6 1268.0,890.2 1272.0,891.7 1276.0,893.1 1280.0,894.5 1284.0,895.9 1288.0,897.3 1292.0,898.6 1296.0,899.8 1300.0,901.0 1304.0,902.2 1308.0,903.4 1312.0,904.4 1316.0,905.5 1320.0,906.5 1324.0,907.5 1328.0,908.4 1332.0,909.3 1336.0,910.1 1340.0,910.9 1344.0,911.7 1348.0,912.4 1352.0,913.1 1356.0,913.7 1360.0,914.3 1364.0,914.8 1368.0,915.3 1372.0,915.8 1376.0,916.2 1380.0,916.5 1384.0,916.8 1388.0,917.1 1392.0,917.3 1396.0,917.5 1400.0,917.6 1404.0,917.6 1408.0,917.7 1412.0,917.6 1416.0,917.6 1420.0,917.4 1424.0,917.3 1428.0,917.0 1432.0,916.8 1436.0,916.5 1440.0,916.1 1444.0,915.7 1445.0,915.5 1457.0,915.5" fill="none" stroke="url(#edgeg)" stroke-width="15"/>
<path d="M470.0,299.6 474.0,299.6 478.0,299.7 482.0,299.7 486.0,299.8 490.0,299.8 494.0,299.8 498.0,299.9 502.0,299.9 506.0,300.0 510.0,300.0 514.0,300.1 518.0,300.1 522.0,300.2 526.0,300.2 530.0,300.3 534.0,300.3 538.0,300.4 542.0,300.4 546.0,300.5 550.0,300.5 554.0,300.6 558.0,300.6 562.0,300.7 566.0,300.7 570.0,300.8 574.0,300.9 578.0,300.9 582.0,301.0 586.0,301.0 590.0,301.1 594.0,301.2 598.0,301.2 602.0,301.3 606.0,301.4 610.0,301.4 614.0,301.5 618.0,301.6 622.0,301.6 626.0,301.7 630.0,301.8 634.0,301.9 638.0,301.9 642.0,302.0 646.0,302.1 650.0,302.1 654.0,302.2 658.0,302.3 662.0,302.4 666.0,302.4 670.0,302.5 674.0,302.6 678.0,302.7 682.0,302.8 686.0,302.8 690.0,302.9 694.0,303.0 698.0,303.1 702.0,303.2 706.0,303.3 710.0,303.3 714.0,303.4 718.0,303.5 722.0,303.6 726.0,303.7 730.0,303.8 734.0,303.9 738.0,304.0 742.0,304.1 746.0,304.1 750.0,304.2 754.0,304.3 758.0,304.4 762.0,304.5 766.0,304.6 770.0,304.7 774.0,304.8 778.0,304.9 782.0,305.0 786.0,305.1 790.0,305.2 794.0,305.3 798.0,305.4 802.0,305.5 806.0,305.6 810.0,305.7 814.0,305.8 818.0,305.9 822.0,306.0 826.0,306.1 830.0,306.2 834.0,306.3 838.0,306.4 842.0,306.5 846.0,306.7 850.0,306.8 854.0,306.9 858.0,307.0 862.0,307.1 866.0,307.2 870.0,307.3 874.0,307.4 878.0,307.5 882.0,307.6 886.0,307.8 890.0,307.9 894.0,308.0 898.0,308.1 902.0,308.2 906.0,308.3 910.0,308.5 914.0,308.6 918.0,308.7 922.0,308.8 926.0,308.9 930.0,309.0 934.0,309.2 938.0,309.3 942.0,309.4 946.0,309.5 950.0,309.7 954.0,309.8 958.0,309.9 962.0,310.0 966.0,310.2 970.0,310.3 974.0,310.4 978.0,310.5 982.0,310.7 986.0,310.8 990.0,310.9 994.0,311.0 998.0,311.2 1002.0,311.3 1006.0,311.4 1010.0,311.6 1014.0,311.7 1018.0,311.8 1022.0,311.9 1026.0,312.1 1030.0,312.2 1034.0,312.3 1038.0,312.5 1042.0,312.6 1046.0,312.7 1050.0,312.9 1054.0,313.0 1058.0,313.1 1062.0,313.3 1066.0,313.4 1070.0,313.6 1074.0,313.7 1078.0,313.8 1082.0,314.0 1086.0,314.1 1090.0,314.2 1094.0,314.4 1098.0,314.5 1102.0,314.7 1106.0,314.8 1110.0,314.9 1114.0,315.1 1118.0,315.2 1122.0,315.4 1126.0,315.5 1130.0,315.7 1134.0,315.8 1138.0,315.9 1142.0,316.1 1146.0,316.2 1150.0,316.4 1154.0,316.5 1158.0,316.7 1162.0,316.8 1166.0,317.0 1170.0,317.1 1174.0,317.3 1178.0,317.5 1182.0,317.7 1186.0,317.9 1190.0,318.1 1194.0,318.3 1198.0,318.6 1202.0,318.8 1206.0,319.1 1210.0,319.4 1214.0,319.7 1218.0,320.1 1222.0,320.5 1226.0,320.9 1230.0,321.3 1234.0,321.7 1238.0,322.2 1242.0,322.8 1246.0,323.3 1250.0,323.9 1254.0,324.5 1258.0,325.2 1262.0,325.9 1266.0,326.6 1270.0,327.4 1274.0,328.3 1278.0,329.1 1282.0,330.1 1286.0,331.0 1290.0,332.1 1294.0,333.1 1298.0,334.3 1302.0,335.5 1306.0,336.7 1310.0,338.0 1314.0,339.3 1318.0,340.8 1322.0,342.2 1326.0,343.8 1330.0,345.4 1334.0,347.0 1338.0,348.8 1342.0,350.6 1346.0,352.4 1350.0,354.4 1354.0,356.3 1358.0,358.3 1362.0,360.4 1366.0,362.5 1370.0,364.6 1374.0,366.7 1378.0,368.8 1382.0,370.9 1386.0,373.1 1390.0,375.2 1394.0,377.3 1398.0,379.5 1402.0,381.5 1406.0,383.6 1410.0,385.6 1414.0,387.6 1418.0,389.6 1422.0,391.4 1426.0,393.3 1430.0,395.0 1434.0,396.7 1438.0,398.4 1442.0,399.9 1445.0,401.0 L1445.0,779.8 1444.0,779.8 1440.0,779.6 1436.0,779.5 1432.0,779.2 1428.0,778.9 1424.0,778.5 1420.0,778.1 1416.0,777.6 1412.0,777.0 1408.0,776.4 1404.0,775.7 1400.0,775.0 1396.0,774.2 1392.0,773.3 1388.0,772.4 1384.0,771.4 1380.0,770.4 1376.0,769.3 1372.0,768.2 1368.0,767.0 1364.0,765.7 1360.0,764.4 1356.0,763.1 1352.0,761.7 1348.0,760.2 1344.0,758.7 1340.0,757.1 1336.0,755.5 1332.0,753.9 1328.0,752.2 1324.0,750.4 1320.0,748.6 1316.0,746.8 1312.0,744.9 1308.0,742.9 1304.0,741.0 1300.0,738.9 1296.0,736.9 1292.0,734.8 1288.0,732.6 1284.0,730.4 1280.0,728.2 1276.0,725.9 1272.0,723.6 1268.0,721.3 1264.0,718.9 1260.0,716.5 1256.0,714.0 1252.0,711.5 1248.0,709.0 1244.0,706.4 1240.0,703.9 1236.0,701.2 1232.0,698.6 1228.0,695.9 1224.0,693.2 1220.0,690.5 1216.0,687.7 1212.0,684.9 1208.0,682.1 1204.0,679.3 1200.0,676.4 1196.0,673.5 1192.0,670.6 1188.0,667.7 1184.0,664.8 1180.0,661.8 1176.0,658.8 1172.0,655.8 1168.0,652.8 1164.0,649.7 1160.0,646.7 1156.0,643.6 1152.0,640.5 1148.0,637.4 1144.0,634.3 1140.0,631.2 1136.0,628.0 1132.0,624.9 1128.0,621.7 1124.0,618.6 1120.0,615.4 1116.0,612.2 1112.0,609.0 1108.0,605.8 1104.0,602.6 1100.0,599.4 1096.0,596.2 1092.0,593.0 1088.0,589.8 1084.0,586.6 1080.0,583.4 1076.0,580.2 1072.0,577.0 1068.0,573.8 1064.0,570.6 1060.0,567.4 1056.0,564.2 1052.0,561.1 1048.0,557.9 1044.0,554.7 1040.0,551.6 1036.0,548.4 1032.0,545.3 1028.0,542.2 1024.0,539.1 1020.0,536.0 1016.0,532.9 1012.0,529.8 1008.0,526.8 1004.0,523.7 1000.0,520.7 996.0,517.7 992.0,514.8 988.0,511.8 984.0,508.9 980.0,505.9 976.0,503.0 972.0,500.2 968.0,497.3 964.0,494.5 960.0,491.7 956.0,488.9 952.0,486.1 948.0,483.3 944.0,480.6 940.0,477.9 936.0,475.2 932.0,472.5 928.0,469.8 924.0,467.2 920.0,464.6 916.0,462.0 912.0,459.4 908.0,456.8 904.0,454.3 900.0,451.8 896.0,449.3 892.0,446.8 888.0,444.4 884.0,441.9 880.0,439.5 876.0,437.1 872.0,434.8 868.0,432.4 864.0,430.1 860.0,427.8 856.0,425.5 852.0,423.2 848.0,421.0 844.0,418.8 840.0,416.6 836.0,414.4 832.0,412.2 828.0,410.1 824.0,408.0 820.0,405.9 816.0,403.8 812.0,401.7 808.0,399.7 804.0,397.7 800.0,395.7 796.0,393.7 792.0,391.8 788.0,389.9 784.0,388.0 780.0,386.1 776.0,384.2 772.0,382.4 768.0,380.6 764.0,378.8 760.0,377.0 756.0,375.2 752.0,373.5 748.0,371.8 744.0,370.1 740.0,368.4 736.0,366.8 732.0,365.2 728.0,363.6 724.0,362.0 720.0,360.4 716.0,358.9 712.0,357.4 708.0,355.9 704.0,354.4 700.0,353.0 696.0,351.5 692.0,350.1 688.0,348.8 684.0,347.4 680.0,346.1 676.0,344.7 672.0,343.4 668.0,342.2 664.0,340.9 660.0,339.7 656.0,338.5 652.0,337.3 648.0,336.1 644.0,335.0 640.0,333.8 636.0,332.7 632.0,331.6 628.0,330.6 624.0,329.5 620.0,328.5 616.0,327.5 612.0,326.5 608.0,325.6 604.0,324.6 600.0,323.7 596.0,322.8 592.0,321.9 588.0,321.0 584.0,320.2 580.0,319.4 576.0,318.6 572.0,317.8 568.0,317.0 564.0,316.3 560.0,315.5 556.0,314.8 552.0,314.1 548.0,313.5 544.0,312.8 540.0,312.2 536.0,311.6 532.0,311.0 528.0,310.4 524.0,309.8 520.0,309.3 516.0,308.8 512.0,308.3 508.0,307.8 504.0,307.3 500.0,306.8 496.0,306.4 492.0,306.0 488.0,305.6 484.0,305.2 480.0,304.9 476.0,304.6 472.0,304.2 Z" fill="#f6f4ef"/>
<path d="M470.0,299.6 474.0,299.6 478.0,299.7 482.0,299.7 486.0,299.8 490.0,299.8 494.0,299.8 498.0,299.9 502.0,299.9 506.0,300.0 510.0,300.0 514.0,300.1 518.0,300.1 522.0,300.2 526.0,300.2 530.0,300.3 534.0,300.3 538.0,300.4 542.0,300.4 546.0,300.5 550.0,300.5 554.0,300.6 558.0,300.6 562.0,300.7 566.0,300.7 570.0,300.8 574.0,300.9 578.0,300.9 582.0,301.0 586.0,301.0 590.0,301.1 594.0,301.2 598.0,301.2 602.0,301.3 606.0,301.4 610.0,301.4 614.0,301.5 618.0,301.6 622.0,301.6 626.0,301.7 630.0,301.8 634.0,301.9 638.0,301.9 642.0,302.0 646.0,302.1 650.0,302.1 654.0,302.2 658.0,302.3 662.0,302.4 666.0,302.4 670.0,302.5 674.0,302.6 678.0,302.7 682.0,302.8 686.0,302.8 690.0,302.9 694.0,303.0 698.0,303.1 702.0,303.2 706.0,303.3 710.0,303.3 714.0,303.4 718.0,303.5 722.0,303.6 726.0,303.7 730.0,303.8 734.0,303.9 738.0,304.0 742.0,304.1 746.0,304.1 750.0,304.2 754.0,304.3 758.0,304.4 762.0,304.5 766.0,304.6 770.0,304.7 774.0,304.8 778.0,304.9 782.0,305.0 786.0,305.1 790.0,305.2 794.0,305.3 798.0,305.4 802.0,305.5 806.0,305.6 810.0,305.7 814.0,305.8 818.0,305.9 822.0,306.0 826.0,306.1 830.0,306.2 834.0,306.3 838.0,306.4 842.0,306.5 846.0,306.7 850.0,306.8 854.0,306.9 858.0,307.0 862.0,307.1 866.0,307.2 870.0,307.3 874.0,307.4 878.0,307.5 882.0,307.6 886.0,307.8 890.0,307.9 894.0,308.0 898.0,308.1 902.0,308.2 906.0,308.3 910.0,308.5 914.0,308.6 918.0,308.7 922.0,308.8 926.0,308.9 930.0,309.0 934.0,309.2 938.0,309.3 942.0,309.4 946.0,309.5 950.0,309.7 954.0,309.8 958.0,309.9 962.0,310.0 966.0,310.2 970.0,310.3 974.0,310.4 978.0,310.5 982.0,310.7 986.0,310.8 990.0,310.9 994.0,311.0 998.0,311.2 1002.0,311.3 1006.0,311.4 1010.0,311.6 1014.0,311.7 1018.0,311.8 1022.0,311.9 1026.0,312.1 1030.0,312.2 1034.0,312.3 1038.0,312.5 1042.0,312.6 1046.0,312.7 1050.0,312.9 1054.0,313.0 1058.0,313.1 1062.0,313.3 1066.0,313.4 1070.0,313.6 1074.0,313.7 1078.0,313.8 1082.0,314.0 1086.0,314.1 1090.0,314.2 1094.0,314.4 1098.0,314.5 1102.0,314.7 1106.0,314.8 1110.0,314.9 1114.0,315.1 1118.0,315.2 1122.0,315.4 1126.0,315.5 1130.0,315.7 1134.0,315.8 1138.0,315.9 1142.0,316.1 1146.0,316.2 1150.0,316.4 1154.0,316.5 1158.0,316.7 1162.0,316.8 1166.0,317.0 1170.0,317.1 1174.0,317.3 1178.0,317.5 1182.0,317.7 1186.0,317.9 1190.0,318.1 1194.0,318.3 1198.0,318.6 1202.0,318.8 1206.0,319.1 1210.0,319.4 1214.0,319.7 1218.0,320.1 1222.0,320.5 1226.0,320.9 1230.0,321.3 1234.0,321.7 1238.0,322.2 1242.0,322.8 1246.0,323.3 1250.0,323.9 1254.0,324.5 1258.0,325.2 1262.0,325.9 1266.0,326.6 1270.0,327.4 1274.0,328.3 1278.0,329.1 1282.0,330.1 1286.0,331.0 1290.0,332.1 1294.0,333.1 1298.0,334.3 1302.0,335.5 1306.0,336.7 1310.0,338.0 1314.0,339.3 1318.0,340.8 1322.0,342.2 1326.0,343.8 1330.0,345.4 1334.0,347.0 1338.0,348.8 1342.0,350.6 1346.0,352.4 1350.0,354.4 1354.0,356.3 1358.0,358.3 1362.0,360.4 1366.0,362.5 1370.0,364.6 1374.0,366.7 1378.0,368.8 1382.0,370.9 1386.0,373.1 1390.0,375.2 1394.0,377.3 1398.0,379.5 1402.0,381.5 1406.0,383.6 1410.0,385.6 1414.0,387.6 1418.0,389.6 1422.0,391.4 1426.0,393.3 1430.0,395.0 1434.0,396.7 1438.0,398.4 1442.0,399.9 1445.0,401.0 L1445.0,772.3 1442.0,772.3 1438.0,772.2 1434.0,772.1 1430.0,771.8 1426.0,771.5 1422.0,771.0 1418.0,770.5 1414.0,769.9 1410.0,769.3 1406.0,768.5 1402.0,767.7 1398.0,766.8 1394.0,765.8 1390.0,764.8 1386.0,763.7 1382.0,762.5 1378.0,761.3 1374.0,760.0 1370.0,758.7 1366.0,757.3 1362.0,755.8 1358.0,754.4 1354.0,752.8 1350.0,751.3 1346.0,749.7 1342.0,748.0 1338.0,746.3 1334.0,744.6 1330.0,742.9 1326.0,741.1 1322.0,739.3 1318.0,737.5 1314.0,735.6 1310.0,733.7 1306.0,731.8 1302.0,729.8 1298.0,727.8 1294.0,725.8 1290.0,723.7 1286.0,721.6 1282.0,719.5 1278.0,717.3 1274.0,715.1 1270.0,712.9 1266.0,710.6 1262.0,708.3 1258.0,705.9 1254.0,703.5 1250.0,701.1 1246.0,698.6 1242.0,696.1 1238.0,693.5 1234.0,691.0 1230.0,688.3 1226.0,685.7 1222.0,683.0 1218.0,680.2 1214.0,677.4 1210.0,674.6 1206.0,671.7 1202.0,668.9 1198.0,665.9 1194.0,663.0 1190.0,660.0 1186.0,657.0 1182.0,653.9 1178.0,650.9 1174.0,647.8 1170.0,644.6 1166.0,641.5 1162.0,638.4 1158.0,635.2 1154.0,632.0 1150.0,628.8 1146.0,625.6 1142.0,622.3 1138.0,619.1 1134.0,615.9 1130.0,612.6 1126.0,609.3 1122.0,606.1 1118.0,602.8 1114.0,599.5 1110.0,596.3 1106.0,593.0 1102.0,589.7 1098.0,586.5 1094.0,583.2 1090.0,580.0 1086.0,576.7 1082.0,573.5 1078.0,570.2 1074.0,567.0 1070.0,563.8 1066.0,560.6 1062.0,557.4 1058.0,554.1 1054.0,551.0 1050.0,547.8 1046.0,544.6 1042.0,541.4 1038.0,538.3 1034.0,535.1 1030.0,532.0 1026.0,528.8 1022.0,525.7 1018.0,522.6 1014.0,519.5 1010.0,516.4 1006.0,513.3 1002.0,510.3 998.0,507.2 994.0,504.2 990.0,501.1 986.0,498.1 982.0,495.1 978.0,492.1 974.0,489.1 970.0,486.2 966.0,483.3 962.0,480.4 958.0,477.5 954.0,474.6 950.0,471.8 946.0,469.0 942.0,466.2 938.0,463.5 934.0,460.8 930.0,458.1 926.0,455.5 922.0,452.9 918.0,450.3 914.0,447.8 910.0,445.3 906.0,442.8 902.0,440.3 898.0,437.9 894.0,435.5 890.0,433.1 886.0,430.7 882.0,428.3 878.0,426.0 874.0,423.7 870.0,421.4 866.0,419.2 862.0,416.9 858.0,414.7 854.0,412.5 850.0,410.3 846.0,408.1 842.0,406.0 838.0,403.8 834.0,401.7 830.0,399.6 826.0,397.6 822.0,395.5 818.0,393.5 814.0,391.4 810.0,389.4 806.0,387.5 802.0,385.5 798.0,383.6 794.0,381.6 790.0,379.7 786.0,377.8 782.0,376.0 778.0,374.1 774.0,372.3 770.0,370.4 766.0,368.6 762.0,366.9 758.0,365.1 754.0,363.3 750.0,361.6 746.0,359.9 742.0,358.2 738.0,356.5 734.0,354.9 730.0,353.2 726.0,351.6 722.0,350.0 718.0,348.4 714.0,346.9 710.0,345.3 706.0,343.8 702.0,342.3 698.0,340.8 694.0,339.4 690.0,338.0 686.0,336.6 682.0,335.2 678.0,333.8 674.0,332.5 670.0,331.1 666.0,329.9 662.0,328.6 658.0,327.3 654.0,326.1 650.0,324.9 646.0,323.8 642.0,322.6 638.0,321.5 634.0,320.4 630.0,319.4 626.0,318.3 622.0,317.3 618.0,316.3 614.0,315.4 610.0,314.4 606.0,313.5 602.0,312.7 598.0,311.8 594.0,311.0 590.0,310.2 586.0,309.5 582.0,308.8 578.0,308.1 574.0,307.4 570.0,306.8 566.0,306.2 562.0,305.6 558.0,305.1 554.0,304.6 550.0,304.1 546.0,303.7 542.0,303.3 538.0,302.9 534.0,302.6 530.0,302.3 526.0,302.0 522.0,301.8 518.0,301.6 514.0,301.4 510.0,301.3 506.0,301.2 502.0,301.1 498.0,301.1 494.0,301.1 490.0,301.1 486.0,301.2 482.0,301.4 478.0,301.5 474.0,301.7 470.0,302.0 Z" fill="#e8dcc2"/>
<filter id="speck" x="0" y="0" width="1445" height="1327" filterUnits="userSpaceOnUse" color-interpolation-filters="sRGB">
<feTurbulence type="fractalNoise" baseFrequency="0.9" numOctaves="2" seed="11"/>
<feColorMatrix type="matrix" values="0 0 0 0 0.5  0 0 0 0 0.45  0 0 0 0 0.37  -7 0 0 0 3.1"/>
</filter>
<g clip-path="url(#bclip)"><rect x="460" y="290" width="990" height="500" filter="url(#speck)" opacity="0.28"/></g>
<g clip-path="url(#bclip)">
<g fill="#c4b79e" opacity="0.55"><line x1="780" y1="290" x2="780" y2="334" stroke="#c4b79e" stroke-width="15"/><circle cx="769.1" cy="292.8" r="14.0"/><circle cx="790.9" cy="292.8" r="14.0"/><circle cx="769.1" cy="331.2" r="14.0"/><circle cx="790.9" cy="331.2" r="14.0"/></g>
<g fill="#c4b79e" opacity="0.62"><line x1="1224" y1="398" x2="1330" y2="408" stroke="#c4b79e" stroke-width="16"/><circle cx="1225.7" cy="408.7" r="13.5"/><circle cx="1227.7" cy="387.8" r="13.5"/><circle cx="1326.3" cy="418.2" r="13.5"/><circle cx="1328.3" cy="397.3" r="13.5"/></g>
<g fill="#c4b79e" opacity="0.62"><line x1="1291" y1="494" x2="1300" y2="536" stroke="#c4b79e" stroke-width="15"/><circle cx="1281.6" cy="498.7" r="13.0"/><circle cx="1301.5" cy="494.4" r="13.0"/><circle cx="1289.5" cy="535.6" r="13.0"/><circle cx="1309.4" cy="531.3" r="13.0"/></g>
<g fill="#c4b79e" opacity="0.55"><line x1="1296" y1="708" x2="1405" y2="695" stroke="#c4b79e" stroke-width="15"/><circle cx="1300.1" cy="718.5" r="14.0"/><circle cx="1297.5" cy="696.8" r="14.0"/><circle cx="1403.5" cy="706.2" r="14.0"/><circle cx="1400.9" cy="684.5" r="14.0"/></g>
<g fill="none" stroke="#979be0" stroke-width="4.2" stroke-linecap="round" stroke-linejoin="round">
<path d="M823,395 C850,380 890,362 916,349 C921,335 921,320 921,300"/>
<path d="M833,401 C860,390 895,376 930,370 C950,372 965,380 985,398 C998,410 995,430 980,446 C968,458 960,468 963,474 C975,480 990,478 1010,470 C1040,460 1075,460 1105,459 C1130,457 1150,450 1162,435 C1168,420 1150,405 1132,401 C1112,395 1098,388 1100,378 C1110,368 1140,362 1160,354 C1165,345 1140,348 1112,347 C1108,340 1112,332 1118,325"/>
<path d="M952,309 C955,318 962,321 972,312"/>
<path d="M1001,309 C1000,322 1005,338 1030,347 C1055,352 1080,345 1100,333 L1118,320"/>
<path d="M1040,423 C1042,432 1058,436 1068,428"/>
<path d="M981,452 L990,460 L1004,451"/>
</g>
<g fill="#979be0">
<ellipse cx="924" cy="345" rx="9" ry="8"/>
<ellipse cx="930" cy="370" rx="14" ry="7"/>
<ellipse cx="996" cy="420" rx="9" ry="11"/>
<ellipse cx="990" cy="326" rx="13" ry="10" transform="rotate(-15 990 326)"/>
<ellipse cx="1063" cy="348" rx="22" ry="8"/>
<ellipse cx="1012" cy="367" rx="19" ry="8"/>
<ellipse cx="1058" cy="391" rx="13" ry="9.5"/>
<ellipse cx="1129" cy="443" rx="15" ry="9"/>
<ellipse cx="994" cy="472" rx="20" ry="9"/>
<circle cx="1121" cy="423" r="1.6"/><circle cx="1138" cy="422" r="1.6"/><circle cx="1143" cy="431" r="1.6"/>
</g>
<g fill="none" stroke-linecap="round" stroke-width="4">
<path d="M1216,330 C1225,322 1250,326 1263,333 C1262,342 1255,352 1262,358 C1275,360 1290,348 1300,342 C1308,338 1315,340 1322,345" stroke="#e08aa8" opacity="0.8"/>
<path d="M1378,372 C1382,384 1394,392 1410,388" stroke="#e08aa8" opacity="0.8"/>
<path d="M1161,637 C1200,620 1250,600 1289,578" stroke="#e0582e" stroke-width="5"/>
<path d="M1179,649 C1210,632 1240,616 1266,600" stroke="#e0582e" stroke-width="4"/>
<path d="M1320,611 C1360,585 1400,560 1450,530" stroke="#f0a55a" stroke-width="4"/>
<path d="M1331,600 C1370,580 1410,560 1450,549" stroke="#f0a55a" stroke-width="4"/>
</g>
<path d="M1030,531 C1036,523 1048,520 1060,528 C1052,535 1045,540 1042,541 C1037,538 1033,535 1030,531 Z" fill="#e0643a"/>
<path d="M1058,529 C1070,527 1080,530 1081,540 C1081,548 1072,555 1066,559" stroke="#e0643a" stroke-width="3.8" fill="none" stroke-linecap="round"/>
<path d="M1051,546 C1056,544 1062,543 1065,545 C1061,549 1057,552 1054,553 Z" fill="#e0643a"/>
</g>
</svg>
<svg width="1445" height="1327" viewBox="0 0 1445 1327" style="position:absolute;left:0;top:0;mix-blend-mode:soft-light;opacity:0.38">
<defs>
<filter id="noise" x="0" y="0" width="1445" height="1327" filterUnits="userSpaceOnUse" color-interpolation-filters="sRGB">
<feTurbulence type="fractalNoise" baseFrequency="0.25" numOctaves="3" seed="7"/>
<feColorMatrix type="matrix" values="0.33 0.33 0.33 0 0  0.33 0.33 0.33 0 0  0.33 0.33 0.33 0 0  0 0 0 0 1"/>
<feComponentTransfer><feFuncR type="linear" slope="3" intercept="-1"/><feFuncG type="linear" slope="3" intercept="-1"/><feFuncB type="linear" slope="3" intercept="-1"/></feComponentTransfer>
</filter>
<linearGradient id="facemask" x1="0" y1="0" x2="1445" y2="0" gradientUnits="userSpaceOnUse"><stop offset="0.25" stop-color="#fff"/><stop offset="0.5" stop-color="#000"/></linearGradient>
<mask id="nmask" maskUnits="userSpaceOnUse" x="0" y="0" width="1445" height="1327">
<path d="M-12.0,431.5 0.0,431.5 4.0,429.4 8.0,427.2 12.0,425.1 16.0,423.0 20.0,420.9 24.0,418.7 28.0,416.6 32.0,414.5 36.0,412.5 40.0,410.4 44.0,408.3 48.0,406.3 52.0,404.2 56.0,402.2 60.0,400.1 64.0,398.1 68.0,396.1 72.0,394.1 76.0,392.1 80.0,390.1 84.0,388.2 88.0,386.2 92.0,384.3 96.0,382.4 100.0,380.5 104.0,378.6 108.0,376.7 112.0,374.9 116.0,373.0 120.0,371.2 124.0,369.4 128.0,367.6 132.0,365.8 136.0,364.0 140.0,362.3 144.0,360.6 148.0,358.9 152.0,357.2 156.0,355.5 160.0,353.9 164.0,352.3 168.0,350.7 172.0,349.1 176.0,347.5 180.0,346.0 184.0,344.5 188.0,343.0 192.0,341.5 196.0,340.1 200.0,338.7 204.0,337.3 208.0,335.9 212.0,334.6 216.0,333.2 220.0,331.9 224.0,330.7 228.0,329.4 232.0,328.2 236.0,327.0 240.0,325.9 244.0,324.8 248.0,323.7 252.0,322.6 256.0,321.6 260.0,320.5 264.0,319.6 268.0,318.6 272.0,317.7 276.0,316.8 280.0,315.9 284.0,315.1 288.0,314.3 292.0,313.5 296.0,312.7 300.0,312.0 304.0,311.3 308.0,310.6 312.0,310.0 316.0,309.4 320.0,308.8 324.0,308.2 328.0,307.6 332.0,307.1 336.0,306.6 340.0,306.2 344.0,305.7 348.0,305.3 352.0,304.9 356.0,304.6 360.0,304.2 364.0,303.9 368.0,303.6 372.0,303.4 376.0,303.1 380.0,302.9 384.0,302.7 388.0,302.6 392.0,302.4 396.0,302.3 400.0,302.2 404.0,302.1 408.0,302.1 412.0,302.0 416.0,302.0 420.0,302.1 424.0,302.1 428.0,302.2 432.0,302.2 436.0,302.3 440.0,302.5 444.0,302.6 448.0,302.8 452.0,303.0 456.0,303.2 460.0,303.4 464.0,303.7 468.0,303.9 472.0,304.2 476.0,304.6 480.0,304.9 484.0,305.2 488.0,305.6 492.0,306.0 496.0,306.4 500.0,306.8 504.0,307.3 508.0,307.8 512.0,308.3 516.0,308.8 520.0,309.3 524.0,309.8 528.0,310.4 532.0,311.0 536.0,311.6 540.0,312.2 544.0,312.8 548.0,313.5 552.0,314.1 556.0,314.8 560.0,315.5 564.0,316.3 568.0,317.0 572.0,317.8 576.0,318.6 580.0,319.4 584.0,320.2 588.0,321.0 592.0,321.9 596.0,322.8 600.0,323.7 604.0,324.6 608.0,325.6 612.0,326.5 616.0,327.5 620.0,328.5 624.0,329.5 628.0,330.6 632.0,331.6 636.0,332.7 640.0,333.8 644.0,335.0 648.0,336.1 652.0,337.3 656.0,338.5 660.0,339.7 664.0,340.9 668.0,342.2 672.0,343.4 676.0,344.7 680.0,346.1 684.0,347.4 688.0,348.8 692.0,350.1 696.0,351.5 700.0,353.0 704.0,354.4 708.0,355.9 712.0,357.4 716.0,358.9 720.0,360.4 724.0,362.0 728.0,363.6 732.0,365.2 736.0,366.8 740.0,368.4 744.0,370.1 748.0,371.8 752.0,373.5 756.0,375.2 760.0,377.0 764.0,378.8 768.0,380.6 772.0,382.4 776.0,384.2 780.0,386.1 784.0,388.0 788.0,389.9 792.0,391.8 796.0,393.7 800.0,395.7 804.0,397.7 808.0,399.7 812.0,401.7 816.0,403.8 820.0,405.9 824.0,408.0 828.0,410.1 832.0,412.2 836.0,414.4 840.0,416.6 844.0,418.8 848.0,421.0 852.0,423.2 856.0,425.5 860.0,427.8 864.0,430.1 868.0,432.4 872.0,434.8 876.0,437.1 880.0,439.5 884.0,441.9 888.0,444.4 892.0,446.8 896.0,449.3 900.0,451.8 904.0,454.3 908.0,456.8 912.0,459.4 916.0,462.0 920.0,464.6 924.0,467.2 928.0,469.8 932.0,472.5 936.0,475.2 940.0,477.9 944.0,480.6 948.0,483.3 952.0,486.1 956.0,488.9 960.0,491.7 964.0,494.5 968.0,497.3 972.0,500.2 976.0,503.0 980.0,505.9 984.0,508.9 988.0,511.8 992.0,514.8 996.0,517.7 1000.0,520.7 1004.0,523.7 1008.0,526.8 1012.0,529.8 1016.0,532.9 1020.0,536.0 1024.0,539.1 1028.0,542.2 1032.0,545.3 1036.0,548.4 1040.0,551.6 1044.0,554.7 1048.0,557.9 1052.0,561.1 1056.0,564.2 1060.0,567.4 1064.0,570.6 1068.0,573.8 1072.0,577.0 1076.0,580.2 1080.0,583.4 1084.0,586.6 1088.0,589.8 1092.0,593.0 1096.0,596.2 1100.0,599.4 1104.0,602.6 1108.0,605.8 1112.0,609.0 1116.0,612.2 1120.0,615.4 1124.0,618.6 1128.0,621.7 1132.0,624.9 1136.0,628.0 1140.0,631.2 1144.0,634.3 1148.0,637.4 1152.0,640.5 1156.0,643.6 1160.0,646.7 1164.0,649.7 1168.0,652.8 1172.0,655.8 1176.0,658.8 1180.0,661.8 1184.0,664.8 1188.0,667.7 1192.0,670.6 1196.0,673.5 1200.0,676.4 1204.0,679.3 1208.0,682.1 1212.0,684.9 1216.0,687.7 1220.0,690.5 1224.0,693.2 1228.0,695.9 1232.0,698.6 1236.0,701.2 1240.0,703.9 1244.0,706.4 1248.0,709.0 1252.0,711.5 1256.0,714.0 1260.0,716.5 1264.0,718.9 1268.0,721.3 1272.0,723.6 1276.0,725.9 1280.0,728.2 1284.0,730.4 1288.0,732.6 1292.0,734.8 1296.0,736.9 1300.0,738.9 1304.0,741.0 1308.0,742.9 1312.0,744.9 1316.0,746.8 1320.0,748.6 1324.0,750.4 1328.0,752.2 1332.0,753.9 1336.0,755.5 1340.0,757.1 1344.0,758.7 1348.0,760.2 1352.0,761.7 1356.0,763.1 1360.0,764.4 1364.0,765.7 1368.0,767.0 1372.0,768.2 1376.0,769.3 1380.0,770.4 1384.0,771.4 1388.0,772.4 1392.0,773.3 1396.0,774.2 1400.0,775.0 1404.0,775.7 1408.0,776.4 1412.0,777.0 1416.0,777.6 1420.0,778.1 1424.0,778.5 1428.0,778.9 1432.0,779.2 1436.0,779.5 1440.0,779.6 1444.0,779.8 1445.0,779.8 1457.0,779.8 L1457,1340 L1445,1340 L1445.0,1320.0 1444.0,1319.7 1440.0,1318.5 1436.0,1317.3 1432.0,1316.1 1428.0,1315.0 1424.0,1313.8 1420.0,1312.6 1416.0,1311.5 1412.0,1310.3 1408.0,1309.1 1404.0,1307.9 1400.0,1306.8 1396.0,1305.6 1392.0,1304.4 1388.0,1303.2 1384.0,1302.0 1380.0,1300.9 1376.0,1299.7 1372.0,1298.5 1368.0,1297.3 1364.0,1296.1 1360.0,1294.8 1356.0,1293.6 1352.0,1292.4 1348.0,1291.2 1344.0,1289.9 1340.0,1288.7 1336.0,1287.5 1332.0,1286.2 1328.0,1284.9 1324.0,1283.7 1320.0,1282.4 1316.0,1281.1 1312.0,1279.8 1308.0,1278.5 1304.0,1277.1 1300.0,1275.8 1296.0,1274.4 1292.0,1273.1 1288.0,1271.7 1284.0,1270.3 1280.0,1268.9 1276.0,1267.5 1272.0,1266.1 1268.0,1264.7 1264.0,1263.2 1260.0,1261.7 1256.0,1260.2 1252.0,1258.7 1248.0,1257.2 1244.0,1255.7 1240.0,1254.1 1236.0,1252.6 1232.0,1251.0 1228.0,1249.4 1224.0,1247.8 1220.0,1246.1 1216.0,1244.5 1212.0,1242.8 1208.0,1241.1 1204.0,1239.4 1200.0,1237.6 1196.0,1235.9 1192.0,1234.1 1188.0,1232.3 1184.0,1230.4 1180.0,1228.6 1176.0,1226.7 1172.0,1224.8 1168.0,1222.9 1164.0,1220.9 1160.0,1219.0 1156.0,1217.0 1152.0,1214.9 1148.0,1212.9 1144.0,1210.8 1140.0,1208.7 1136.0,1206.6 1132.0,1204.4 1128.0,1202.2 1124.0,1200.0 1120.0,1197.8 1116.0,1195.5 1112.0,1193.2 1108.0,1190.9 1104.0,1188.5 1100.0,1186.1 1096.0,1183.7 1092.0,1181.3 1088.0,1178.8 1084.0,1176.2 1080.0,1173.7 1076.0,1171.1 1072.0,1168.5 1068.0,1165.9 1064.0,1163.2 1060.0,1160.5 1056.0,1157.8 1052.0,1155.1 1048.0,1152.4 1044.0,1149.7 1040.0,1147.0 1036.0,1144.3 1032.0,1141.6 1028.0,1139.0 1024.0,1136.3 1020.0,1133.6 1016.0,1131.0 1012.0,1128.4 1008.0,1125.8 1004.0,1123.2 1000.0,1120.6 996.0,1118.1 992.0,1115.5 988.0,1112.9 984.0,1110.3 980.0,1107.8 976.0,1105.2 972.0,1102.6 968.0,1100.0 964.0,1097.4 960.0,1094.8 956.0,1092.2 952.0,1089.5 948.0,1086.9 944.0,1084.2 940.0,1081.5 936.0,1078.9 932.0,1076.1 928.0,1073.4 924.0,1070.7 920.0,1068.0 916.0,1065.2 912.0,1062.4 908.0,1059.6 904.0,1056.8 900.0,1054.0 896.0,1051.2 892.0,1048.4 888.0,1045.5 884.0,1042.6 880.0,1039.7 876.0,1036.8 872.0,1033.9 868.0,1031.0 864.0,1028.0 860.0,1025.0 856.0,1022.0 852.0,1019.0 848.0,1016.0 844.0,1013.0 840.0,1009.9 836.0,1006.8 832.0,1003.7 828.0,1000.6 824.0,997.5 820.0,994.4 816.0,991.2 812.0,988.0 808.0,984.8 804.0,981.6 800.0,978.4 796.0,975.2 792.0,972.0 788.0,968.7 784.0,965.5 780.0,962.2 776.0,959.0 772.0,955.7 768.0,952.5 764.0,949.3 760.0,946.0 756.0,942.8 752.0,939.6 748.0,936.4 744.0,933.2 740.0,930.0 736.0,926.8 732.0,923.6 728.0,920.5 724.0,917.4 720.0,914.3 716.0,911.2 712.0,908.1 708.0,905.1 704.0,902.1 700.0,899.1 696.0,896.1 692.0,893.2 688.0,890.3 684.0,887.4 680.0,884.5 676.0,881.7 672.0,878.9 668.0,876.1 664.0,873.3 660.0,870.6 656.0,867.8 652.0,865.1 648.0,862.5 644.0,859.8 640.0,857.2 636.0,854.6 632.0,852.1 628.0,849.5 624.0,847.0 620.0,844.6 616.0,842.1 612.0,839.7 608.0,837.3 604.0,834.9 L0,989.5 L-12,992 Z" fill="#fff"/>
<path d="M-12.0,815.1 0.0,815.1 4.0,812.7 8.0,810.3 12.0,808.0 16.0,805.6 20.0,803.4 24.0,801.1 28.0,798.9 32.0,796.8 36.0,794.6 40.0,792.6 44.0,790.5 48.0,788.5 52.0,786.5 56.0,784.5 60.0,782.6 64.0,780.7 68.0,778.8 72.0,777.0 76.0,775.2 80.0,773.5 84.0,771.7 88.0,770.0 92.0,768.4 96.0,766.8 100.0,765.2 104.0,763.6 108.0,762.1 112.0,760.6 116.0,759.1 120.0,757.7 124.0,756.3 128.0,755.0 132.0,753.6 136.0,752.3 140.0,751.1 144.0,749.8 148.0,748.6 152.0,747.5 156.0,746.4 160.0,745.3 164.0,744.2 168.0,743.2 172.0,742.1 176.0,741.2 180.0,740.2 184.0,739.3 188.0,738.5 192.0,737.6 196.0,736.8 200.0,736.0 204.0,735.3 208.0,734.6 212.0,733.9 216.0,733.2 220.0,732.6 224.0,732.0 228.0,731.4 232.0,730.9 236.0,730.4 240.0,729.9 244.0,729.5 248.0,729.1 252.0,728.7 256.0,728.4 260.0,728.1 264.0,727.8 268.0,727.5 272.0,727.3 276.0,727.1 280.0,726.9 284.0,726.8 288.0,726.7 292.0,726.6 296.0,726.6 300.0,726.6 304.0,726.6 308.0,726.6 312.0,726.7 316.0,726.8 320.0,727.0 324.0,727.1 328.0,727.3 332.0,727.5 336.0,727.8 340.0,728.1 344.0,728.4 348.0,728.8 352.0,729.1 356.0,729.5 360.0,730.0 364.0,730.4 368.0,730.9 372.0,731.4 376.0,732.0 380.0,732.6 384.0,733.2 388.0,733.8 392.0,734.5 396.0,735.2 400.0,735.9 404.0,736.7 408.0,737.5 412.0,738.3 416.0,739.1 420.0,740.0 424.0,740.9 428.0,741.8 432.0,742.8 436.0,743.8 440.0,744.8 444.0,745.8 448.0,746.9 452.0,748.0 456.0,749.1 460.0,750.3 464.0,751.5 468.0,752.7 472.0,754.0 476.0,755.2 480.0,756.5 484.0,757.9 488.0,759.2 492.0,760.6 496.0,762.0 500.0,763.5 504.0,764.9 508.0,766.5 512.0,768.0 516.0,769.5 520.0,771.1 524.0,772.7 528.0,774.4 532.0,776.1 536.0,777.8 540.0,779.5 544.0,781.3 548.0,783.1 552.0,784.9 556.0,786.8 560.0,788.7 564.0,790.7 568.0,792.6 572.0,794.6 576.0,796.7 580.0,798.8 584.0,800.9 588.0,803.0 592.0,805.2 596.0,807.5 600.0,809.7 604.0,812.0 608.0,814.4 612.0,816.8 616.0,819.2 620.0,821.6 624.0,824.1 628.0,826.7 632.0,829.3 636.0,831.9 640.0,834.6 644.0,837.3 648.0,840.0 652.0,842.8 656.0,845.7 660.0,848.6 664.0,851.5 668.0,854.5 672.0,857.5 676.0,860.5 680.0,863.6 684.0,866.7 688.0,869.9 692.0,873.0 696.0,876.2 700.0,879.4 704.0,882.6 708.0,885.8 712.0,889.0 716.0,892.2 720.0,895.4 724.0,898.5 728.0,901.7 732.0,904.9 736.0,908.0 740.0,911.2 744.0,914.3 748.0,917.4 752.0,920.5 756.0,923.6 760.0,926.6 764.0,929.7 768.0,932.7 772.0,935.8 776.0,938.8 780.0,941.8 784.0,944.8 788.0,947.7 792.0,950.7 796.0,953.6 800.0,956.6 804.0,959.5 808.0,962.4 812.0,965.3 816.0,968.2 820.0,971.1 824.0,974.0 828.0,976.8 832.0,979.7 836.0,982.6 840.0,985.5 844.0,988.4 848.0,991.3 852.0,994.2 856.0,997.1 860.0,1000.0 864.0,1002.9 868.0,1005.8 872.0,1008.8 876.0,1011.7 880.0,1014.7 884.0,1017.7 888.0,1020.7 892.0,1023.7 896.0,1026.7 900.0,1029.7 904.0,1032.8 908.0,1035.8 912.0,1038.8 916.0,1041.8 920.0,1044.9 924.0,1047.8 928.0,1050.8 932.0,1053.8 936.0,1056.7 940.0,1059.6 944.0,1062.5 948.0,1065.3 952.0,1068.1 956.0,1070.9 960.0,1073.7 964.0,1076.5 968.0,1079.3 972.0,1082.0 976.0,1084.8 980.0,1087.5 984.0,1090.2 988.0,1092.9 992.0,1095.6 996.0,1098.4 1000.0,1101.1 1004.0,1103.8 1008.0,1106.5 1012.0,1109.2 1016.0,1111.9 1020.0,1114.6 1024.0,1117.4 1028.0,1120.1 1032.0,1122.9 1036.0,1125.6 1040.0,1128.4 1044.0,1131.1 1048.0,1133.9 1052.0,1136.7 1056.0,1139.4 1060.0,1142.1 1064.0,1144.9 1068.0,1147.6 1072.0,1150.3 1076.0,1152.9 1080.0,1155.6 1084.0,1158.2 1088.0,1160.8 1092.0,1163.3 1096.0,1165.8 1100.0,1168.3 1104.0,1170.7 1108.0,1173.1 1112.0,1175.4 1116.0,1177.7 1120.0,1179.9 1124.0,1182.1 1128.0,1184.2 1132.0,1186.3 1136.0,1188.3 1140.0,1190.3 1144.0,1192.3 1148.0,1194.2 1152.0,1196.1 1156.0,1197.9 1160.0,1199.8 1164.0,1201.5 1168.0,1203.3 1172.0,1205.0 1176.0,1206.7 1180.0,1208.4 1184.0,1210.1 1188.0,1211.7 1192.0,1213.3 1196.0,1214.9 1200.0,1216.5 1204.0,1218.1 1208.0,1219.6 1212.0,1221.2 1216.0,1222.7 1220.0,1224.2 1224.0,1225.7 1228.0,1227.3 1232.0,1228.8 1236.0,1230.3 1240.0,1231.8 1244.0,1233.3 1248.0,1234.9 1252.0,1236.4 1256.0,1237.9 1260.0,1239.4 1264.0,1240.9 1268.0,1242.4 1272.0,1243.9 1276.0,1245.4 1280.0,1246.9 1284.0,1248.4 1288.0,1249.9 1292.0,1251.4 1296.0,1252.9 1300.0,1254.3 1304.0,1255.8 1308.0,1257.3 1312.0,1258.7 1316.0,1260.1 1320.0,1261.5 1324.0,1263.0 1328.0,1264.4 1332.0,1265.7 1336.0,1267.1 1340.0,1268.5 1344.0,1269.8 1348.0,1271.1 1352.0,1272.5 1356.0,1273.8 1360.0,1275.0 1364.0,1276.3 1368.0,1277.6 1372.0,1278.8 1376.0,1280.0 1380.0,1281.2 1384.0,1282.4 1388.0,1283.5 1392.0,1284.7 1396.0,1285.8 1400.0,1286.9 1404.0,1288.0 1408.0,1289.0 1412.0,1290.0 1416.0,1291.0 1420.0,1292.0 1424.0,1292.9 1428.0,1293.9 1432.0,1294.8 1436.0,1295.6 1440.0,1296.5 1444.0,1297.3 1445.0,1297.5 1457.0,1297.5 L1457.0,1320.0 1445.0,1320.0 1444.0,1319.7 1440.0,1318.5 1436.0,1317.3 1432.0,1316.1 1428.0,1315.0 1424.0,1313.8 1420.0,1312.6 1416.0,1311.5 1412.0,1310.3 1408.0,1309.1 1404.0,1307.9 1400.0,1306.8 1396.0,1305.6 1392.0,1304.4 1388.0,1303.2 1384.0,1302.0 1380.0,1300.9 1376.0,1299.7 1372.0,1298.5 1368.0,1297.3 1364.0,1296.1 1360.0,1294.8 1356.0,1293.6 1352.0,1292.4 1348.0,1291.2 1344.0,1289.9 1340.0,1288.7 1336.0,1287.5 1332.0,1286.2 1328.0,1284.9 1324.0,1283.7 1320.0,1282.4 1316.0,1281.1 1312.0,1279.8 1308.0,1278.5 1304.0,1277.1 1300.0,1275.8 1296.0,1274.4 1292.0,1273.1 1288.0,1271.7 1284.0,1270.3 1280.0,1268.9 1276.0,1267.5 1272.0,1266.1 1268.0,1264.7 1264.0,1263.2 1260.0,1261.7 1256.0,1260.2 1252.0,1258.7 1248.0,1257.2 1244.0,1255.7 1240.0,1254.1 1236.0,1252.6 1232.0,1251.0 1228.0,1249.4 1224.0,1247.8 1220.0,1246.1 1216.0,1244.5 1212.0,1242.8 1208.0,1241.1 1204.0,1239.4 1200.0,1237.6 1196.0,1235.9 1192.0,1234.1 1188.0,1232.3 1184.0,1230.4 1180.0,1228.6 1176.0,1226.7 1172.0,1224.8 1168.0,1222.9 1164.0,1220.9 1160.0,1219.0 1156.0,1217.0 1152.0,1214.9 1148.0,1212.9 1144.0,1210.8 1140.0,1208.7 1136.0,1206.6 1132.0,1204.4 1128.0,1202.2 1124.0,1200.0 1120.0,1197.8 1116.0,1195.5 1112.0,1193.2 1108.0,1190.9 1104.0,1188.5 1100.0,1186.1 1096.0,1183.7 1092.0,1181.3 1088.0,1178.8 1084.0,1176.2 1080.0,1173.7 1076.0,1171.1 1072.0,1168.5 1068.0,1165.9 1064.0,1163.2 1060.0,1160.5 1056.0,1157.8 1052.0,1155.1 1048.0,1152.4 1044.0,1149.7 1040.0,1147.0 1036.0,1144.3 1032.0,1141.6 1028.0,1139.0 1024.0,1136.3 1020.0,1133.6 1016.0,1131.0 1012.0,1128.4 1008.0,1125.8 1004.0,1123.2 1000.0,1120.6 996.0,1118.1 992.0,1115.5 988.0,1112.9 984.0,1110.3 980.0,1107.8 976.0,1105.2 972.0,1102.6 968.0,1100.0 964.0,1097.4 960.0,1094.8 956.0,1092.2 952.0,1089.5 948.0,1086.9 944.0,1084.2 940.0,1081.5 936.0,1078.9 932.0,1076.1 928.0,1073.4 924.0,1070.7 920.0,1068.0 916.0,1065.2 912.0,1062.4 908.0,1059.6 904.0,1056.8 900.0,1054.0 896.0,1051.2 892.0,1048.4 888.0,1045.5 884.0,1042.6 880.0,1039.7 876.0,1036.8 872.0,1033.9 868.0,1031.0 864.0,1028.0 860.0,1025.0 856.0,1022.0 852.0,1019.0 848.0,1016.0 844.0,1013.0 840.0,1009.9 836.0,1006.8 832.0,1003.7 828.0,1000.6 824.0,997.5 820.0,994.4 816.0,991.2 812.0,988.0 808.0,984.8 804.0,981.6 800.0,978.4 796.0,975.2 792.0,972.0 788.0,968.7 784.0,965.5 780.0,962.2 776.0,959.0 772.0,955.7 768.0,952.5 764.0,949.3 760.0,946.0 756.0,942.8 752.0,939.6 748.0,936.4 744.0,933.2 740.0,930.0 736.0,926.8 732.0,923.6 728.0,920.5 724.0,917.4 720.0,914.3 716.0,911.2 712.0,908.1 708.0,905.1 704.0,902.1 700.0,899.1 696.0,896.1 692.0,893.2 688.0,890.3 684.0,887.4 680.0,884.5 676.0,881.7 672.0,878.9 668.0,876.1 664.0,873.3 660.0,870.6 656.0,867.8 652.0,865.1 648.0,862.5 644.0,859.8 640.0,857.2 636.0,854.6 632.0,852.1 628.0,849.5 624.0,847.0 620.0,844.6 616.0,842.1 612.0,839.7 608.0,837.3 604.0,834.9 600.0,832.6 596.0,830.3 592.0,828.0 588.0,825.8 584.0,823.6 580.0,821.4 576.0,819.2 572.0,817.1 568.0,815.0 564.0,813.0 560.0,810.9 556.0,809.0 552.0,807.0 548.0,805.1 544.0,803.2 540.0,801.3 536.0,799.5 532.0,797.7 528.0,795.9 524.0,794.1 520.0,792.4 516.0,790.8 512.0,789.1 508.0,787.5 504.0,785.9 500.0,784.4 496.0,782.9 492.0,781.4 488.0,779.9 484.0,778.5 480.0,777.1 476.0,775.8 472.0,774.4 468.0,773.1 464.0,771.9 460.0,770.6 456.0,769.4 452.0,768.3 448.0,767.1 444.0,766.0 440.0,764.9 436.0,763.9 432.0,762.9 428.0,761.9 424.0,760.9 420.0,760.0 416.0,759.1 412.0,758.2 408.0,757.4 404.0,756.6 400.0,755.8 396.0,755.1 392.0,754.4 388.0,753.7 384.0,753.0 380.0,752.4 376.0,751.8 372.0,751.2 368.0,750.7 364.0,750.2 360.0,749.7 356.0,749.3 352.0,748.8 348.0,748.5 344.0,748.1 340.0,747.8 336.0,747.5 332.0,747.2 328.0,746.9 324.0,746.7 320.0,746.5 316.0,746.4 312.0,746.2 308.0,746.1 304.0,746.1 300.0,746.0 296.0,746.0 292.0,746.0 288.0,746.1 284.0,746.1 280.0,746.2 276.0,746.3 272.0,746.5 268.0,746.7 264.0,746.9 260.0,747.1 256.0,747.4 252.0,747.7 248.0,748.0 244.0,748.4 240.0,748.7 236.0,749.2 232.0,749.6 228.0,750.1 224.0,750.6 220.0,751.1 216.0,751.7 212.0,752.3 208.0,752.9 204.0,753.6 200.0,754.3 196.0,755.1 192.0,755.8 188.0,756.6 184.0,757.5 180.0,758.4 176.0,759.3 172.0,760.2 168.0,761.2 164.0,762.2 160.0,763.3 156.0,764.4 152.0,765.5 148.0,766.7 144.0,767.9 140.0,769.2 136.0,770.5 132.0,771.8 128.0,773.2 124.0,774.6 120.0,776.0 116.0,777.5 112.0,779.1 108.0,780.6 104.0,782.2 100.0,783.9 96.0,785.6 92.0,787.4 88.0,789.1 84.0,791.0 80.0,792.9 76.0,794.8 72.0,796.7 68.0,798.8 64.0,800.8 60.0,802.9 56.0,805.1 52.0,807.3 48.0,809.5 44.0,811.8 40.0,814.1 36.0,816.5 32.0,818.9 28.0,821.4 24.0,823.9 20.0,826.5 16.0,829.2 12.0,831.8 8.0,834.6 4.0,837.3 0.0,840.2 -12.0,840.2 Z" fill="#000"/>
<path d="M-12.0,535.0 0.0,535.0 4.0,532.5 8.0,529.9 12.0,527.5 16.0,525.0 20.0,522.6 24.0,520.2 28.0,517.9 32.0,515.6 36.0,513.3 40.0,511.0 44.0,508.8 48.0,506.6 52.0,504.5 56.0,502.3 60.0,500.2 64.0,498.2 68.0,496.1 72.0,494.1 76.0,492.1 80.0,490.2 84.0,488.3 88.0,486.4 92.0,484.5 96.0,482.7 100.0,480.9 104.0,479.1 108.0,477.4 112.0,475.7 116.0,474.0 120.0,472.4 124.0,470.7 128.0,469.1 132.0,467.6 136.0,466.0 140.0,464.5 144.0,463.0 148.0,461.6 152.0,460.2 156.0,458.8 160.0,457.4 164.0,456.1 168.0,454.8 172.0,453.5 176.0,452.2 180.0,451.0 184.0,449.8 188.0,448.6 192.0,447.5 196.0,446.3 200.0,445.2 204.0,444.2 208.0,443.1 212.0,442.1 216.0,441.1 220.0,440.2 224.0,439.2 228.0,438.3 232.0,437.5 236.0,436.6 240.0,435.8 244.0,435.0 248.0,434.2 252.0,433.4 256.0,432.7 260.0,432.0 264.0,431.3 268.0,430.7 272.0,430.1 276.0,429.5 280.0,428.9 284.0,428.3 288.0,427.8 292.0,427.3 296.0,426.8 300.0,426.4 304.0,426.0 308.0,425.6 312.0,425.2 316.0,424.8 320.0,424.5 324.0,424.2 328.0,423.9 332.0,423.7 336.0,423.5 340.0,423.3 344.0,423.1 348.0,422.9 352.0,422.8 356.0,422.7 360.0,422.6 364.0,422.6 368.0,422.6 372.0,422.6 376.0,422.6 380.0,422.6 384.0,422.7 388.0,422.8 392.0,422.9 396.0,423.1 400.0,423.2 404.0,423.4 408.0,423.6 412.0,423.9 416.0,424.2 420.0,424.5 424.0,424.8 428.0,425.1 432.0,425.5 436.0,425.9 440.0,426.3 444.0,426.7 448.0,427.2 452.0,427.7 456.0,428.2 460.0,428.7 464.0,429.3 468.0,429.9 472.0,430.5 476.0,431.1 480.0,431.8 484.0,432.4 488.0,433.1 492.0,433.9 496.0,434.6 500.0,435.4 504.0,436.2 508.0,437.0 512.0,437.9 516.0,438.8 520.0,439.6 524.0,440.6 528.0,441.5 532.0,442.5 536.0,443.5 540.0,444.5 544.0,445.5 548.0,446.6 552.0,447.7 556.0,448.8 560.0,449.9 564.0,451.1 568.0,452.3 572.0,453.5 576.0,454.7 580.0,456.0 584.0,457.2 588.0,458.5 592.0,459.9 596.0,461.2 600.0,462.6 604.0,464.0 608.0,465.4 612.0,466.8 616.0,468.3 620.0,469.8 624.0,471.3 628.0,472.9 632.0,474.4 636.0,476.0 640.0,477.6 644.0,479.2 648.0,480.9 652.0,482.6 656.0,484.3 660.0,486.0 664.0,487.7 668.0,489.5 672.0,491.3 676.0,493.1 680.0,495.0 684.0,496.8 688.0,498.7 692.0,500.7 696.0,502.6 700.0,504.6 704.0,506.6 708.0,508.6 712.0,510.7 716.0,512.8 720.0,514.9 724.0,517.1 728.0,519.3 732.0,521.5 736.0,523.7 740.0,526.0 744.0,528.3 748.0,530.6 752.0,533.0 756.0,535.4 760.0,537.8 764.0,540.3 768.0,542.8 772.0,545.3 776.0,547.9 780.0,550.5 784.0,553.1 788.0,555.8 792.0,558.5 796.0,561.2 800.0,564.0 804.0,566.8 808.0,569.6 812.0,572.5 816.0,575.3 820.0,578.3 824.0,581.2 828.0,584.2 832.0,587.2 836.0,590.2 840.0,593.2 844.0,596.3 848.0,599.4 852.0,602.5 856.0,605.6 860.0,608.7 864.0,611.9 868.0,615.1 872.0,618.3 876.0,621.5 880.0,624.7 884.0,628.0 888.0,631.2 892.0,634.5 896.0,637.8 900.0,641.1 904.0,644.4 908.0,647.7 912.0,651.1 916.0,654.4 920.0,657.7 924.0,661.1 928.0,664.5 932.0,667.8 936.0,671.2 940.0,674.6 944.0,677.9 948.0,681.3 952.0,684.7 956.0,688.1 960.0,691.5 964.0,694.9 968.0,698.2 972.0,701.6 976.0,705.0 980.0,708.4 984.0,711.7 988.0,715.1 992.0,718.4 996.0,721.8 1000.0,725.1 1004.0,728.4 1008.0,731.8 1012.0,735.1 1016.0,738.4 1020.0,741.7 1024.0,744.9 1028.0,748.2 1032.0,751.4 1036.0,754.7 1040.0,757.9 1044.0,761.1 1048.0,764.3 1052.0,767.4 1056.0,770.6 1060.0,773.7 1064.0,776.8 1068.0,779.9 1072.0,783.0 1076.0,786.0 1080.0,789.0 1084.0,792.0 1088.0,795.0 1092.0,797.9 1096.0,800.8 1100.0,803.7 1104.0,806.6 1108.0,809.4 1112.0,812.2 1116.0,815.0 1120.0,817.7 1124.0,820.5 1128.0,823.2 1132.0,825.8 1136.0,828.5 1140.0,831.1 1144.0,833.7 1148.0,836.2 1152.0,838.7 1156.0,841.2 1160.0,843.7 1164.0,846.1 1168.0,848.5 1172.0,850.9 1176.0,853.2 1180.0,855.5 1184.0,857.8 1188.0,860.1 1192.0,862.3 1196.0,864.4 1200.0,866.6 1204.0,868.7 1208.0,870.8 1212.0,872.8 1216.0,874.8 1220.0,876.8 1224.0,878.7 1228.0,880.6 1232.0,882.5 1236.0,884.3 1240.0,886.1 1244.0,887.9 1248.0,889.6 1252.0,891.3 1256.0,892.9 1260.0,894.6 1264.0,896.1 1268.0,897.7 1272.0,899.2 1276.0,900.6 1280.0,902.0 1284.0,903.4 1288.0,904.8 1292.0,906.1 1296.0,907.3 1300.0,908.5 1304.0,909.7 1308.0,910.9 1312.0,911.9 1316.0,913.0 1320.0,914.0 1324.0,915.0 1328.0,915.9 1332.0,916.8 1336.0,917.6 1340.0,918.4 1344.0,919.2 1348.0,919.9 1352.0,920.6 1356.0,921.2 1360.0,921.8 1364.0,922.3 1368.0,922.8 1372.0,923.3 1376.0,923.7 1380.0,924.0 1384.0,924.3 1388.0,924.6 1392.0,924.8 1396.0,925.0 1400.0,925.1 1404.0,925.1 1408.0,925.2 1412.0,925.1 1416.0,925.1 1420.0,924.9 1424.0,924.8 1428.0,924.5 1432.0,924.3 1436.0,924.0 1440.0,923.6 1444.0,923.2 1445.0,923.0 1457.0,923.0 L1457.0,923.0 1445.0,923.0 1444.0,923.2 1440.0,923.6 1436.0,924.0 1432.0,924.3 1428.0,924.5 1424.0,924.8 1420.0,924.9 1416.0,925.1 1412.0,925.1 1408.0,925.2 1404.0,925.1 1400.0,925.1 1396.0,925.0 1392.0,924.8 1388.0,924.6 1384.0,924.3 1380.0,924.0 1376.0,923.7 1372.0,923.3 1368.0,922.8 1364.0,922.3 1360.0,921.8 1356.0,921.2 1352.0,920.6 1348.0,919.9 1344.0,919.2 1340.0,918.4 1336.0,917.6 1332.0,916.8 1328.0,915.9 1324.0,915.0 1320.0,914.0 1316.0,913.0 1312.0,911.9 1308.0,910.9 1304.0,909.7 1300.0,908.5 1296.0,907.3 1292.0,906.1 1288.0,904.8 1284.0,903.4 1280.0,902.0 1276.0,900.6 1272.0,899.2 1268.0,897.7 1264.0,896.1 1260.0,894.6 1256.0,892.9 1252.0,891.3 1248.0,889.6 1244.0,887.9 1240.0,886.1 1236.0,884.3 1232.0,882.5 1228.0,880.6 1224.0,878.7 1220.0,876.8 1216.0,874.8 1212.0,872.8 1208.0,870.8 1204.0,868.7 1200.0,866.6 1196.0,864.4 1192.0,862.3 1188.0,860.1 1184.0,857.8 1180.0,855.5 1176.0,853.2 1172.0,850.9 1168.0,848.5 1164.0,846.1 1160.0,843.7 1156.0,841.2 1152.0,838.7 1148.0,836.2 1144.0,833.7 1140.0,831.1 1136.0,828.5 1132.0,825.8 1128.0,823.2 1124.0,820.5 1120.0,817.7 1116.0,815.0 1112.0,812.2 1108.0,809.4 1104.0,806.6 1100.0,803.7 1096.0,800.8 1092.0,797.9 1088.0,795.0 1084.0,792.0 1080.0,789.0 1076.0,786.0 1072.0,783.0 1068.0,779.9 1064.0,776.8 1060.0,773.7 1056.0,770.6 1052.0,767.4 1048.0,764.3 1044.0,761.1 1040.0,757.9 1036.0,754.7 1032.0,751.4 1028.0,748.2 1024.0,744.9 1020.0,741.7 1016.0,738.4 1012.0,735.1 1008.0,731.8 1004.0,728.4 1000.0,725.1 996.0,721.8 992.0,718.4 988.0,715.1 984.0,711.7 980.0,708.4 976.0,705.0 972.0,701.6 968.0,698.2 964.0,694.9 960.0,691.5 956.0,688.1 952.0,684.7 948.0,681.3 944.0,677.9 940.0,674.6 936.0,671.2 932.0,667.8 928.0,664.5 924.0,661.1 920.0,657.7 916.0,654.4 912.0,651.1 908.0,647.7 904.0,644.4 900.0,641.1 896.0,637.8 892.0,634.5 888.0,631.2 884.0,628.0 880.0,624.7 876.0,621.5 872.0,618.3 868.0,615.1 864.0,611.9 860.0,608.7 856.0,605.6 852.0,602.5 850.0,602.0 848.0,600.3 844.0,596.9 840.0,593.5 836.0,590.3 832.0,587.1 828.0,584.1 824.0,581.1 820.0,578.1 816.0,575.3 812.0,572.5 808.0,569.8 804.0,567.2 800.0,564.6 796.0,562.2 792.0,559.7 788.0,557.4 784.0,555.1 780.0,552.9 776.0,550.8 772.0,548.7 768.0,546.7 764.0,544.8 760.0,542.9 756.0,541.1 752.0,539.4 748.0,537.7 744.0,536.1 740.0,534.5 736.0,533.0 732.0,531.6 728.0,530.2 724.0,528.9 720.0,527.6 716.0,526.4 712.0,525.2 708.0,524.1 704.0,523.0 700.0,522.0 696.0,521.1 692.0,520.2 688.0,519.3 684.0,518.5 680.0,517.7 676.0,517.0 672.0,516.3 668.0,515.7 664.0,515.1 660.0,514.6 656.0,514.1 652.0,513.6 648.0,513.2 644.0,512.8 640.0,512.4 636.0,512.1 632.0,511.9 628.0,511.6 624.0,511.4 620.0,511.2 616.0,511.1 612.0,511.0 608.0,510.9 604.0,510.9 600.0,510.9 596.0,510.9 592.0,510.9 588.0,511.0 584.0,511.1 580.0,511.2 576.0,511.3 572.0,511.5 568.0,511.7 564.0,511.9 560.0,512.1 556.0,512.3 552.0,512.6 548.0,512.9 544.0,513.2 540.0,513.5 536.0,513.8 532.0,514.2 528.0,514.5 524.0,514.9 520.0,515.3 516.0,515.7 512.0,516.1 508.0,516.5 504.0,516.9 500.0,517.3 496.0,517.8 492.0,518.2 488.0,518.6 484.0,519.1 480.0,519.5 476.0,520.0 472.0,520.4 468.0,520.9 464.0,521.3 460.0,521.8 456.0,522.2 452.0,522.7 448.0,523.1 444.0,523.5 440.0,523.9 436.0,524.4 432.0,524.8 428.0,525.2 424.0,525.6 420.0,525.9 416.0,526.3 412.0,526.7 408.0,527.0 404.0,527.3 400.0,527.7 396.0,528.0 392.0,528.3 388.0,528.5 384.0,528.8 380.0,529.0 376.0,529.3 372.0,529.5 368.0,529.8 364.0,530.0 360.0,530.2 356.0,530.4 352.0,530.7 348.0,530.9 344.0,531.1 340.0,531.3 336.0,531.5 332.0,531.7 328.0,532.0 324.0,532.2 320.0,532.5 316.0,532.7 312.0,533.0 308.0,533.2 304.0,533.5 300.0,533.8 296.0,534.1 292.0,534.5 288.0,534.8 284.0,535.1 280.0,535.5 276.0,535.9 272.0,536.3 268.0,536.8 264.0,537.2 260.0,537.7 256.0,538.2 252.0,538.8 248.0,539.3 244.0,539.9 240.0,540.5 236.0,541.2 232.0,541.9 228.0,542.6 224.0,543.3 220.0,544.1 216.0,545.0 212.0,545.8 208.0,546.7 204.0,547.7 200.0,548.6 196.0,549.7 192.0,550.7 188.0,551.8 184.0,553.0 180.0,554.2 176.0,555.4 172.0,556.7 168.0,558.0 164.0,559.3 160.0,560.7 156.0,562.1 152.0,563.5 148.0,565.0 144.0,566.5 140.0,568.0 136.0,569.5 132.0,571.1 128.0,572.7 124.0,574.3 120.0,575.9 116.0,577.6 112.0,579.3 108.0,581.0 104.0,582.7 100.0,584.4 96.0,586.1 92.0,587.9 88.0,589.6 84.0,591.4 80.0,593.1 76.0,594.9 72.0,596.7 68.0,598.5 64.0,600.3 60.0,602.1 56.0,603.9 52.0,605.7 48.0,607.4 44.0,609.2 40.0,611.0 36.0,612.8 32.0,614.5 28.0,616.3 24.0,618.0 20.0,619.8 16.0,621.5 12.0,623.2 8.0,624.9 4.0,626.6 0.0,628.2 -12.0,628.2 Z" fill="#000"/>
<path d="M-12.0,431.5 0.0,431.5 4.0,429.4 8.0,427.2 12.0,425.1 16.0,423.0 20.0,420.9 24.0,418.7 28.0,416.6 32.0,414.5 36.0,412.5 40.0,410.4 44.0,408.3 48.0,406.3 52.0,404.2 56.0,402.2 60.0,400.1 64.0,398.1 68.0,396.1 72.0,394.1 76.0,392.1 80.0,390.1 84.0,388.2 88.0,386.2 92.0,384.3 96.0,382.4 100.0,380.5 104.0,378.6 108.0,376.7 112.0,374.9 116.0,373.0 120.0,371.2 124.0,369.4 128.0,367.6 132.0,365.8 136.0,364.0 140.0,362.3 144.0,360.6 148.0,358.9 152.0,357.2 156.0,355.5 160.0,353.9 164.0,352.3 168.0,350.7 172.0,349.1 176.0,347.5 180.0,346.0 184.0,344.5 188.0,343.0 192.0,341.5 196.0,340.1 200.0,338.7 204.0,337.3 208.0,335.9 212.0,334.6 216.0,333.2 220.0,331.9 224.0,330.7 228.0,329.4 232.0,328.2 236.0,327.0 240.0,325.9 244.0,324.8 248.0,323.7 252.0,322.6 256.0,321.6 260.0,320.5 264.0,319.6 268.0,318.6 272.0,317.7 276.0,316.8 280.0,315.9 284.0,315.1 288.0,314.3 292.0,313.5 296.0,312.7 300.0,312.0 304.0,311.3 308.0,310.6 312.0,310.0 316.0,309.4 320.0,308.8 324.0,308.2 328.0,307.6 332.0,307.1 336.0,306.6 340.0,306.2 344.0,305.7 348.0,305.3 352.0,304.9 356.0,304.6 360.0,304.2 364.0,303.9 368.0,303.6 372.0,303.4 376.0,303.1 380.0,302.9 384.0,302.7 388.0,302.6 392.0,302.4 396.0,302.3 400.0,302.2 404.0,302.1 408.0,302.1 412.0,302.0 416.0,302.0 420.0,302.1 424.0,302.1 428.0,302.2 432.0,302.2 436.0,302.3 440.0,302.5 444.0,302.6 448.0,302.8 452.0,303.0 456.0,303.2 460.0,303.4 464.0,303.7 468.0,303.9 472.0,304.2 476.0,304.6 480.0,304.9 484.0,305.2 488.0,305.6 492.0,306.0 496.0,306.4 500.0,306.8 504.0,307.3 508.0,307.8 512.0,308.3 516.0,308.8 520.0,309.3 524.0,309.8 528.0,310.4 532.0,311.0 536.0,311.6 540.0,312.2 544.0,312.8 548.0,313.5 552.0,314.1 556.0,314.8 560.0,315.5 564.0,316.3 568.0,317.0 572.0,317.8 576.0,318.6 580.0,319.4 584.0,320.2 588.0,321.0 592.0,321.9 596.0,322.8 600.0,323.7 604.0,324.6 608.0,325.6 612.0,326.5 616.0,327.5 620.0,328.5 624.0,329.5 628.0,330.6 632.0,331.6 636.0,332.7 640.0,333.8 644.0,335.0 648.0,336.1 652.0,337.3 656.0,338.5 660.0,339.7 664.0,340.9 668.0,342.2 672.0,343.4 676.0,344.7 680.0,346.1 684.0,347.4 688.0,348.8 692.0,350.1 696.0,351.5 700.0,353.0 704.0,354.4 708.0,355.9 712.0,357.4 716.0,358.9 720.0,360.4 724.0,362.0 728.0,363.6 732.0,365.2 736.0,366.8 740.0,368.4 744.0,370.1 748.0,371.8 752.0,373.5 756.0,375.2 760.0,377.0 764.0,378.8 768.0,380.6 772.0,382.4 776.0,384.2 780.0,386.1 784.0,388.0 788.0,389.9 792.0,391.8 796.0,393.7 800.0,395.7 804.0,397.7 808.0,399.7 812.0,401.7 816.0,403.8 820.0,405.9 824.0,408.0 828.0,410.1 832.0,412.2 836.0,414.4 840.0,416.6 844.0,418.8 848.0,421.0 852.0,423.2 856.0,425.5 860.0,427.8 864.0,430.1 868.0,432.4 872.0,434.8 876.0,437.1 880.0,439.5 884.0,441.9 888.0,444.4 892.0,446.8 896.0,449.3 900.0,451.8 904.0,454.3 908.0,456.8 912.0,459.4 916.0,462.0 920.0,464.6 924.0,467.2 928.0,469.8 932.0,472.5 936.0,475.2 940.0,477.9 944.0,480.6 948.0,483.3 952.0,486.1 956.0,488.9 960.0,491.7 964.0,494.5 968.0,497.3 972.0,500.2 976.0,503.0 980.0,505.9 984.0,508.9 988.0,511.8 992.0,514.8 996.0,517.7 1000.0,520.7 1004.0,523.7 1008.0,526.8 1012.0,529.8 1016.0,532.9 1020.0,536.0 1024.0,539.1 1028.0,542.2 1032.0,545.3 1036.0,548.4 1040.0,551.6 1044.0,554.7 1048.0,557.9 1052.0,561.1 1056.0,564.2 1060.0,567.4 1064.0,570.6 1068.0,573.8 1072.0,577.0 1076.0,580.2 1080.0,583.4 1084.0,586.6 1088.0,589.8 1092.0,593.0 1096.0,596.2 1100.0,599.4 1104.0,602.6 1108.0,605.8 1112.0,609.0 1116.0,612.2 1120.0,615.4 1124.0,618.6 1128.0,621.7 1132.0,624.9 1136.0,628.0 1140.0,631.2 1144.0,634.3 1148.0,637.4 1152.0,640.5 1156.0,643.6 1160.0,646.7 1164.0,649.7 1168.0,652.8 1172.0,655.8 1176.0,658.8 1180.0,661.8 1184.0,664.8 1188.0,667.7 1192.0,670.6 1196.0,673.5 1200.0,676.4 1204.0,679.3 1208.0,682.1 1212.0,684.9 1216.0,687.7 1220.0,690.5 1224.0,693.2 1228.0,695.9 1232.0,698.6 1236.0,701.2 1240.0,703.9 1244.0,706.4 1248.0,709.0 1252.0,711.5 1256.0,714.0 1260.0,716.5 1264.0,718.9 1268.0,721.3 1272.0,723.6 1276.0,725.9 1280.0,728.2 1284.0,730.4 1288.0,732.6 1292.0,734.8 1296.0,736.9 1300.0,738.9 1304.0,741.0 1308.0,742.9 1312.0,744.9 1316.0,746.8 1320.0,748.6 1324.0,750.4 1328.0,752.2 1332.0,753.9 1336.0,755.5 1340.0,757.1 1344.0,758.7 1348.0,760.2 1352.0,761.7 1356.0,763.1 1360.0,764.4 1364.0,765.7 1368.0,767.0 1372.0,768.2 1376.0,769.3 1380.0,770.4 1384.0,771.4 1388.0,772.4 1392.0,773.3 1396.0,774.2 1400.0,775.0 1404.0,775.7 1408.0,776.4 1412.0,777.0 1416.0,777.6 1420.0,778.1 1424.0,778.5 1428.0,778.9 1432.0,779.2 1436.0,779.5 1440.0,779.6 1444.0,779.8 1445.0,779.8 1457.0,779.8 L1457.0,923.0 1445.0,923.0 1444.0,923.2 1440.0,923.6 1436.0,924.0 1432.0,924.3 1428.0,924.5 1424.0,924.8 1420.0,924.9 1416.0,925.1 1412.0,925.1 1408.0,925.2 1404.0,925.1 1400.0,925.1 1396.0,925.0 1392.0,924.8 1388.0,924.6 1384.0,924.3 1380.0,924.0 1376.0,923.7 1372.0,923.3 1368.0,922.8 1364.0,922.3 1360.0,921.8 1356.0,921.2 1352.0,920.6 1348.0,919.9 1344.0,919.2 1340.0,918.4 1336.0,917.6 1332.0,916.8 1328.0,915.9 1324.0,915.0 1320.0,914.0 1316.0,913.0 1312.0,911.9 1308.0,910.9 1304.0,909.7 1300.0,908.5 1296.0,907.3 1292.0,906.1 1288.0,904.8 1284.0,903.4 1280.0,902.0 1276.0,900.6 1272.0,899.2 1268.0,897.7 1264.0,896.1 1260.0,894.6 1256.0,892.9 1252.0,891.3 1248.0,889.6 1244.0,887.9 1240.0,886.1 1236.0,884.3 1232.0,882.5 1228.0,880.6 1224.0,878.7 1220.0,876.8 1216.0,874.8 1212.0,872.8 1208.0,870.8 1204.0,868.7 1200.0,866.6 1196.0,864.4 1192.0,862.3 1188.0,860.1 1184.0,857.8 1180.0,855.5 1176.0,853.2 1172.0,850.9 1168.0,848.5 1164.0,846.1 1160.0,843.7 1156.0,841.2 1152.0,838.7 1148.0,836.2 1144.0,833.7 1140.0,831.1 1136.0,828.5 1132.0,825.8 1128.0,823.2 1124.0,820.5 1120.0,817.7 1116.0,815.0 1112.0,812.2 1108.0,809.4 1104.0,806.6 1100.0,803.7 1096.0,800.8 1092.0,797.9 1088.0,795.0 1084.0,792.0 1080.0,789.0 1076.0,786.0 1072.0,783.0 1068.0,779.9 1064.0,776.8 1060.0,773.7 1056.0,770.6 1052.0,767.4 1048.0,764.3 1044.0,761.1 1040.0,757.9 1036.0,754.7 1032.0,751.4 1028.0,748.2 1024.0,744.9 1020.0,741.7 1016.0,738.4 1012.0,735.1 1008.0,731.8 1004.0,728.4 1000.0,725.1 996.0,721.8 992.0,718.4 988.0,715.1 984.0,711.7 980.0,708.4 976.0,705.0 972.0,701.6 968.0,698.2 964.0,694.9 960.0,691.5 956.0,688.1 952.0,684.7 948.0,681.3 944.0,677.9 940.0,674.6 936.0,671.2 932.0,667.8 928.0,664.5 924.0,661.1 920.0,657.7 916.0,654.4 912.0,651.1 908.0,647.7 904.0,644.4 900.0,641.1 896.0,637.8 892.0,634.5 888.0,631.2 884.0,628.0 880.0,624.7 876.0,621.5 872.0,618.3 868.0,615.1 864.0,611.9 860.0,608.7 856.0,605.6 852.0,602.5 848.0,599.4 844.0,596.3 840.0,593.2 836.0,590.2 832.0,587.2 828.0,584.2 824.0,581.2 820.0,578.3 816.0,575.3 812.0,572.5 808.0,569.6 804.0,566.8 800.0,564.0 796.0,561.2 792.0,558.5 788.0,555.8 784.0,553.1 780.0,550.5 776.0,547.9 772.0,545.3 768.0,542.8 764.0,540.3 760.0,537.8 756.0,535.4 752.0,533.0 748.0,530.6 744.0,528.3 740.0,526.0 736.0,523.7 732.0,521.5 728.0,519.3 724.0,517.1 720.0,514.9 716.0,512.8 712.0,510.7 708.0,508.6 704.0,506.6 700.0,504.6 696.0,502.6 692.0,500.7 688.0,498.7 684.0,496.8 680.0,495.0 676.0,493.1 672.0,491.3 668.0,489.5 664.0,487.7 660.0,486.0 656.0,484.3 652.0,482.6 648.0,480.9 644.0,479.2 640.0,477.6 636.0,476.0 632.0,474.4 628.0,472.9 624.0,471.3 620.0,469.8 616.0,468.3 612.0,466.8 608.0,465.4 604.0,464.0 600.0,462.6 596.0,461.2 592.0,459.9 588.0,458.5 584.0,457.2 580.0,456.0 576.0,454.7 572.0,453.5 568.0,452.3 564.0,451.1 560.0,449.9 556.0,448.8 552.0,447.7 548.0,446.6 544.0,445.5 540.0,444.5 536.0,443.5 532.0,442.5 528.0,441.5 524.0,440.6 520.0,439.6 516.0,438.8 512.0,437.9 508.0,437.0 504.0,436.2 500.0,435.4 496.0,434.6 492.0,433.9 488.0,433.1 484.0,432.4 480.0,431.8 476.0,431.1 472.0,430.5 468.0,429.9 464.0,429.3 460.0,428.7 456.0,428.2 452.0,427.7 448.0,427.2 444.0,426.7 440.0,426.3 436.0,425.9 432.0,425.5 428.0,425.1 424.0,424.8 420.0,424.5 416.0,424.2 412.0,423.9 408.0,423.6 404.0,423.4 400.0,423.2 396.0,423.1 392.0,422.9 388.0,422.8 384.0,422.7 380.0,422.6 376.0,422.6 372.0,422.6 368.0,422.6 364.0,422.6 360.0,422.6 356.0,422.7 352.0,422.8 348.0,422.9 344.0,423.1 340.0,423.3 336.0,423.5 332.0,423.7 328.0,423.9 324.0,424.2 320.0,424.5 316.0,424.8 312.0,425.2 308.0,425.6 304.0,426.0 300.0,426.4 296.0,426.8 292.0,427.3 288.0,427.8 284.0,428.3 280.0,428.9 276.0,429.5 272.0,430.1 268.0,430.7 264.0,431.3 260.0,432.0 256.0,432.7 252.0,433.4 248.0,434.2 244.0,435.0 240.0,435.8 236.0,436.6 232.0,437.5 228.0,438.3 224.0,439.2 220.0,440.2 216.0,441.1 212.0,442.1 208.0,443.1 204.0,444.2 200.0,445.2 196.0,446.3 192.0,447.5 188.0,448.6 184.0,449.8 180.0,451.0 176.0,452.2 172.0,453.5 168.0,454.8 164.0,456.1 160.0,457.4 156.0,458.8 152.0,460.2 148.0,461.6 144.0,463.0 140.0,464.5 136.0,466.0 132.0,467.6 128.0,469.1 124.0,470.7 120.0,472.4 116.0,474.0 112.0,475.7 108.0,477.4 104.0,479.1 100.0,480.9 96.0,482.7 92.0,484.5 88.0,486.4 84.0,488.3 80.0,490.2 76.0,492.1 72.0,494.1 68.0,496.1 64.0,498.2 60.0,500.2 56.0,502.3 52.0,504.5 48.0,506.6 44.0,508.8 40.0,511.0 36.0,513.3 32.0,515.6 28.0,517.9 24.0,520.2 20.0,522.6 16.0,525.0 12.0,527.5 8.0,529.9 4.0,532.5 0.0,535.0 -12.0,535.0 Z" fill="url(#facemask)"/>
</mask>
</defs>
<g mask="url(#nmask)"><rect width="1445" height="1327" filter="url(#noise)"/></g>
</svg>
<div style="position:absolute;left:381.5px;top:182px;width:3.6px;height:218px;background:repeating-linear-gradient(to bottom,#3aaaa2 0px,#3aaaa2 14.5px,transparent 14.5px,transparent 21.75px);background-position:0 -5.899999999999977px"></div>
<div style="position:absolute;left:1119.2px;top:156px;width:3.6px;height:134px;background:repeating-linear-gradient(to bottom,#3aaaa2 0px,#3aaaa2 14.5px,transparent 14.5px,transparent 21.75px);background-position:0 -15.650000000000006px"></div>
<div style="position:absolute;left:258.7px;top:598px;width:3.6px;height:490px;background:repeating-linear-gradient(to bottom,#3aaaa2 0px,#3aaaa2 14.5px,transparent 14.5px,transparent 21.75px);background-position:0 -6.149999999999977px"></div>
<div style="position:absolute;left:855.2px;top:1020px;width:3.6px;height:171px;background:repeating-linear-gradient(to bottom,#3aaaa2 0px,#3aaaa2 14.5px,transparent 14.5px,transparent 21.75px);background-position:0 -20.700000000000045px"></div>
<div style="position:absolute;left:356.5px;top:398px;width:54px;height:54px;border-radius:50%;background:rgba(55,200,185,0.45)"></div>
<div style="position:absolute;left:366.2px;top:407.7px;width:34.6px;height:34.6px;border-radius:50%;background:#37c8b8"></div>
<div style="position:absolute;left:1094px;top:287.3px;width:54px;height:54px;border-radius:50%;background:rgba(55,200,185,0.45)"></div>
<div style="position:absolute;left:1103.7px;top:297.0px;width:34.6px;height:34.6px;border-radius:50%;background:#37c8b8"></div>
<div style="position:absolute;left:232px;top:544px;width:54px;height:54px;border-radius:50%;background:rgba(55,200,185,0.45)"></div>
<div style="position:absolute;left:241.7px;top:553.7px;width:34.6px;height:34.6px;border-radius:50%;background:#37c8b8"></div>
<div style="position:absolute;left:830px;top:971px;width:54px;height:54px;border-radius:50%;background:rgba(55,200,185,0.45)"></div>
<div style="position:absolute;left:839.7px;top:980.7px;width:34.6px;height:34.6px;border-radius:50%;background:#37c8b8"></div>
<div style="position:absolute;left:130.8px;top:94.9px;width:504.99999999999994px;height:85.79999999999998px;border-radius:42.89999999999999px;background:#c6f1ee;box-shadow:0 0 1.5px 1px #dfe9e9"></div>
<div style="position:absolute;left:134.8px;top:98.9px;width:496.99999999999994px;height:77.79999999999998px;border-radius:38.89999999999999px;background:#37bdb5"></div>
<div class="pt" style="left:155.3px;top:116.6px;font-size:38.5px;transform:scaleX(1.0);letter-spacing:-0.86px">Regenerated sponge layer</div>
<div style="position:absolute;left:853.5px;top:68.7px;width:535.0999999999999px;height:86.89999999999999px;border-radius:43.449999999999996px;background:#c6f1ee;box-shadow:0 0 1.5px 1px #dfe9e9"></div>
<div style="position:absolute;left:857.5px;top:72.7px;width:527.0999999999999px;height:78.89999999999999px;border-radius:39.449999999999996px;background:#37bdb5"></div>
<div class="pt" style="left:873.6px;top:90.5px;font-size:38.5px;transform:scaleX(1.0);letter-spacing:-0.72px">Nappa leather fabric surface</div>
<div style="position:absolute;left:40.6px;top:1088.4px;width:440.7px;height:86.69999999999982px;border-radius:43.34999999999991px;background:#c6f1ee;box-shadow:0 0 1.5px 1px #dfe9e9"></div>
<div style="position:absolute;left:44.6px;top:1092.4px;width:432.7px;height:78.69999999999982px;border-radius:39.34999999999991px;background:#37bdb5"></div>
<div class="pt" style="left:65.4px;top:1109.8px;font-size:38.5px;transform:scaleX(1.0);letter-spacing:0px">Foam absorbent layer</div>
<div style="position:absolute;left:626px;top:1191px;width:459.29999999999995px;height:85.59999999999991px;border-radius:42.799999999999955px;background:#c6f1ee;box-shadow:0 0 1.5px 1px #dfe9e9"></div>
<div style="position:absolute;left:630px;top:1195px;width:451.29999999999995px;height:77.59999999999991px;border-radius:38.799999999999955px;background:#37bdb5"></div>
<div class="pt" style="left:649.2px;top:1211.6px;font-size:38.5px;transform:scaleX(1.0);letter-spacing:0px">Non-slip rubber bottom</div>
<div class="t" style="left:241.3px;top:56.7px">Soft and comfortable</div>
<div class="t" style="left:861.5px;top:1px">Rapid penetration of mois-ture does<br>not accumulate</div>
<div class="t" style="left:54.4px;top:1189px">Absorb instantly and evaporate<br>quickly</div>
<div class="t" style="left:654.2px;top:1294px">Anti-slip texture for firm grip</div>
</body></html>
